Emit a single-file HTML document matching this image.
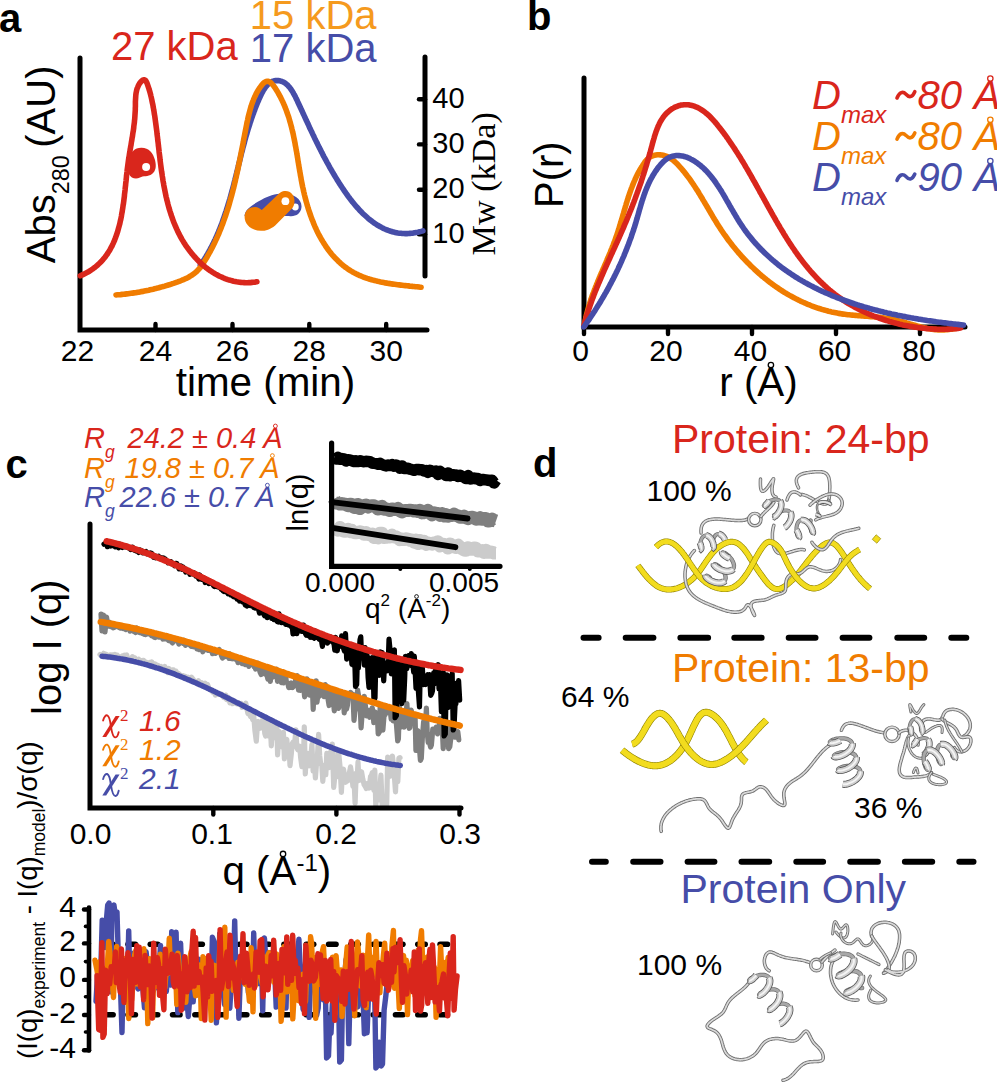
<!DOCTYPE html>
<html><head><meta charset="utf-8"><style>
html,body{margin:0;padding:0;background:#fff;}
svg{display:block;}
</style></head><body>
<svg width="997" height="1082" viewBox="0 0 997 1082">
<rect width="997" height="1082" fill="#fff"/>
<text x="-1" y="32" font-family="Liberation Sans, sans-serif" font-weight="bold" font-size="40">a</text>
<text x="111" y="59.5" font-family="Liberation Sans, sans-serif" font-size="40" fill="#d9261c">27 kDa</text>
<text x="249.8" y="29" font-family="Liberation Sans, sans-serif" font-size="40" fill="#f59a1e">15 kDa</text>
<text x="249.8" y="61.5" font-family="Liberation Sans, sans-serif" font-size="40" fill="#464da8">17 kDa</text>
<path d="M80,58 L80,330 L427,330" fill="none" stroke="#000" stroke-width="5" stroke-linecap="round"/>
<path d="M155.5,330 L155.5,324" fill="none" stroke="#000" stroke-width="4.4" stroke-linecap="round" stroke-linejoin="round" />
<path d="M232.5,330 L232.5,324" fill="none" stroke="#000" stroke-width="4.4" stroke-linecap="round" stroke-linejoin="round" />
<path d="M309.3,330 L309.3,324" fill="none" stroke="#000" stroke-width="4.4" stroke-linecap="round" stroke-linejoin="round" />
<path d="M386.2,330 L386.2,324" fill="none" stroke="#000" stroke-width="4.4" stroke-linecap="round" stroke-linejoin="round" />
<text x="77.5" y="360.5" font-family="Liberation Sans, sans-serif" font-size="30" text-anchor="middle">22</text>
<text x="155.5" y="360.5" font-family="Liberation Sans, sans-serif" font-size="30" text-anchor="middle">24</text>
<text x="232.5" y="360.5" font-family="Liberation Sans, sans-serif" font-size="30" text-anchor="middle">26</text>
<text x="309.3" y="360.5" font-family="Liberation Sans, sans-serif" font-size="30" text-anchor="middle">28</text>
<text x="386.2" y="360.5" font-family="Liberation Sans, sans-serif" font-size="30" text-anchor="middle">30</text>
<text x="265.5" y="395.5" font-family="Liberation Sans, sans-serif" font-size="40.4" text-anchor="middle">time (min)</text>
<text transform="translate(55,263.3) rotate(-90)" font-family="Liberation Sans, sans-serif" font-size="40">Abs<tspan font-size="23.4" dy="13.8">280</tspan><tspan dy="-13.8" dx="7.6">(AU)</tspan></text>
<path d="M425,57 L425,276" fill="none" stroke="#000" stroke-width="5" stroke-linecap="round" stroke-linejoin="round" />
<path d="M425,99.2 L419,99.2" fill="none" stroke="#000" stroke-width="4.4" stroke-linecap="round" stroke-linejoin="round" />
<text x="432.3" y="107.5" font-family="Liberation Sans, sans-serif" font-size="29">40</text>
<path d="M425,144.4 L419,144.4" fill="none" stroke="#000" stroke-width="4.4" stroke-linecap="round" stroke-linejoin="round" />
<text x="432.3" y="152.7" font-family="Liberation Sans, sans-serif" font-size="29">30</text>
<path d="M425,189.7 L419,189.7" fill="none" stroke="#000" stroke-width="4.4" stroke-linecap="round" stroke-linejoin="round" />
<text x="432.3" y="198.0" font-family="Liberation Sans, sans-serif" font-size="29">20</text>
<path d="M425,234.3 L419,234.3" fill="none" stroke="#000" stroke-width="4.4" stroke-linecap="round" stroke-linejoin="round" />
<text x="432.3" y="242.6" font-family="Liberation Sans, sans-serif" font-size="29">10</text>
<text transform="translate(494.5,255.5) rotate(-90)" font-family="Liberation Serif, serif" font-size="34.2">Mw (kDa)</text>
<path d="M200.3,265.1 201.2,263.9 202.0,262.6 202.9,261.4 203.7,260.2 204.5,259.0 205.3,257.7 206.1,256.4 206.8,255.2 207.6,253.9 208.3,252.6 209.1,251.3 209.8,250.0 210.5,248.7 211.2,247.4 211.9,246.0 212.6,244.7 213.3,243.3 213.9,242.0 214.6,240.6 215.2,239.3 215.8,237.9 216.5,236.5 217.1,235.1 217.7,233.7 218.3,232.3 218.9,230.9 219.4,229.5 220.0,228.1 220.6,226.7 221.1,225.3 221.7,223.8 222.2,222.4 222.7,221.0 223.2,219.5 223.7,218.1 224.2,216.6 224.7,215.2 225.2,213.7 225.7,212.3 226.2,210.8 226.6,209.4 227.1,207.9 227.6,206.5 228.0,205.0 228.5,203.5 228.9,202.1 229.3,200.6 229.8,199.1 230.2,197.7 230.6,196.2 231.0,194.7 231.4,193.3 231.8,191.8 232.2,190.3 232.6,188.9 233.0,187.4 233.4,185.9 233.8,184.5 234.1,183.0 234.5,181.6 234.9,180.1 235.2,178.7 235.6,177.2 236.0,175.8 236.3,174.3 236.7,172.9 237.0,171.4 237.4,170.0 237.7,168.6 238.1,167.1 238.4,165.7 238.8,164.3 239.2,162.8 239.5,161.4 239.9,160.0 240.2,158.6 240.6,157.1 240.9,155.7 241.3,154.3 241.6,152.8 242.0,151.4 242.4,150.0 242.7,148.6 243.1,147.1 243.5,145.7 243.9,144.3 244.3,142.8 244.6,141.4 245.0,140.0 245.4,138.5 245.8,137.1 246.2,135.7 246.7,134.2 247.1,132.8 247.5,131.3 247.9,129.9 248.4,128.4 248.8,127.0 249.3,125.5 249.8,124.1 250.2,122.6 250.7,121.2 251.2,119.7 251.7,118.2 252.2,116.8 252.7,115.3 253.3,113.8 253.8,112.3 254.4,110.8 254.9,109.3 255.5,107.8 256.1,106.3 256.7,104.8 257.3,103.3 257.9,101.8 258.6,100.3 259.2,98.8 259.9,97.3 260.6,95.8 261.3,94.3 262.0,92.9 262.8,91.5 263.5,90.1 264.4,88.8 265.2,87.6 266.1,86.5 267.0,85.4 267.9,84.4 268.9,83.5 270.0,82.7 271.0,82.1 272.1,81.5 273.3,81.1 274.5,80.8 275.7,80.6 277.0,80.6 278.2,80.6 279.5,80.8 280.7,81.1 282.0,81.5 283.2,82.0 284.4,82.7 285.5,83.4 286.6,84.3 287.6,85.2 288.6,86.3 289.6,87.4 290.5,88.6 291.4,89.9 292.3,91.3 293.1,92.6 293.9,94.1 294.7,95.5 295.5,97.1 296.2,98.6 297.0,100.1 297.7,101.7 298.4,103.2 299.1,104.7 299.8,106.2 300.5,107.8 301.2,109.2 301.9,110.7 302.6,112.2 303.2,113.7 303.9,115.1 304.6,116.6 305.2,118.0 305.9,119.4 306.5,120.8 307.2,122.2 307.8,123.6 308.5,125.0 309.1,126.4 309.7,127.8 310.4,129.1 311.0,130.5 311.7,131.8 312.3,133.2 312.9,134.5 313.6,135.8 314.2,137.2 314.8,138.5 315.5,139.8 316.1,141.1 316.7,142.4 317.4,143.7 318.0,145.0 318.7,146.3 319.3,147.6 320.0,148.9 320.6,150.2 321.3,151.5 321.9,152.7 322.6,154.0 323.2,155.3 323.9,156.6 324.6,157.8 325.3,159.1 326.0,160.4 326.6,161.7 327.3,162.9 328.1,164.2 328.8,165.5 329.5,166.8 330.2,168.1 330.9,169.3 331.7,170.6 332.4,171.9 333.2,173.2 333.9,174.5 334.7,175.8 335.5,177.1 336.3,178.4 337.1,179.7 337.9,181.0 338.7,182.3 339.5,183.6 340.4,184.9 341.2,186.2 342.1,187.5 343.0,188.8 343.8,190.1 344.7,191.4 345.6,192.7 346.5,194.0 347.5,195.3 348.4,196.6 349.3,197.8 350.3,199.1 351.2,200.3 352.2,201.6 353.2,202.8 354.2,204.0 355.2,205.2 356.2,206.4 357.2,207.5 358.3,208.7 359.3,209.8 360.4,211.0 361.5,212.1 362.5,213.2 363.6,214.2 364.8,215.3 365.9,216.3 367.0,217.3 368.1,218.3 369.3,219.3 370.5,220.2 371.7,221.1 372.8,222.0 374.0,222.8 375.3,223.7 376.5,224.5 377.7,225.3 379.0,226.0 380.3,226.7 381.5,227.4 382.8,228.1 384.1,228.7 385.5,229.3 386.8,229.8 388.1,230.4 389.5,230.8 390.9,231.3 392.3,231.7 393.7,232.1 395.1,232.4 396.5,232.7 397.9,233.0 399.4,233.2 400.9,233.3 402.3,233.5 403.8,233.5 405.3,233.6 406.9,233.6 408.4,233.5 410.0,233.4 411.5,233.3 413.1,233.1 414.7,232.8 416.3,232.5 417.9,232.2 419.6,231.8 421.2,231.4 422.9,230.9" fill="none" stroke="#464da8" stroke-width="5.6" stroke-linecap="round" stroke-linejoin="round" />
<path d="M116.0,295.0 117.5,294.8 119.0,294.7 120.5,294.6 122.1,294.4 123.6,294.3 125.1,294.1 126.6,293.9 128.1,293.7 129.6,293.5 131.0,293.3 132.5,293.1 134.0,292.9 135.5,292.7 137.0,292.4 138.5,292.2 139.9,291.9 141.4,291.6 142.9,291.4 144.3,291.1 145.8,290.8 147.3,290.5 148.7,290.2 150.2,289.8 151.7,289.5 153.1,289.2 154.6,288.8 156.0,288.4 157.5,288.1 158.9,287.7 160.4,287.3 161.8,286.9 163.3,286.5 164.7,286.1 166.2,285.6 167.6,285.2 169.1,284.8 170.5,284.3 172.0,283.8 173.4,283.4 174.9,282.9 176.3,282.4 177.8,281.9 179.2,281.3 180.6,280.8 182.0,280.2 183.5,279.6 184.8,279.0 186.2,278.4 187.6,277.7 188.9,277.0 190.2,276.2 191.5,275.4 192.7,274.6 193.9,273.7 195.1,272.8 196.2,271.9 197.3,270.8 198.3,269.8 199.3,268.6 200.3,267.5 201.2,266.3 202.1,265.0 203.0,263.7 203.8,262.4 204.6,261.1 205.4,259.8 206.2,258.5 207.0,257.2 207.7,255.8 208.5,254.5 209.2,253.2 210.0,251.8 210.7,250.5 211.4,249.2 212.1,247.8 212.8,246.5 213.5,245.1 214.1,243.8 214.8,242.4 215.4,241.1 216.0,239.7 216.7,238.4 217.3,237.0 217.9,235.6 218.5,234.3 219.1,232.9 219.6,231.5 220.2,230.1 220.8,228.7 221.3,227.4 221.8,226.0 222.4,224.6 222.9,223.2 223.4,221.8 223.9,220.4 224.4,219.0 224.9,217.6 225.4,216.2 225.9,214.8 226.3,213.4 226.8,212.0 227.2,210.6 227.7,209.2 228.1,207.8 228.6,206.3 229.0,204.9 229.4,203.5 229.8,202.1 230.2,200.6 230.6,199.2 231.0,197.8 231.4,196.3 231.8,194.9 232.2,193.4 232.6,192.0 232.9,190.6 233.3,189.1 233.7,187.7 234.0,186.2 234.4,184.7 234.7,183.3 235.1,181.8 235.4,180.4 235.7,178.9 236.1,177.4 236.4,176.0 236.7,174.5 237.0,173.0 237.4,171.5 237.7,170.1 238.0,168.6 238.3,167.1 238.6,165.6 238.9,164.1 239.2,162.6 239.5,161.1 239.8,159.6 240.1,158.1 240.4,156.6 240.7,155.1 241.0,153.6 241.3,152.1 241.6,150.6 241.9,149.1 242.2,147.6 242.5,146.1 242.8,144.6 243.1,143.1 243.4,141.5 243.6,140.0 243.9,138.5 244.2,137.0 244.5,135.4 244.8,133.9 245.1,132.4 245.4,130.8 245.7,129.3 246.0,127.7 246.3,126.2 246.6,124.7 246.9,123.1 247.2,121.6 247.6,120.1 247.9,118.5 248.2,117.0 248.6,115.5 249.0,114.0 249.4,112.5 249.8,111.0 250.2,109.5 250.6,108.0 251.1,106.5 251.5,105.1 252.0,103.6 252.5,102.2 253.1,100.8 253.6,99.4 254.2,98.0 254.8,96.6 255.5,95.3 256.1,93.9 256.8,92.6 257.5,91.3 258.3,90.1 259.1,88.8 259.9,87.6 260.8,86.4 261.7,85.2 262.6,84.2 263.5,83.2 264.4,82.4 265.4,81.8 266.4,81.4 267.3,81.2 268.3,81.3 269.2,81.7 270.2,82.2 271.1,83.0 272.0,83.9 272.9,85.0 273.8,86.1 274.7,87.4 275.6,88.7 276.4,90.0 277.2,91.3 278.0,92.6 278.7,94.0 279.5,95.3 280.2,96.6 280.9,98.0 281.6,99.4 282.2,100.7 282.9,102.1 283.5,103.5 284.1,104.8 284.7,106.2 285.2,107.6 285.8,109.0 286.3,110.4 286.8,111.8 287.3,113.2 287.8,114.6 288.3,116.0 288.8,117.4 289.2,118.9 289.6,120.3 290.0,121.7 290.4,123.1 290.8,124.6 291.2,126.0 291.6,127.5 291.9,128.9 292.3,130.4 292.6,131.8 293.0,133.3 293.3,134.7 293.6,136.2 293.9,137.7 294.2,139.1 294.5,140.6 294.8,142.1 295.1,143.6 295.3,145.1 295.6,146.5 295.9,148.0 296.1,149.5 296.4,151.0 296.7,152.5 296.9,154.0 297.2,155.5 297.4,157.0 297.7,158.5 297.9,160.0 298.1,161.5 298.4,163.0 298.6,164.5 298.9,166.0 299.1,167.5 299.4,169.0 299.6,170.5 299.9,172.0 300.2,173.5 300.4,175.0 300.7,176.5 301.0,178.0 301.2,179.5 301.5,181.1 301.8,182.6 302.1,184.1 302.4,185.6 302.7,187.1 303.1,188.6 303.4,190.1 303.7,191.6 304.1,193.1 304.4,194.6 304.8,196.1 305.2,197.7 305.6,199.2 306.0,200.7 306.4,202.2 306.8,203.6 307.2,205.1 307.7,206.6 308.1,208.1 308.6,209.6 309.1,211.1 309.6,212.5 310.1,214.0 310.6,215.5 311.1,216.9 311.6,218.4 312.2,219.8 312.8,221.2 313.3,222.7 313.9,224.1 314.5,225.5 315.1,226.9 315.8,228.3 316.4,229.7 317.0,231.0 317.7,232.4 318.4,233.8 319.1,235.1 319.8,236.4 320.5,237.7 321.3,239.1 322.0,240.3 322.8,241.6 323.6,242.9 324.4,244.1 325.2,245.4 326.0,246.6 326.8,247.8 327.7,249.0 328.6,250.2 329.5,251.4 330.4,252.5 331.3,253.7 332.2,254.8 333.2,255.9 334.2,257.0 335.1,258.0 336.2,259.1 337.2,260.1 338.2,261.1 339.3,262.1 340.3,263.1 341.4,264.0 342.5,265.0 343.7,265.9 344.8,266.8 346.0,267.6 347.2,268.5 348.4,269.3 349.6,270.1 350.8,270.9 352.1,271.6 353.3,272.4 354.6,273.1 356.0,273.8 357.3,274.4 358.6,275.0 360.0,275.7 361.4,276.2 362.8,276.8 364.2,277.3 365.7,277.9 367.1,278.4 368.6,278.8 370.0,279.3 371.5,279.7 373.0,280.1 374.5,280.5 376.1,280.9 377.6,281.3 379.1,281.6 380.7,282.0 382.2,282.3 383.7,282.6 385.3,282.9 386.8,283.1 388.4,283.4 390.0,283.6 391.5,283.9 393.1,284.1 394.6,284.3 396.2,284.5 397.7,284.7 399.2,284.9 400.8,285.1 402.3,285.3 403.8,285.5 405.3,285.6 406.8,285.8 408.3,285.9 409.8,286.1 411.2,286.2 412.7,286.4 414.1,286.5 415.5,286.7 417.0,286.8 418.3,286.9 419.7,287.1 421.1,287.2" fill="none" stroke="#f07c00" stroke-width="5.6" stroke-linecap="round" stroke-linejoin="round" />
<path d="M80.3,275.8 81.8,275.1 83.3,274.4 84.7,273.7 86.1,273.0 87.5,272.3 88.9,271.5 90.2,270.7 91.5,269.8 92.7,269.0 93.9,268.1 95.1,267.2 96.2,266.2 97.4,265.3 98.4,264.3 99.5,263.3 100.5,262.3 101.5,261.3 102.5,260.2 103.4,259.1 104.3,258.0 105.2,256.9 106.0,255.7 106.9,254.6 107.7,253.4 108.4,252.2 109.2,251.0 109.9,249.8 110.6,248.5 111.3,247.2 112.0,246.0 112.6,244.7 113.2,243.4 113.8,242.0 114.4,240.7 114.9,239.3 115.4,238.0 115.9,236.6 116.4,235.2 116.9,233.8 117.4,232.4 117.8,231.0 118.2,229.5 118.6,228.1 119.0,226.6 119.4,225.1 119.8,223.7 120.1,222.2 120.4,220.7 120.8,219.2 121.1,217.7 121.4,216.2 121.6,214.7 121.9,213.1 122.2,211.6 122.4,210.1 122.7,208.5 122.9,207.0 123.1,205.4 123.4,203.9 123.6,202.3 123.8,200.8 124.0,199.2 124.2,197.6 124.4,196.1 124.5,194.5 124.7,193.0 124.9,191.4 125.1,189.8 125.2,188.3 125.4,186.7 125.6,185.2 125.7,183.6 125.9,182.1 126.1,180.5 126.2,179.0 126.4,177.4 126.5,175.9 126.7,174.3 126.9,172.8 127.1,171.3 127.2,169.8 127.4,168.3 127.6,166.8 127.8,165.3 128.0,163.8 128.2,162.3 128.4,160.8 128.6,159.4 128.8,157.9 129.1,156.5 129.3,155.0 129.5,153.6 129.8,152.2 130.0,150.8 130.2,149.3 130.5,147.9 130.7,146.5 131.0,145.1 131.2,143.7 131.4,142.3 131.7,140.8 131.9,139.4 132.1,138.0 132.4,136.6 132.6,135.2 132.8,133.7 133.0,132.3 133.3,130.9 133.5,129.4 133.7,128.0 133.8,126.5 134.0,125.0 134.2,123.6 134.4,122.1 134.5,120.6 134.7,119.1 134.8,117.6 134.9,116.1 135.0,114.5 135.1,113.0 135.2,111.4 135.3,109.8 135.3,108.2 135.4,106.6 135.4,105.0 135.4,103.4 135.4,101.7 135.5,100.1 135.6,98.4 135.7,96.8 135.8,95.2 136.0,93.6 136.3,92.0 136.6,90.5 137.0,88.9 137.6,87.5 138.2,86.0 138.9,84.6 139.7,83.3 140.7,82.0 141.7,81.0 142.7,80.2 143.7,79.8 144.6,79.8 145.4,80.3 146.1,81.2 146.7,82.4 147.3,83.8 147.8,85.3 148.3,86.8 148.8,88.3 149.2,89.8 149.7,91.2 150.1,92.7 150.5,94.2 150.8,95.6 151.2,97.1 151.5,98.5 151.8,99.9 152.1,101.4 152.4,102.8 152.7,104.2 153.0,105.6 153.2,107.1 153.5,108.5 153.7,110.0 154.0,111.4 154.2,112.9 154.4,114.3 154.7,115.8 154.9,117.2 155.1,118.7 155.3,120.2 155.5,121.7 155.7,123.1 155.9,124.6 156.1,126.1 156.3,127.6 156.5,129.1 156.7,130.6 156.9,132.1 157.0,133.6 157.2,135.1 157.4,136.6 157.6,138.1 157.7,139.7 157.9,141.2 158.1,142.7 158.3,144.2 158.4,145.7 158.6,147.2 158.8,148.8 159.0,150.3 159.1,151.8 159.3,153.3 159.5,154.9 159.7,156.4 159.9,157.9 160.0,159.4 160.2,161.0 160.4,162.5 160.6,164.0 160.8,165.5 161.0,167.1 161.2,168.6 161.4,170.1 161.6,171.6 161.9,173.1 162.1,174.7 162.3,176.2 162.6,177.7 162.8,179.2 163.0,180.7 163.3,182.2 163.6,183.7 163.8,185.2 164.1,186.7 164.4,188.2 164.7,189.7 165.0,191.2 165.3,192.7 165.6,194.2 165.9,195.7 166.2,197.1 166.6,198.6 166.9,200.1 167.3,201.5 167.7,203.0 168.0,204.4 168.4,205.9 168.8,207.3 169.2,208.8 169.7,210.2 170.1,211.6 170.6,213.1 171.0,214.5 171.5,215.9 172.0,217.3 172.5,218.7 173.0,220.1 173.5,221.5 174.0,222.9 174.6,224.2 175.2,225.6 175.8,227.0 176.4,228.3 177.0,229.7 177.6,231.0 178.2,232.3 178.9,233.7 179.6,235.0 180.3,236.3 181.0,237.6 181.7,238.9 182.4,240.1 183.2,241.4 184.0,242.7 184.8,243.9 185.6,245.2 186.4,246.4 187.3,247.6 188.2,248.8 189.0,250.0 190.0,251.2 190.9,252.4 191.8,253.6 192.8,254.7 193.8,255.9 194.8,257.0 195.8,258.1 196.8,259.2 197.9,260.3 198.9,261.4 200.0,262.4 201.1,263.4 202.2,264.5 203.4,265.4 204.5,266.4 205.7,267.4 206.9,268.3 208.1,269.2 209.3,270.1 210.5,270.9 211.8,271.7 213.0,272.6 214.3,273.3 215.6,274.1 216.9,274.8 218.2,275.5 219.5,276.2 220.9,276.8 222.3,277.4 223.6,278.0 225.0,278.6 226.4,279.1 227.8,279.6 229.2,280.0 230.7,280.4 232.1,280.8 233.6,281.2 235.1,281.5 236.6,281.8 238.1,282.0 239.6,282.2 241.1,282.4 242.6,282.5 244.2,282.6 245.7,282.7 247.3,282.7 248.9,282.6 250.4,282.6 252.0,282.4 253.6,282.3 255.3,282.1 256.9,281.8" fill="none" stroke="#d9261c" stroke-width="5.6" stroke-linecap="round" stroke-linejoin="round" />
<path fill="#464da8" d="M244.5,216 C245,209 252,205 262,199.5 C268,196 277,193 284,193.5 C294,194 302,199 301.5,207 C301,214 295,217 289,216 L268,216 Z"/>
<circle cx="295.3" cy="207" r="3.4" fill="#fff"/>
<path fill="#f07c00" d="M244.6,216.3 C245,210 250,207 255,207 C258,207 260,208.5 261.8,210.1 L278.5,194.1 C281,191.5 283.5,191 285.6,191 C291,191 294.5,195.5 294.5,201 C294.5,205 293,207.5 291.5,209.1 L275.2,225.4 C270,229.5 266,230.8 260.9,230.8 C252,230.8 244.3,225 244.6,216.3 Z"/>
<circle cx="285.4" cy="201.2" r="3.9" fill="#fff"/>
<path fill="#d9261c" d="M129,160 C130,152 135,147.6 141.6,147.8 C149,148 153,153 155,160 C156.5,166 156,171 152,174 C148,177 143,175.5 140,177.5 C136,179.5 131,178.5 129,174 Z"/>
<circle cx="146.1" cy="167.1" r="4" fill="#fff"/>
<text x="527" y="30" font-family="Liberation Sans, sans-serif" font-weight="bold" font-size="40">b</text>
<path d="M584,78 L584,327 L965,327" fill="none" stroke="#000" stroke-width="5" stroke-linecap="round"/>
<path d="M584.0,327 L584.0,334" fill="none" stroke="#000" stroke-width="4.4" stroke-linecap="round" stroke-linejoin="round" />
<path d="M668.0,327 L668.0,334" fill="none" stroke="#000" stroke-width="4.4" stroke-linecap="round" stroke-linejoin="round" />
<path d="M752.0,327 L752.0,334" fill="none" stroke="#000" stroke-width="4.4" stroke-linecap="round" stroke-linejoin="round" />
<path d="M836.0,327 L836.0,334" fill="none" stroke="#000" stroke-width="4.4" stroke-linecap="round" stroke-linejoin="round" />
<path d="M920.0,327 L920.0,334" fill="none" stroke="#000" stroke-width="4.4" stroke-linecap="round" stroke-linejoin="round" />
<text x="580.5" y="361" font-family="Liberation Sans, sans-serif" font-size="30" text-anchor="middle">0</text>
<text x="666.0" y="361" font-family="Liberation Sans, sans-serif" font-size="30" text-anchor="middle">20</text>
<text x="750.5" y="361" font-family="Liberation Sans, sans-serif" font-size="30" text-anchor="middle">40</text>
<text x="834.6" y="361" font-family="Liberation Sans, sans-serif" font-size="30" text-anchor="middle">60</text>
<text x="919.0" y="361" font-family="Liberation Sans, sans-serif" font-size="30" text-anchor="middle">80</text>
<text x="758.5" y="395.8" font-family="Liberation Sans, sans-serif" font-size="40.4" text-anchor="middle">r (A)</text>
<text transform="translate(563,208) rotate(-90)" font-family="Liberation Sans, sans-serif" font-size="40">P(r)</text>
<path d="M584.3,326.2 584.6,324.6 584.8,323.1 585.1,321.6 585.4,320.1 585.7,318.5 586.0,317.0 586.4,315.5 586.7,314.1 587.1,312.6 587.5,311.1 587.9,309.6 588.3,308.2 588.7,306.7 589.1,305.3 589.6,303.8 590.0,302.4 590.5,301.0 591.0,299.5 591.4,298.1 591.9,296.7 592.4,295.3 592.9,293.9 593.5,292.5 594.0,291.1 594.5,289.7 595.1,288.3 595.6,286.9 596.2,285.5 596.7,284.1 597.3,282.8 597.8,281.4 598.4,280.0 599.0,278.6 599.6,277.2 600.1,275.9 600.7,274.5 601.3,273.1 601.9,271.8 602.5,270.4 603.1,269.0 603.7,267.7 604.3,266.3 604.9,264.9 605.5,263.5 606.1,262.2 606.7,260.8 607.2,259.4 607.8,258.0 608.4,256.7 609.0,255.3 609.6,253.9 610.2,252.5 610.7,251.1 611.3,249.7 611.9,248.3 612.4,246.9 613.0,245.5 613.5,244.1 614.0,242.7 614.6,241.3 615.1,239.9 615.6,238.5 616.1,237.0 616.6,235.6 617.1,234.2 617.6,232.7 618.1,231.3 618.5,229.8 619.0,228.4 619.4,226.9 619.9,225.4 620.3,224.0 620.8,222.5 621.2,221.0 621.7,219.5 622.1,218.1 622.5,216.6 622.9,215.1 623.4,213.6 623.8,212.2 624.2,210.7 624.7,209.2 625.1,207.7 625.5,206.3 626.0,204.8 626.4,203.3 626.9,201.9 627.3,200.4 627.8,199.0 628.3,197.5 628.7,196.1 629.2,194.6 629.7,193.2 630.2,191.8 630.7,190.3 631.2,188.9 631.8,187.5 632.3,186.1 632.9,184.7 633.4,183.3 634.0,181.9 634.6,180.6 635.2,179.2 635.8,177.8 636.4,176.5 637.1,175.2 637.8,173.8 638.4,172.5 639.2,171.2 639.9,169.9 640.6,168.7 641.4,167.4 642.2,166.2 643.0,164.9 643.8,163.7 644.6,162.5 645.5,161.3 646.4,160.2 647.4,159.2 648.5,158.3 649.5,157.4 650.7,156.7 651.9,156.1 653.2,155.6 654.6,155.2 655.9,155.0 657.4,154.8 658.8,154.8 660.3,154.9 661.7,155.0 663.2,155.3 664.6,155.7 666.1,156.2 667.5,156.7 668.8,157.4 670.1,158.2 671.4,159.0 672.7,159.9 673.9,160.9 675.0,161.9 676.2,163.0 677.3,164.1 678.4,165.2 679.4,166.4 680.5,167.6 681.5,168.7 682.5,169.9 683.5,171.1 684.5,172.3 685.4,173.5 686.4,174.8 687.3,176.0 688.3,177.2 689.2,178.4 690.1,179.7 690.9,180.9 691.8,182.2 692.7,183.4 693.5,184.7 694.4,186.0 695.2,187.2 696.0,188.5 696.8,189.8 697.7,191.0 698.5,192.3 699.2,193.6 700.0,194.9 700.8,196.2 701.6,197.5 702.4,198.8 703.1,200.1 703.9,201.4 704.7,202.7 705.4,204.0 706.2,205.2 706.9,206.5 707.7,207.8 708.5,209.1 709.2,210.4 710.0,211.7 710.7,213.0 711.5,214.3 712.3,215.6 713.0,216.9 713.8,218.2 714.6,219.5 715.4,220.7 716.2,222.0 716.9,223.3 717.7,224.6 718.5,225.8 719.4,227.1 720.2,228.4 721.0,229.6 721.8,230.9 722.7,232.1 723.5,233.4 724.4,234.6 725.3,235.8 726.2,237.0 727.0,238.3 727.9,239.5 728.8,240.7 729.8,241.9 730.7,243.1 731.6,244.3 732.5,245.5 733.5,246.7 734.4,247.8 735.4,249.0 736.4,250.2 737.3,251.3 738.3,252.5 739.3,253.6 740.3,254.7 741.3,255.9 742.3,257.0 743.3,258.1 744.4,259.2 745.4,260.3 746.5,261.4 747.5,262.5 748.6,263.6 749.6,264.6 750.7,265.7 751.8,266.8 752.9,267.8 754.0,268.8 755.1,269.9 756.2,270.9 757.3,271.9 758.4,272.9 759.5,273.9 760.7,274.9 761.8,275.9 763.0,276.8 764.1,277.8 765.3,278.7 766.5,279.7 767.7,280.6 768.8,281.5 770.0,282.4 771.2,283.3 772.4,284.2 773.6,285.1 774.9,286.0 776.1,286.8 777.3,287.7 778.6,288.5 779.8,289.4 781.0,290.2 782.3,291.0 783.6,291.8 784.8,292.6 786.1,293.3 787.4,294.1 788.7,294.9 790.0,295.6 791.3,296.3 792.6,297.0 793.9,297.7 795.2,298.4 796.5,299.1 797.9,299.8 799.2,300.4 800.5,301.1 801.9,301.7 803.2,302.3 804.6,302.9 806.0,303.5 807.3,304.1 808.7,304.7 810.1,305.2 811.5,305.8 812.9,306.3 814.3,306.8 815.7,307.3 817.1,307.8 818.5,308.3 819.9,308.7 821.3,309.2 822.8,309.6 824.2,310.0 825.6,310.4 827.1,310.8 828.5,311.2 830.0,311.5 831.4,311.9 832.9,312.2 834.4,312.5 835.8,312.8 837.3,313.1 838.8,313.4 840.3,313.6 841.8,313.9 843.3,314.1 844.8,314.3 846.3,314.5 847.8,314.7 849.3,314.8 850.8,315.0 852.3,315.1 853.9,315.3 855.4,315.4 856.9,315.5 858.4,315.7 860.0,315.8 861.5,315.9 863.0,316.0 864.6,316.1 866.1,316.2 867.6,316.3 869.1,316.5 870.7,316.6 872.2,316.7 873.7,316.8 875.2,317.0 876.8,317.1 878.3,317.3 879.8,317.4 881.3,317.6 882.8,317.8 884.3,318.0 885.8,318.2 887.3,318.4 888.8,318.7 890.3,318.9 891.7,319.2 893.2,319.5 894.7,319.8 896.1,320.1 897.6,320.5 899.0,320.9 900.5,321.2 901.9,321.6 903.4,322.0 904.8,322.4 906.2,322.8 907.7,323.3 909.1,323.7 910.5,324.1 911.9,324.5 913.4,324.9 914.8,325.3 916.2,325.7 917.7,326.1 919.1,326.5 920.5,326.9 922.0,327.3 923.4,327.6 924.9,327.9 926.3,328.3 927.8,328.6 929.2,328.8 930.7,329.1 932.2,329.3 933.6,329.5 935.1,329.6 936.6,329.8 938.1,329.9 939.6,330.0 941.2,330.0 942.7,330.0 944.2,329.9 945.8,329.8 947.3,329.7 948.9,329.5 950.5,329.3 952.1,329.1 953.7,328.7 955.3,328.4 957.0,328.0 958.6,327.5" fill="none" stroke="#f07c00" stroke-width="5.6" stroke-linecap="round" stroke-linejoin="round" />
<path d="M584.0,325.9 584.3,324.5 584.7,323.1 585.1,321.7 585.5,320.2 585.9,318.8 586.3,317.4 586.7,316.0 587.1,314.6 587.6,313.1 588.0,311.7 588.5,310.3 588.9,308.9 589.4,307.5 589.9,306.0 590.4,304.6 590.9,303.2 591.4,301.8 591.9,300.4 592.4,299.0 593.0,297.6 593.5,296.1 594.0,294.7 594.6,293.3 595.1,291.9 595.7,290.5 596.3,289.1 596.8,287.7 597.4,286.3 598.0,284.9 598.6,283.5 599.2,282.1 599.8,280.7 600.4,279.3 601.0,277.9 601.6,276.5 602.2,275.1 602.8,273.7 603.4,272.3 604.0,270.9 604.6,269.5 605.3,268.1 605.9,266.7 606.5,265.3 607.1,263.9 607.8,262.5 608.4,261.2 609.0,259.8 609.7,258.4 610.3,257.0 610.9,255.6 611.5,254.2 612.2,252.9 612.8,251.5 613.4,250.1 614.1,248.7 614.7,247.4 615.3,246.0 615.9,244.6 616.6,243.2 617.2,241.9 617.8,240.5 618.4,239.1 619.0,237.8 619.6,236.4 620.2,235.1 620.8,233.7 621.4,232.3 622.0,231.0 622.6,229.6 623.2,228.3 623.8,226.9 624.3,225.6 624.9,224.2 625.5,222.9 626.1,221.5 626.6,220.2 627.2,218.8 627.7,217.5 628.3,216.1 628.8,214.8 629.4,213.4 629.9,212.0 630.5,210.7 631.0,209.3 631.6,208.0 632.1,206.6 632.6,205.2 633.1,203.9 633.7,202.5 634.2,201.1 634.7,199.8 635.2,198.4 635.7,197.0 636.2,195.6 636.7,194.3 637.2,192.9 637.7,191.5 638.2,190.1 638.7,188.7 639.2,187.3 639.7,185.9 640.2,184.5 640.7,183.1 641.2,181.7 641.6,180.2 642.1,178.8 642.6,177.4 643.0,175.9 643.5,174.5 644.0,173.0 644.4,171.6 644.9,170.1 645.3,168.7 645.8,167.2 646.3,165.7 646.7,164.2 647.1,162.7 647.6,161.2 648.0,159.7 648.5,158.2 648.9,156.7 649.3,155.2 649.8,153.6 650.2,152.1 650.6,150.6 651.0,149.0 651.5,147.4 651.9,145.9 652.3,144.3 652.7,142.7 653.2,141.1 653.6,139.6 654.1,138.0 654.5,136.4 655.0,134.9 655.5,133.4 656.0,131.8 656.6,130.3 657.1,128.8 657.7,127.4 658.3,125.9 659.0,124.5 659.6,123.2 660.3,121.8 661.1,120.5 661.9,119.2 662.7,118.0 663.6,116.7 664.5,115.6 665.4,114.5 666.4,113.4 667.5,112.4 668.5,111.4 669.7,110.5 670.8,109.6 672.0,108.8 673.3,108.1 674.5,107.4 675.8,106.8 677.1,106.3 678.4,105.8 679.8,105.4 681.1,105.1 682.5,104.9 683.8,104.7 685.2,104.7 686.6,104.7 687.9,104.8 689.3,104.9 690.7,105.2 692.0,105.5 693.3,105.9 694.6,106.3 695.9,106.8 697.2,107.3 698.4,107.9 699.6,108.6 700.8,109.3 702.0,110.1 703.1,110.8 704.3,111.7 705.4,112.6 706.5,113.5 707.6,114.4 708.7,115.4 709.8,116.4 710.8,117.5 711.8,118.6 712.9,119.7 713.9,120.8 714.9,121.9 715.9,123.1 716.9,124.3 717.8,125.5 718.8,126.7 719.7,127.9 720.7,129.1 721.6,130.3 722.5,131.5 723.5,132.8 724.4,134.0 725.3,135.2 726.2,136.5 727.1,137.7 728.0,139.0 728.9,140.3 729.7,141.5 730.6,142.8 731.5,144.1 732.3,145.4 733.2,146.6 734.0,147.9 734.9,149.2 735.7,150.5 736.6,151.8 737.4,153.1 738.2,154.4 739.0,155.7 739.9,157.0 740.7,158.3 741.5,159.7 742.3,161.0 743.1,162.3 743.9,163.6 744.7,164.9 745.4,166.3 746.2,167.6 747.0,168.9 747.8,170.3 748.6,171.6 749.3,172.9 750.1,174.3 750.9,175.6 751.6,177.0 752.4,178.3 753.1,179.6 753.9,181.0 754.7,182.3 755.4,183.7 756.2,185.0 756.9,186.4 757.7,187.7 758.4,189.1 759.2,190.4 759.9,191.8 760.6,193.1 761.4,194.4 762.1,195.8 762.9,197.1 763.6,198.5 764.4,199.8 765.1,201.2 765.8,202.5 766.6,203.8 767.3,205.2 768.1,206.5 768.8,207.9 769.6,209.2 770.3,210.5 771.1,211.9 771.8,213.2 772.6,214.5 773.3,215.8 774.1,217.2 774.8,218.5 775.6,219.8 776.3,221.1 777.1,222.4 777.8,223.7 778.6,225.0 779.4,226.3 780.1,227.6 780.9,228.9 781.7,230.2 782.5,231.5 783.3,232.8 784.0,234.1 784.8,235.4 785.6,236.6 786.4,237.9 787.2,239.2 788.0,240.4 788.8,241.7 789.6,242.9 790.4,244.2 791.3,245.4 792.1,246.7 792.9,247.9 793.8,249.1 794.6,250.4 795.4,251.6 796.3,252.8 797.1,254.0 798.0,255.2 798.9,256.4 799.7,257.6 800.6,258.7 801.5,259.9 802.4,261.1 803.3,262.3 804.2,263.4 805.1,264.6 806.0,265.7 807.0,266.8 807.9,268.0 808.8,269.1 809.8,270.2 810.7,271.3 811.7,272.4 812.7,273.5 813.6,274.6 814.6,275.6 815.6,276.7 816.6,277.8 817.6,278.8 818.6,279.9 819.7,280.9 820.7,281.9 821.8,282.9 822.8,283.9 823.9,284.9 824.9,285.9 826.0,286.9 827.1,287.9 828.2,288.8 829.3,289.8 830.4,290.7 831.6,291.7 832.7,292.6 833.9,293.5 835.0,294.4 836.2,295.3 837.4,296.2 838.6,297.0 839.8,297.9 841.0,298.7 842.2,299.6 843.5,300.4 844.7,301.2 846.0,302.0 847.3,302.8 848.5,303.6 849.8,304.4 851.1,305.1 852.5,305.9 853.8,306.6 855.1,307.4 856.5,308.1 857.8,308.8 859.2,309.5 860.5,310.2 861.9,310.8 863.3,311.5 864.7,312.1 866.1,312.8 867.5,313.4 868.9,314.0 870.3,314.6 871.7,315.2 873.2,315.8 874.6,316.3 876.0,316.9 877.5,317.4 878.9,318.0 880.4,318.5 881.9,319.0 883.3,319.5 884.8,320.0 886.3,320.5 887.8,320.9 889.2,321.4 890.7,321.8 892.2,322.2 893.7,322.6 895.2,323.0 896.7,323.4 898.2,323.8 899.7,324.2 901.2,324.5 902.7,324.9 904.3,325.2 905.8,325.5 907.3,325.8 908.8,326.1 910.3,326.4 911.8,326.6 913.3,326.9 914.9,327.1 916.4,327.3 917.9,327.6 919.4,327.8 920.9,327.9 922.4,328.1 923.9,328.3 925.5,328.4 927.0,328.6 928.5,328.7 930.0,328.8 931.5,328.9 933.0,329.0 934.5,329.1 936.0,329.1 937.5,329.2 938.9,329.2 940.4,329.2 941.9,329.2 943.4,329.2 944.8,329.2 946.3,329.2 947.8,329.1 949.2,329.1 950.7,329.0 952.1,328.9 953.5,328.8 955.0,328.7 956.4,328.6 957.8,328.5 959.2,328.3 960.6,328.1" fill="none" stroke="#d9261c" stroke-width="5.6" stroke-linecap="round" stroke-linejoin="round" />
<path d="M583.8,326.9 584.7,325.7 585.6,324.5 586.5,323.2 587.3,322.0 588.2,320.7 589.1,319.5 589.9,318.2 590.7,317.0 591.6,315.7 592.4,314.5 593.2,313.2 594.1,311.9 594.9,310.7 595.7,309.4 596.5,308.1 597.3,306.8 598.1,305.5 598.9,304.3 599.7,303.0 600.5,301.7 601.2,300.4 602.0,299.1 602.8,297.8 603.5,296.5 604.3,295.2 605.0,293.9 605.8,292.6 606.5,291.3 607.3,290.0 608.0,288.6 608.7,287.3 609.4,286.0 610.1,284.7 610.8,283.4 611.5,282.0 612.2,280.7 612.9,279.4 613.6,278.0 614.3,276.7 614.9,275.3 615.6,274.0 616.3,272.6 616.9,271.3 617.6,269.9 618.2,268.6 618.8,267.2 619.5,265.9 620.1,264.5 620.7,263.1 621.3,261.8 621.9,260.4 622.5,259.0 623.1,257.6 623.7,256.3 624.3,254.9 624.8,253.5 625.4,252.1 626.0,250.7 626.5,249.3 627.1,247.9 627.6,246.5 628.2,245.1 628.7,243.7 629.2,242.3 629.7,240.9 630.2,239.5 630.8,238.1 631.3,236.7 631.7,235.2 632.2,233.8 632.7,232.4 633.2,231.0 633.7,229.5 634.1,228.1 634.6,226.7 635.0,225.2 635.5,223.8 635.9,222.4 636.3,220.9 636.7,219.5 637.2,218.0 637.6,216.6 638.0,215.1 638.4,213.7 638.8,212.2 639.2,210.8 639.6,209.3 640.1,207.9 640.5,206.4 640.9,205.0 641.3,203.5 641.8,202.0 642.2,200.6 642.7,199.2 643.2,197.7 643.7,196.3 644.1,194.8 644.7,193.4 645.2,191.9 645.7,190.5 646.3,189.1 646.9,187.7 647.5,186.2 648.1,184.8 648.7,183.4 649.4,182.0 650.1,180.6 650.8,179.2 651.6,177.8 652.3,176.5 653.1,175.1 654.0,173.7 654.8,172.4 655.7,171.0 656.7,169.7 657.6,168.3 658.6,167.0 659.7,165.7 660.7,164.5 661.8,163.3 662.9,162.2 664.0,161.1 665.2,160.1 666.4,159.2 667.6,158.4 668.8,157.7 670.0,157.1 671.3,156.6 672.6,156.2 673.8,155.9 675.1,155.7 676.4,155.5 677.7,155.5 679.1,155.6 680.4,155.7 681.7,155.9 683.0,156.1 684.3,156.5 685.6,156.9 687.0,157.3 688.3,157.9 689.6,158.4 690.8,159.1 692.1,159.8 693.4,160.5 694.6,161.2 695.8,162.1 697.1,162.9 698.2,163.8 699.4,164.7 700.6,165.6 701.7,166.6 702.8,167.5 703.9,168.5 704.9,169.6 706.0,170.6 707.0,171.7 708.0,172.8 709.0,173.9 709.9,175.1 710.9,176.2 711.8,177.4 712.8,178.6 713.7,179.8 714.6,181.0 715.5,182.2 716.3,183.5 717.2,184.8 718.0,186.0 718.9,187.3 719.7,188.6 720.5,189.9 721.4,191.2 722.2,192.6 723.0,193.9 723.8,195.3 724.6,196.6 725.4,198.0 726.1,199.3 726.9,200.7 727.7,202.0 728.5,203.4 729.3,204.8 730.0,206.1 730.8,207.5 731.6,208.9 732.4,210.2 733.2,211.6 734.0,213.0 734.8,214.3 735.6,215.7 736.4,217.0 737.2,218.4 738.0,219.7 738.8,221.0 739.6,222.3 740.5,223.6 741.3,224.9 742.2,226.2 743.1,227.5 743.9,228.7 744.8,230.0 745.7,231.2 746.6,232.4 747.5,233.7 748.5,234.9 749.4,236.1 750.4,237.2 751.3,238.4 752.3,239.6 753.2,240.7 754.2,241.9 755.2,243.0 756.2,244.1 757.2,245.2 758.2,246.3 759.3,247.4 760.3,248.5 761.3,249.6 762.4,250.6 763.5,251.7 764.5,252.7 765.6,253.8 766.7,254.8 767.8,255.8 768.9,256.8 770.0,257.8 771.1,258.8 772.2,259.7 773.3,260.7 774.5,261.7 775.6,262.6 776.8,263.5 777.9,264.5 779.1,265.4 780.3,266.3 781.4,267.2 782.6,268.1 783.8,268.9 785.0,269.8 786.2,270.7 787.4,271.5 788.7,272.4 789.9,273.2 791.1,274.0 792.4,274.9 793.6,275.7 794.8,276.5 796.1,277.3 797.4,278.0 798.6,278.8 799.9,279.6 801.2,280.3 802.5,281.1 803.8,281.8 805.1,282.6 806.4,283.3 807.7,284.0 809.0,284.7 810.3,285.4 811.6,286.1 813.0,286.8 814.3,287.5 815.6,288.1 817.0,288.8 818.3,289.5 819.7,290.1 821.0,290.7 822.4,291.4 823.8,292.0 825.1,292.6 826.5,293.2 827.9,293.8 829.3,294.4 830.7,295.0 832.0,295.6 833.4,296.2 834.8,296.7 836.2,297.3 837.6,297.8 839.1,298.4 840.5,298.9 841.9,299.5 843.3,300.0 844.7,300.5 846.2,301.0 847.6,301.5 849.0,302.0 850.4,302.5 851.9,303.0 853.3,303.5 854.8,304.0 856.2,304.4 857.7,304.9 859.1,305.3 860.6,305.8 862.0,306.2 863.5,306.7 864.9,307.1 866.4,307.5 867.9,307.9 869.3,308.3 870.8,308.8 872.3,309.2 873.7,309.6 875.2,309.9 876.7,310.3 878.2,310.7 879.6,311.1 881.1,311.4 882.6,311.8 884.1,312.2 885.6,312.5 887.1,312.9 888.5,313.2 890.0,313.5 891.5,313.9 893.0,314.2 894.5,314.5 896.0,314.8 897.5,315.2 899.0,315.5 900.4,315.8 901.9,316.1 903.4,316.4 904.9,316.6 906.4,316.9 907.9,317.2 909.4,317.5 910.9,317.8 912.4,318.0 913.8,318.3 915.3,318.5 916.8,318.8 918.3,319.1 919.8,319.3 921.3,319.5 922.8,319.8 924.2,320.0 925.7,320.2 927.2,320.5 928.7,320.7 930.2,320.9 931.6,321.1 933.1,321.3 934.6,321.5 936.1,321.8 937.5,322.0 939.0,322.2 940.5,322.3 941.9,322.5 943.4,322.7 944.9,322.9 946.3,323.1 947.8,323.3 949.2,323.5 950.7,323.6 952.1,323.8 953.6,324.0 955.0,324.1 956.5,324.3 957.9,324.4 959.4,324.6 960.8,324.8 962.2,324.9 963.6,325.1" fill="none" stroke="#464da8" stroke-width="5.6" stroke-linecap="round" stroke-linejoin="round" />
<text x="812" y="109.0" font-family="Liberation Sans, sans-serif" font-style="italic" font-size="40" fill="#d9261c">D<tspan font-size="24" dy="13.5">max</tspan></text>
<path d="M897,98.0 C899.5,91.7 903,91.2 906,94.2 C909,97.6 912,98.0 914.8,91.7" fill="none" stroke="#d9261c" stroke-width="3.6" stroke-linecap="round"/>
<text x="917.5" y="109.0" font-family="Liberation Sans, sans-serif" font-style="italic" font-size="40" fill="#d9261c">80 <tspan dx="2">A</tspan></text>
<text x="812" y="150.2" font-family="Liberation Sans, sans-serif" font-style="italic" font-size="40" fill="#f07c00">D<tspan font-size="24" dy="13.5">max</tspan></text>
<path d="M897,139.2 C899.5,132.9 903,132.4 906,135.4 C909,138.8 912,139.2 914.8,132.9" fill="none" stroke="#f07c00" stroke-width="3.6" stroke-linecap="round"/>
<text x="917.5" y="150.2" font-family="Liberation Sans, sans-serif" font-style="italic" font-size="40" fill="#f07c00">80 <tspan dx="2">A</tspan></text>
<text x="812" y="191.4" font-family="Liberation Sans, sans-serif" font-style="italic" font-size="40" fill="#464da8">D<tspan font-size="24" dy="13.5">max</tspan></text>
<path d="M897,180.4 C899.5,174.1 903,173.6 906,176.6 C909,180.0 912,180.4 914.8,174.1" fill="none" stroke="#464da8" stroke-width="3.6" stroke-linecap="round"/>
<text x="917.5" y="191.4" font-family="Liberation Sans, sans-serif" font-style="italic" font-size="40" fill="#464da8">90 <tspan dx="2">A</tspan></text>
<text x="5.5" y="477.5" font-family="Liberation Sans, sans-serif" font-weight="bold" font-size="40">c</text>
<text x="84" y="448.0" font-family="Liberation Sans, sans-serif" font-style="italic" font-size="29" fill="#d9261c">R<tspan font-size="17.5" dy="10">g</tspan><tspan x="127.5" dy="-10">24.2 ± 0.4 A</tspan></text>
<text x="84" y="477.6" font-family="Liberation Sans, sans-serif" font-style="italic" font-size="29" fill="#f07c00">R<tspan font-size="17.5" dy="10">g</tspan><tspan x="124.5" dy="-10">19.8 ± 0.7 A</tspan></text>
<text x="84" y="507.2" font-family="Liberation Sans, sans-serif" font-style="italic" font-size="29" fill="#464da8">R<tspan font-size="17.5" dy="10">g</tspan><tspan x="119.5" dy="-10">22.6 ± 0.7 A</tspan></text>
<path d="M100.0,654.5 100.8,655.3 101.8,655.9 102.9,655.3 103.7,653.3 104.6,655.9 106.0,654.2 106.8,654.7 107.8,655.6 109.1,655.8 110.3,654.9 111.1,654.8 112.0,655.2 113.1,654.8 114.1,656.3 115.2,654.4 116.6,655.9 117.4,655.3 118.7,656.9 119.9,657.3 121.1,657.2 122.2,656.1 123.3,658.4 124.5,655.1 125.7,655.5 126.7,655.0 127.9,659.1 128.8,658.3 130.0,659.0 131.4,659.3 132.4,656.7 133.8,658.5 134.8,657.9 135.7,661.3 136.6,659.9 137.6,661.2 138.6,659.2 139.8,661.5 141.0,660.5 142.3,660.6 143.6,660.3 144.8,662.2 145.6,661.8 146.4,662.4 147.3,662.8 148.6,662.9 149.5,662.4 150.3,663.7 151.8,661.9 152.6,663.8 153.6,664.2 154.9,663.8 155.8,664.5 157.2,665.2 158.5,665.7 159.7,667.4 161.0,666.4 162.4,668.1 163.7,668.6 164.9,666.5 165.6,669.5 166.9,669.2 167.9,672.7 168.9,668.5 169.9,670.5 171.2,671.5 172.3,669.9 173.5,669.9 174.8,672.1 176.1,671.3 177.4,674.4 178.8,673.7 179.7,674.8 181.0,675.4 182.3,677.3 183.4,675.8 184.2,678.1 185.6,676.6 186.9,678.0 187.9,677.3 189.1,678.5 190.4,680.5 191.5,677.3 192.9,678.9 194.0,680.6 194.9,681.2 196.2,682.5 197.3,683.6 198.4,680.7 199.6,682.6 200.5,684.0 201.8,682.8 202.9,683.7 204.1,684.6 205.2,683.2 206.6,687.4 207.5,684.6 208.4,686.8 209.4,689.5 210.6,689.7 212.0,691.2 212.9,692.2 214.3,691.9 215.4,695.1 216.7,693.4 217.7,694.4 218.7,693.7 219.7,694.1 220.7,693.8 222.1,694.6 223.5,697.3 224.8,697.9 225.7,695.1 226.6,699.6 228.0,697.1 228.8,698.5 229.9,702.8 231.2,701.9 232.5,703.6 233.5,702.6 234.9,702.1 235.8,703.3 236.7,703.9 237.6,703.7 238.6,703.0 239.4,704.2 240.2,704.5 241.2,703.6 242.1,707.3 243.4,705.7 244.5,706.3 245.8,703.2 247.0,709.0 247.9,713.6 249.1,713.2 250.5,716.6 251.7,715.1 252.7,719.7 253.8,716.8 254.9,730.3 256.3,741.2 257.4,725.6 258.3,721.5 259.2,722.8 260.0,728.3 261.1,725.4 262.4,720.6 263.4,718.4 264.8,733.4 265.6,736.1 267.0,721.6 267.8,721.9 269.0,736.2 270.1,720.6 271.3,745.8 272.3,727.8 273.7,724.2 274.9,730.6 275.6,738.1 276.8,724.0 277.6,754.9 278.8,731.2 280.1,746.1 281.2,737.0 282.5,747.2 283.4,732.3 284.4,758.8 285.6,740.7 286.8,739.6 287.9,752.1 289.2,750.7 290.0,765.7 291.3,753.9 292.2,743.7 293.1,742.1 294.5,744.8 295.9,729.9 296.8,747.6 297.9,750.0 298.9,750.1 299.8,746.2 300.6,757.5 301.9,766.6 303.3,766.4 304.3,726.8 305.3,773.9 306.2,757.7 307.2,755.4 308.1,753.5 309.1,765.9 310.5,760.6 311.9,744.4 313.1,771.1 314.4,762.1 315.4,778.0 316.4,764.9 317.4,757.2 318.6,734.3 319.7,755.7 320.7,764.0 321.8,764.8 322.8,781.4 323.7,769.1 324.6,767.0 325.8,774.8 326.8,753.4 327.9,762.2 329.3,767.5 330.4,752.3 331.3,752.0 332.3,744.1 333.7,787.4 334.9,775.7 335.7,761.0 337.1,776.6 338.0,752.0 338.9,754.7 340.1,767.4 341.4,792.3 342.3,773.6 343.5,769.2 344.7,776.1 345.6,782.3 346.6,777.2 347.8,780.8 349.2,773.8 350.5,766.9 351.9,775.6 352.9,786.2 353.9,776.9 355.1,803.5 356.2,773.2 357.1,781.4 358.0,761.9 359.0,780.5 360.2,771.4 361.6,771.9 362.7,778.6 364.1,784.7 365.5,786.9 366.3,788.5 367.7,783.3 369.1,788.1 370.5,776.7 371.3,775.7 372.3,772.6 373.0,779.3 373.9,790.4 374.8,770.1 375.8,806.0 376.9,786.2 378.2,800.0 379.5,792.9 380.9,775.2 382.2,806.0 383.6,806.0 384.5,806.0 385.3,806.0 386.7,806.0 387.7,757.0 389.1,767.2 390.2,776.1 391.1,775.7 392.4,756.0 393.4,764.4 394.2,773.9 395.5,791.9 396.5,765.8 397.8,781.6 398.9,758.1 400.0,757.6" fill="none" stroke="#cbcbcb" stroke-width="5.2" stroke-linecap="round" stroke-linejoin="round" />
<path d="M101.0,614.0 102.0,631.0 103.5,615.0 105.0,632.0 106.5,617.0 107.4,622.4 108.6,626.1 109.6,622.2 110.4,626.6 111.4,624.8 112.4,625.1 113.2,627.8 114.3,626.0 115.2,627.1 116.3,625.6 117.2,625.6 118.1,626.2 119.2,627.6 120.0,625.5 120.8,628.2 121.9,626.5 123.3,628.4 124.4,627.2 125.7,629.6 126.6,628.6 127.9,628.1 129.1,627.0 130.0,631.2 131.1,628.0 132.2,627.8 133.2,631.2 134.6,631.8 135.6,632.4 136.4,627.9 137.8,631.3 138.7,632.1 139.9,632.7 140.7,631.8 142.0,633.3 143.0,632.4 144.0,634.2 145.3,634.6 146.4,634.1 147.2,633.9 148.3,633.7 149.4,634.0 150.5,633.7 151.6,636.0 152.5,635.9 153.4,633.3 154.2,637.2 155.2,637.5 155.9,636.1 157.2,636.4 157.9,635.6 158.8,637.2 160.1,637.2 161.5,635.1 162.8,639.0 164.1,638.1 165.1,638.8 166.0,638.1 166.8,635.7 167.7,639.3 168.7,640.6 170.0,640.2 171.3,641.6 172.4,642.9 173.3,642.1 174.6,639.6 176.0,640.3 176.9,640.5 178.0,640.2 178.8,644.1 179.6,642.8 180.9,641.5 182.1,642.9 182.9,643.2 183.9,640.1 184.8,643.4 185.5,645.4 186.5,644.2 187.6,643.5 188.6,644.1 190.0,645.1 191.1,646.3 192.3,644.7 193.5,646.8 194.4,645.2 195.6,645.2 196.9,648.9 197.8,647.8 199.0,649.6 199.9,647.9 201.0,645.7 201.8,648.2 202.8,651.8 203.9,649.9 205.2,649.2 206.2,647.7 207.0,649.8 208.2,650.5 209.5,650.1 210.5,649.4 211.6,650.8 212.5,653.7 213.2,651.5 214.5,653.3 215.5,653.5 216.8,651.8 217.9,650.8 219.2,649.6 220.5,651.5 221.4,655.4 222.5,658.1 223.3,656.8 224.6,654.9 225.4,656.5 226.5,655.2 227.6,653.8 228.9,658.4 230.1,654.0 231.5,658.7 232.2,658.8 233.5,656.3 234.4,656.3 235.2,659.1 236.2,658.2 237.1,659.1 238.0,662.7 239.1,661.8 240.1,658.7 241.3,659.5 242.2,663.7 243.0,662.1 243.8,661.0 245.2,664.5 246.4,662.9 247.5,661.3 248.8,666.4 249.7,663.3 250.8,662.3 252.0,663.8 253.0,661.9 254.0,666.7 254.7,665.7 255.6,669.1 256.9,665.5 257.9,663.2 259.1,667.4 260.0,672.1 261.2,674.5 262.2,670.5 263.3,665.8 264.1,671.9 265.4,674.3 266.2,671.8 267.1,675.7 267.9,679.1 269.3,672.1 270.3,681.4 271.3,673.3 272.4,677.1 273.2,676.9 274.4,673.4 275.4,670.3 276.5,669.3 277.5,681.3 278.7,673.7 280.0,679.1 281.2,682.5 282.2,671.7 283.4,683.0 284.5,682.1 285.4,673.9 286.4,682.2 287.8,683.1 288.7,687.6 290.1,687.5 291.3,682.9 292.4,687.5 293.6,686.4 294.7,685.8 296.0,676.8 297.2,675.7 298.5,690.1 299.3,683.3 300.3,690.4 301.5,682.2 302.7,689.2 303.8,687.9 304.6,696.8 305.9,689.7 306.9,678.8 308.3,682.1 309.5,695.1 310.5,685.2 311.4,687.7 312.3,685.5 313.2,709.4 314.1,689.8 315.1,695.5 316.2,680.8 317.0,702.2 318.3,692.0 319.4,696.3 320.8,689.4 321.6,688.3 322.8,690.8 324.1,696.7 325.4,684.7 326.7,686.9 327.9,698.4 329.1,705.5 330.4,690.7 331.2,694.3 332.0,692.6 333.1,697.6 334.3,710.8 335.4,698.2 336.7,692.9 337.5,703.6 338.6,708.4 339.9,701.0 341.3,691.5 342.0,699.5 343.2,692.9 344.2,712.9 345.4,703.1 346.5,709.1 347.4,705.4 348.3,695.8 349.7,695.5 350.6,692.5 351.7,695.1 352.9,694.4 354.0,720.4 355.3,706.6 356.5,709.1 357.6,690.0 358.8,696.9 359.9,700.1 361.1,727.9 362.4,710.1 363.4,713.4 364.3,696.3 365.3,705.0 366.6,715.9 367.7,712.8 368.8,710.5 369.8,717.3 371.2,711.0 372.2,707.8 373.1,712.9 373.8,722.7 375.2,712.1 376.4,713.2 377.3,713.6 378.2,733.8 379.4,731.8 380.2,705.4 381.6,705.4 382.9,730.1 384.2,713.9 385.1,714.7 386.1,711.0 387.1,708.5 387.9,712.4 388.9,709.8 389.9,708.1 391.2,719.2 392.0,707.6 393.1,720.9 394.5,711.9 395.6,715.5 396.6,726.4 397.7,741.0 398.4,739.0 399.4,707.3 400.2,712.3 401.4,727.0 402.7,713.0 403.9,727.1 405.0,717.5 405.8,721.5 406.9,703.5 408.0,723.7 409.2,728.3 410.0,727.4 411.1,710.1 412.4,714.3 413.2,722.3 414.1,721.4 415.1,716.8 415.9,750.5 416.7,732.0 417.9,730.8 419.0,742.4 420.4,760.4 421.3,758.4 422.3,738.9 423.6,721.7 424.4,728.0 425.1,731.5 426.4,708.0 427.2,732.3 428.2,742.5 429.3,741.9 430.6,747.0 431.4,745.0 432.8,729.1 433.8,731.1 435.1,730.4 436.2,727.1 437.6,733.9 438.9,731.4 439.8,718.3 440.8,722.5 441.6,725.3 442.4,731.0 443.2,748.6 444.0,725.3 445.3,734.4 446.1,728.1 447.4,725.0 448.6,748.6 449.8,746.6 451.0,736.6 451.8,736.7 452.6,727.5 453.9,729.9 454.8,737.1 455.6,735.7 456.8,732.6 457.8,731.7 458.8,739.8" fill="none" stroke="#7f7f7f" stroke-width="5.2" stroke-linecap="round" stroke-linejoin="round" />
<path d="M104.0,544.2 105.2,543.6 106.3,543.1 107.4,546.7 108.1,546.1 108.9,544.3 110.1,544.8 110.8,546.0 111.9,545.0 112.9,545.4 113.8,545.6 114.9,546.7 115.7,547.0 116.7,546.4 117.9,544.9 118.8,547.8 120.0,544.2 120.8,546.7 121.6,547.1 122.3,547.5 123.2,546.3 124.4,547.0 125.2,546.9 125.9,546.3 127.1,546.3 128.1,547.7 129.3,548.0 130.1,548.7 130.8,549.6 131.5,549.4 132.5,547.1 133.6,548.9 134.3,550.2 135.1,550.4 136.0,550.8 136.8,551.2 137.9,551.4 138.8,552.4 139.9,549.9 141.0,551.2 141.8,551.0 142.9,552.9 144.1,552.5 145.3,552.3 146.1,551.5 147.0,553.9 148.0,553.2 149.2,553.8 150.4,552.9 151.5,553.2 152.6,554.9 153.6,557.2 154.6,555.9 155.8,557.7 156.6,556.4 157.8,556.8 158.6,556.2 159.4,558.1 160.2,557.4 160.9,559.0 162.1,557.8 162.9,558.3 163.8,558.2 164.6,559.5 165.4,559.2 166.1,560.5 167.2,561.1 168.1,562.8 168.9,561.8 170.1,561.5 170.8,561.6 171.5,563.7 172.7,563.5 173.6,563.3 174.6,565.7 175.7,563.3 176.8,563.6 178.0,566.5 179.1,568.8 180.1,567.3 181.1,566.0 182.1,569.3 183.0,566.9 183.9,569.7 184.8,568.7 185.7,572.0 186.5,570.3 187.5,571.6 188.7,570.6 189.9,574.3 190.8,572.8 191.8,573.1 193.0,574.0 193.9,572.8 195.0,573.9 195.8,576.0 196.9,575.2 197.8,576.1 198.8,579.0 199.7,575.0 200.9,577.0 201.7,579.4 202.9,579.5 204.1,578.1 205.2,582.5 206.0,580.2 206.9,580.0 208.0,581.3 208.8,583.5 209.7,582.1 210.6,582.6 211.7,583.2 212.8,584.3 213.6,585.7 214.5,586.5 215.3,585.2 216.4,586.3 217.3,586.8 218.3,587.1 219.5,587.2 220.5,587.7 221.2,589.2 222.2,588.3 222.9,590.6 223.9,591.4 224.7,590.2 225.9,591.8 227.1,590.9 228.1,593.8 228.9,592.4 230.0,593.6 230.9,595.0 231.7,594.9 232.9,596.1 233.9,596.8 234.8,597.1 235.5,597.0 236.3,595.8 237.1,599.2 237.9,598.2 238.6,597.9 239.5,601.1 240.6,600.0 241.5,600.9 242.3,601.8 243.2,600.3 244.3,601.2 245.2,605.0 246.2,603.2 247.1,606.0 247.9,603.7 248.9,602.6 249.8,605.4 250.7,605.6 251.4,604.1 252.2,605.3 253.1,606.5 253.9,607.6 255.1,608.0 255.8,604.4 256.5,607.1 257.4,606.4 258.5,609.3 259.5,613.2 260.2,612.7 260.9,609.0 261.7,611.4 262.3,612.8 263.4,613.4 264.5,615.7 265.4,612.2 266.5,611.9 267.3,617.7 268.0,615.4 268.8,615.1 269.8,614.0 270.9,613.2 271.7,618.4 272.9,612.5 274.0,619.6 275.0,617.1 276.0,618.4 277.1,621.4 278.2,622.0 279.0,613.9 280.0,618.4 280.7,618.9 281.5,622.7 282.6,620.5 283.6,620.2 284.8,621.1 285.5,624.3 286.4,624.3 287.1,620.6 288.1,619.8 288.9,625.2 289.7,624.8 290.5,625.8 291.4,627.0 292.3,627.1 293.0,634.0 293.7,626.8 294.9,625.6 295.9,626.7 296.8,633.6 297.9,628.3 298.9,628.4 299.6,630.8 300.7,628.7 301.9,631.4 302.6,631.2 303.5,625.1 304.6,629.7 305.5,633.8 306.3,635.2 307.4,633.0 308.6,635.8 309.4,631.7 310.4,637.3 311.3,635.9 312.0,637.2 313.1,635.2 314.2,638.2 315.0,630.9 316.0,633.0 317.0,637.4 318.2,637.8 319.2,639.2 320.0,639.6 321.2,639.1 322.4,646.4 323.5,637.2 324.5,636.8 325.7,637.6 326.8,638.9 327.5,643.1 328.5,639.1 329.4,641.3 330.3,636.7 331.0,640.8 332.2,640.5 333.0,642.3 334.0,643.6 334.8,650.2 335.5,637.3 336.4,644.5 337.3,650.8 338.4,640.0 339.6,646.5 340.5,644.2 341.7,635.8 342.8,643.5 343.6,648.4 344.4,651.0 345.5,633.5 346.7,659.2 347.8,654.9 348.7,647.4 349.8,653.9 350.8,648.0 351.9,664.3 352.9,656.1 353.6,665.2 354.4,647.1 355.5,686.5 356.7,684.5 357.6,650.9 358.4,668.1 359.4,648.8 360.0,639.7 360.8,636.8 361.5,655.3 362.6,652.0 363.4,647.8 364.3,665.1 365.1,647.6 366.3,654.6 367.2,655.7 368.1,677.5 369.0,687.5 370.2,663.0 371.0,659.7 372.0,657.6 373.2,670.9 373.9,700.0 375.0,698.0 376.0,654.8 377.2,665.8 378.2,655.1 379.2,675.5 380.1,651.8 380.9,658.1 382.1,652.6 382.9,662.7 383.7,680.8 384.6,663.0 385.4,664.1 386.3,665.6 387.3,670.8 388.3,659.9 389.0,639.1 390.1,650.2 391.3,673.8 392.1,668.7 392.8,668.2 393.6,671.0 394.4,649.8 395.1,717.6 396.4,715.6 397.5,663.4 398.3,670.3 399.3,677.0 400.1,659.1 401.0,680.6 401.8,703.6 402.7,670.6 403.7,700.4 404.7,678.3 405.4,656.3 406.1,658.0 406.8,668.7 407.7,664.4 408.7,655.6 409.6,664.2 410.4,665.2 411.3,653.6 412.5,662.2 413.7,672.2 414.3,656.2 415.2,672.4 416.0,688.4 416.7,666.5 417.7,680.4 418.4,691.9 419.5,707.0 420.3,668.8 421.3,666.0 422.2,665.3 423.4,684.6 424.4,682.4 425.6,684.5 426.8,677.7 427.8,674.6 428.7,680.9 429.5,674.6 430.7,695.4 431.7,693.4 432.5,690.7 433.7,672.9 434.8,683.6 435.9,666.4 437.1,669.2 438.2,664.7 439.0,688.9 440.2,675.4 441.4,711.6 442.2,676.0 443.3,672.2 444.1,736.0 445.3,734.0 446.4,676.3 447.2,674.9 448.0,707.7 449.1,681.6 450.1,684.9 451.1,686.1 452.2,673.6 453.2,730.0 454.0,728.0 455.1,704.5 455.9,704.0 456.8,683.1 457.6,694.7 458.6,680.7 459.7,700.2" fill="none" stroke="#000" stroke-width="5.2" stroke-linecap="round" stroke-linejoin="round" />
<path d="M102.1,656.2 103.7,656.4 105.2,656.5 106.7,656.7 108.2,656.9 109.7,657.1 111.2,657.3 112.7,657.5 114.2,657.7 115.7,657.9 117.2,658.2 118.7,658.4 120.2,658.7 121.6,658.9 123.1,659.2 124.6,659.5 126.1,659.8 127.5,660.1 129.0,660.4 130.5,660.7 131.9,661.0 133.4,661.4 134.9,661.7 136.3,662.1 137.8,662.4 139.2,662.8 140.7,663.2 142.1,663.6 143.6,663.9 145.0,664.3 146.4,664.7 147.9,665.2 149.3,665.6 150.7,666.0 152.2,666.4 153.6,666.9 155.0,667.3 156.4,667.8 157.9,668.2 159.3,668.7 160.7,669.2 162.1,669.7 163.5,670.1 164.9,670.6 166.4,671.1 167.8,671.6 169.2,672.1 170.6,672.7 172.0,673.2 173.4,673.7 174.8,674.2 176.2,674.8 177.6,675.3 179.0,675.9 180.4,676.4 181.8,677.0 183.1,677.5 184.5,678.1 185.9,678.7 187.3,679.3 188.7,679.8 190.1,680.4 191.4,681.0 192.8,681.6 194.2,682.2 195.6,682.8 197.0,683.4 198.3,684.0 199.7,684.7 201.1,685.3 202.5,685.9 203.8,686.5 205.2,687.1 206.6,687.8 207.9,688.4 209.3,689.1 210.7,689.7 212.0,690.3 213.4,691.0 214.7,691.6 216.1,692.3 217.5,693.0 218.8,693.6 220.2,694.3 221.6,694.9 222.9,695.6 224.3,696.3 225.6,696.9 227.0,697.6 228.3,698.3 229.7,699.0 231.0,699.6 232.4,700.3 233.8,701.0 235.1,701.7 236.5,702.4 237.8,703.0 239.2,703.7 240.5,704.4 241.9,705.1 243.2,705.8 244.6,706.5 245.9,707.2 247.3,707.9 248.6,708.5 250.0,709.2 251.3,709.9 252.7,710.6 254.0,711.3 255.4,712.0 256.7,712.7 258.1,713.4 259.4,714.1 260.8,714.8 262.1,715.4 263.5,716.1 264.8,716.8 266.2,717.5 267.5,718.2 268.9,718.9 270.3,719.6 271.6,720.2 273.0,720.9 274.3,721.6 275.7,722.3 277.0,723.0 278.4,723.6 279.7,724.3 281.1,725.0 282.5,725.7 283.8,726.3 285.2,727.0 286.5,727.7 287.9,728.3 289.3,729.0 290.6,729.6 292.0,730.3 293.3,730.9 294.7,731.6 296.1,732.2 297.4,732.9 298.8,733.5 300.2,734.2 301.5,734.8 302.9,735.4 304.3,736.1 305.7,736.7 307.0,737.3 308.4,737.9 309.8,738.5 311.2,739.1 312.5,739.7 313.9,740.3 315.3,740.9 316.7,741.5 318.1,742.1 319.5,742.7 320.8,743.3 322.2,743.9 323.6,744.4 325.0,745.0 326.4,745.6 327.8,746.1 329.2,746.7 330.6,747.2 332.0,747.7 333.4,748.3 334.8,748.8 336.2,749.3 337.6,749.9 339.0,750.4 340.4,750.9 341.9,751.4 343.3,751.9 344.7,752.4 346.1,752.8 347.5,753.3 349.0,753.8 350.4,754.2 351.8,754.7 353.2,755.1 354.7,755.6 356.1,756.0 357.5,756.5 359.0,756.9 360.4,757.3 361.9,757.7 363.3,758.1 364.8,758.5 366.2,758.9 367.7,759.3 369.1,759.6 370.6,760.0 372.0,760.3 373.5,760.7 375.0,761.0 376.4,761.4 377.9,761.7 379.4,762.0 380.8,762.3 382.3,762.6 383.8,762.9 385.3,763.2 386.8,763.4 388.3,763.7 389.8,763.9 391.2,764.2 392.7,764.4 394.2,764.6 395.8,764.9 397.3,765.1 398.8,765.3 400.3,765.4" fill="none" stroke="#464da8" stroke-width="5.5" stroke-linecap="round" stroke-linejoin="round" />
<path d="M100.8,621.9 102.3,622.1 103.8,622.4 105.3,622.7 106.8,622.9 108.3,623.2 109.8,623.5 111.3,623.7 112.7,624.0 114.2,624.3 115.7,624.6 117.2,624.9 118.7,625.2 120.2,625.5 121.6,625.8 123.1,626.1 124.6,626.4 126.1,626.7 127.6,627.0 129.0,627.3 130.5,627.6 132.0,627.9 133.5,628.3 134.9,628.6 136.4,628.9 137.9,629.2 139.4,629.6 140.8,629.9 142.3,630.3 143.8,630.6 145.2,630.9 146.7,631.3 148.2,631.6 149.6,632.0 151.1,632.3 152.6,632.7 154.0,633.1 155.5,633.4 157.0,633.8 158.4,634.2 159.9,634.5 161.3,634.9 162.8,635.3 164.3,635.7 165.7,636.0 167.2,636.4 168.6,636.8 170.1,637.2 171.6,637.6 173.0,638.0 174.5,638.4 175.9,638.8 177.4,639.2 178.8,639.6 180.3,640.0 181.7,640.4 183.2,640.8 184.6,641.2 186.1,641.6 187.5,642.0 189.0,642.4 190.4,642.8 191.9,643.3 193.3,643.7 194.8,644.1 196.2,644.5 197.7,644.9 199.1,645.4 200.6,645.8 202.0,646.2 203.4,646.7 204.9,647.1 206.3,647.5 207.8,648.0 209.2,648.4 210.7,648.8 212.1,649.3 213.5,649.7 215.0,650.2 216.4,650.6 217.9,651.1 219.3,651.5 220.7,652.0 222.2,652.4 223.6,652.9 225.1,653.3 226.5,653.8 227.9,654.2 229.4,654.7 230.8,655.2 232.2,655.6 233.7,656.1 235.1,656.5 236.5,657.0 238.0,657.5 239.4,657.9 240.8,658.4 242.3,658.9 243.7,659.3 245.2,659.8 246.6,660.3 248.0,660.7 249.4,661.2 250.9,661.7 252.3,662.2 253.7,662.6 255.2,663.1 256.6,663.6 258.0,664.1 259.5,664.5 260.9,665.0 262.3,665.5 263.8,666.0 265.2,666.5 266.6,666.9 268.1,667.4 269.5,667.9 270.9,668.4 272.3,668.9 273.8,669.3 275.2,669.8 276.6,670.3 278.1,670.8 279.5,671.3 280.9,671.8 282.3,672.2 283.8,672.7 285.2,673.2 286.6,673.7 288.1,674.2 289.5,674.7 290.9,675.2 292.4,675.6 293.8,676.1 295.2,676.6 296.6,677.1 298.1,677.6 299.5,678.1 300.9,678.6 302.4,679.0 303.8,679.5 305.2,680.0 306.6,680.5 308.1,681.0 309.5,681.5 310.9,681.9 312.4,682.4 313.8,682.9 315.2,683.4 316.6,683.9 318.1,684.4 319.5,684.8 320.9,685.3 322.4,685.8 323.8,686.3 325.2,686.8 326.6,687.2 328.1,687.7 329.5,688.2 330.9,688.7 332.4,689.2 333.8,689.6 335.2,690.1 336.7,690.6 338.1,691.1 339.5,691.5 341.0,692.0 342.4,692.5 343.8,692.9 345.3,693.4 346.7,693.9 348.1,694.4 349.6,694.8 351.0,695.3 352.4,695.8 353.9,696.2 355.3,696.7 356.7,697.1 358.2,697.6 359.6,698.1 361.0,698.5 362.5,699.0 363.9,699.4 365.3,699.9 366.8,700.3 368.2,700.8 369.6,701.3 371.1,701.7 372.5,702.2 374.0,702.6 375.4,703.0 376.8,703.5 378.3,703.9 379.7,704.4 381.2,704.8 382.6,705.3 384.0,705.7 385.5,706.1 386.9,706.6 388.4,707.0 389.8,707.4 391.3,707.8 392.7,708.3 394.1,708.7 395.6,709.1 397.0,709.5 398.5,710.0 399.9,710.4 401.4,710.8 402.8,711.2 404.3,711.6 405.7,712.0 407.2,712.4 408.6,712.8 410.1,713.3 411.5,713.7 413.0,714.1 414.4,714.5 415.9,714.8 417.3,715.2 418.8,715.6 420.2,716.0 421.7,716.4 423.1,716.8 424.6,717.2 426.1,717.6 427.5,717.9 429.0,718.3 430.4,718.7 431.9,719.1 433.3,719.4 434.8,719.8 436.3,720.1 437.7,720.5 439.2,720.9 440.7,721.2 442.1,721.6 443.6,721.9 445.1,722.3 446.5,722.6 448.0,723.0 449.5,723.3 450.9,723.6 452.4,724.0 453.9,724.3 455.3,724.6 456.8,725.0 458.3,725.3 459.8,725.6" fill="none" stroke="#f07c00" stroke-width="6.5" stroke-linecap="round" stroke-linejoin="round" />
<path d="M106.6,541.3 108.1,541.6 109.5,541.9 111.0,542.3 112.5,542.6 113.9,543.0 115.4,543.4 116.8,543.8 118.3,544.2 119.7,544.6 121.2,545.0 122.6,545.4 124.1,545.8 125.5,546.2 126.9,546.6 128.4,547.1 129.8,547.5 131.2,548.0 132.7,548.4 134.1,548.9 135.5,549.3 136.9,549.8 138.3,550.3 139.8,550.8 141.2,551.3 142.6,551.8 144.0,552.3 145.4,552.8 146.8,553.3 148.2,553.8 149.6,554.3 151.0,554.9 152.4,555.4 153.8,555.9 155.2,556.5 156.6,557.0 158.0,557.6 159.4,558.2 160.8,558.7 162.2,559.3 163.5,559.9 164.9,560.4 166.3,561.0 167.7,561.6 169.1,562.2 170.4,562.8 171.8,563.4 173.2,564.0 174.6,564.6 175.9,565.2 177.3,565.8 178.7,566.4 180.0,567.0 181.4,567.7 182.8,568.3 184.1,568.9 185.5,569.5 186.9,570.2 188.2,570.8 189.6,571.5 190.9,572.1 192.3,572.8 193.7,573.4 195.0,574.1 196.4,574.7 197.7,575.4 199.1,576.0 200.4,576.7 201.8,577.3 203.1,578.0 204.5,578.7 205.8,579.3 207.2,580.0 208.5,580.7 209.9,581.3 211.2,582.0 212.6,582.7 213.9,583.4 215.3,584.1 216.6,584.7 218.0,585.4 219.3,586.1 220.7,586.8 222.0,587.5 223.4,588.1 224.7,588.8 226.1,589.5 227.4,590.2 228.8,590.9 230.1,591.6 231.4,592.2 232.8,592.9 234.1,593.6 235.5,594.3 236.8,595.0 238.2,595.7 239.5,596.4 240.9,597.0 242.2,597.7 243.6,598.4 244.9,599.1 246.3,599.8 247.6,600.4 249.0,601.1 250.3,601.8 251.7,602.5 253.0,603.2 254.4,603.8 255.7,604.5 257.1,605.2 258.4,605.9 259.8,606.5 261.1,607.2 262.5,607.9 263.8,608.5 265.2,609.2 266.6,609.8 267.9,610.5 269.3,611.1 270.6,611.8 272.0,612.5 273.4,613.1 274.7,613.7 276.1,614.4 277.5,615.0 278.8,615.7 280.2,616.3 281.6,616.9 282.9,617.6 284.3,618.2 285.7,618.8 287.0,619.4 288.4,620.1 289.8,620.7 291.2,621.3 292.5,621.9 293.9,622.5 295.3,623.1 296.7,623.7 298.1,624.3 299.4,624.9 300.8,625.5 302.2,626.1 303.6,626.7 305.0,627.3 306.4,627.9 307.8,628.4 309.2,629.0 310.6,629.6 311.9,630.2 313.3,630.7 314.7,631.3 316.1,631.9 317.5,632.4 318.9,633.0 320.3,633.5 321.7,634.1 323.1,634.6 324.5,635.2 325.9,635.7 327.3,636.3 328.7,636.8 330.2,637.3 331.6,637.9 333.0,638.4 334.4,638.9 335.8,639.4 337.2,640.0 338.6,640.5 340.0,641.0 341.5,641.5 342.9,642.0 344.3,642.5 345.7,643.0 347.1,643.5 348.6,644.0 350.0,644.4 351.4,644.9 352.8,645.4 354.3,645.9 355.7,646.4 357.1,646.8 358.6,647.3 360.0,647.8 361.4,648.2 362.9,648.7 364.3,649.1 365.7,649.6 367.2,650.0 368.6,650.5 370.1,650.9 371.5,651.3 372.9,651.8 374.4,652.2 375.8,652.6 377.3,653.0 378.7,653.4 380.2,653.8 381.6,654.3 383.1,654.7 384.5,655.1 386.0,655.4 387.4,655.8 388.9,656.2 390.4,656.6 391.8,657.0 393.3,657.4 394.8,657.7 396.2,658.1 397.7,658.5 399.1,658.8 400.6,659.2 402.1,659.5 403.6,659.9 405.0,660.2 406.5,660.6 408.0,660.9 409.5,661.2 410.9,661.6 412.4,661.9 413.9,662.2 415.4,662.5 416.9,662.8 418.3,663.1 419.8,663.4 421.3,663.7 422.8,664.0 424.3,664.3 425.8,664.6 427.3,664.9 428.8,665.2 430.3,665.4 431.8,665.7 433.3,666.0 434.8,666.2 436.3,666.5 437.8,666.7 439.3,667.0 440.8,667.2 442.3,667.5 443.8,667.7 445.3,667.9 446.8,668.1 448.3,668.4 449.9,668.6 451.4,668.8 452.9,669.0 454.4,669.2 455.9,669.4 457.4,669.6 459.0,669.7 460.5,669.9" fill="none" stroke="#d9261c" stroke-width="6.5" stroke-linecap="round" stroke-linejoin="round" />
<path d="M90,524 L90,808 L461,808" fill="none" stroke="#000" stroke-width="5" stroke-linecap="round"/>
<path d="M213.3,808 L213.3,814.5" fill="none" stroke="#000" stroke-width="4.4" stroke-linecap="round" stroke-linejoin="round" />
<path d="M336.4,808 L336.4,814.5" fill="none" stroke="#000" stroke-width="4.4" stroke-linecap="round" stroke-linejoin="round" />
<path d="M459.5,808 L459.5,814.5" fill="none" stroke="#000" stroke-width="4.4" stroke-linecap="round" stroke-linejoin="round" />
<text x="90.5" y="844" font-family="Liberation Sans, sans-serif" font-size="30" text-anchor="middle">0.0</text>
<text x="212.0" y="844" font-family="Liberation Sans, sans-serif" font-size="30" text-anchor="middle">0.1</text>
<text x="336.0" y="844" font-family="Liberation Sans, sans-serif" font-size="30" text-anchor="middle">0.2</text>
<text x="460.0" y="844" font-family="Liberation Sans, sans-serif" font-size="30" text-anchor="middle">0.3</text>
<text x="222.5" y="884.6" font-family="Liberation Sans, sans-serif" font-size="40.3">q (A<tspan font-size="24" dy="-14">-1</tspan><tspan dy="14">)</tspan></text>
<text transform="translate(60.5,715) rotate(-90)" font-family="Liberation Sans, sans-serif" font-size="40">log I (q)</text>
<g transform="translate(103,730.6)" fill="#d9261c"><path d="M0.1,-10.1 C1,-14.1 3,-15.6 4.2,-15.2 C6.5,-14.4 7.2,-10.6 8,-3.8 C8.8,1.4 10,6.9 12.5,6.8 C14,6.7 15,4.4 15.7,1.5" fill="none" stroke="#d9261c" stroke-width="1.9" stroke-linecap="round"/><path d="M12.6,-14.6 L16.6,-14.6 L3.2,6.4 L-0.7,6.4 Z"/></g>
<text x="120" y="720.6" font-family="Liberation Serif, serif" font-size="17" fill="#d9261c">2</text>
<text x="139" y="730.6" font-family="Liberation Sans, sans-serif" font-style="italic" font-size="30" fill="#d9261c">1.6</text>
<g transform="translate(103,759.9)" fill="#f07c00"><path d="M0.1,-10.1 C1,-14.1 3,-15.6 4.2,-15.2 C6.5,-14.4 7.2,-10.6 8,-3.8 C8.8,1.4 10,6.9 12.5,6.8 C14,6.7 15,4.4 15.7,1.5" fill="none" stroke="#f07c00" stroke-width="1.9" stroke-linecap="round"/><path d="M12.6,-14.6 L16.6,-14.6 L3.2,6.4 L-0.7,6.4 Z"/></g>
<text x="120" y="749.9" font-family="Liberation Serif, serif" font-size="17" fill="#f07c00">2</text>
<text x="139" y="759.9" font-family="Liberation Sans, sans-serif" font-style="italic" font-size="30" fill="#f07c00">1.2</text>
<g transform="translate(103,789.2)" fill="#464da8"><path d="M0.1,-10.1 C1,-14.1 3,-15.6 4.2,-15.2 C6.5,-14.4 7.2,-10.6 8,-3.8 C8.8,1.4 10,6.9 12.5,6.8 C14,6.7 15,4.4 15.7,1.5" fill="none" stroke="#464da8" stroke-width="1.9" stroke-linecap="round"/><path d="M12.6,-14.6 L16.6,-14.6 L3.2,6.4 L-0.7,6.4 Z"/></g>
<text x="120" y="779.2" font-family="Liberation Serif, serif" font-size="17" fill="#464da8">2</text>
<text x="139" y="789.2" font-family="Liberation Sans, sans-serif" font-style="italic" font-size="30" fill="#464da8">2.1</text>
<path d="M334.0,457.7 336.0,458.9 338.0,457.4 340.0,459.3 342.0,458.6 344.0,458.9 346.0,460.9 348.0,459.8 350.0,459.9 352.0,460.8 354.0,461.5 356.0,460.8 358.0,461.6 360.0,460.7 362.0,461.4 364.0,461.7 366.0,461.3 368.0,461.4 370.0,461.6 372.0,463.0 374.0,463.4 376.0,463.6 378.0,464.2 380.0,463.3 382.0,464.6 384.0,465.2 386.0,465.9 388.0,464.9 390.0,465.6 392.0,464.6 394.0,466.1 396.0,465.0 398.0,465.9 400.0,468.2 402.0,465.9 404.0,468.6 406.0,468.5 408.0,468.3 410.0,469.2 412.0,469.6 414.0,470.3 416.0,469.5 418.0,469.5 420.0,469.8 422.0,469.8 424.0,470.9 426.0,470.6 428.0,472.4 430.0,470.3 432.0,471.2 434.0,471.6 436.0,471.0 438.0,474.5 440.0,471.3 442.0,473.3 444.0,473.4 446.0,475.5 448.0,472.9 450.0,475.6 452.0,474.5 454.0,475.2 456.0,475.1 458.0,476.4 460.0,475.3 462.0,476.5 464.0,477.1 466.0,478.6 468.0,475.5 470.0,478.9 472.0,478.8 474.0,477.9 476.0,478.8 478.0,478.5 480.0,480.5 482.0,479.6 484.0,479.6 486.0,479.9 488.0,480.2 490.0,480.5 492.0,480.3 494.0,482.9 496.0,480.0" fill="none" stroke="#000" stroke-width="11.5" stroke-linecap="butt" stroke-linejoin="round"/>
<path d="M334.0,498.7 336.0,503.1 338.0,503.3 340.0,504.1 342.0,503.6 344.0,503.9 346.0,504.7 348.0,505.7 350.0,504.2 352.0,504.5 354.0,507.5 356.0,506.0 358.0,504.4 360.0,508.6 362.0,506.9 364.0,505.5 366.0,505.0 368.0,507.0 370.0,505.9 372.0,505.8 374.0,505.7 376.0,506.9 378.0,509.1 380.0,507.4 382.0,506.4 384.0,509.2 386.0,508.7 388.0,509.8 390.0,510.5 392.0,509.0 394.0,509.3 396.0,509.6 398.0,508.5 400.0,510.9 402.0,511.9 404.0,510.7 406.0,510.4 408.0,510.6 410.0,510.2 412.0,510.4 414.0,511.1 416.0,510.8 418.0,511.5 420.0,510.3 422.0,512.9 424.0,512.7 426.0,511.5 428.0,510.3 430.0,513.3 432.0,514.8 434.0,512.9 436.0,513.4 438.0,513.5 440.0,515.2 442.0,513.5 444.0,516.0 446.0,514.7 448.0,516.3 450.0,515.5 452.0,515.4 454.0,514.1 456.0,515.3 458.0,516.0 460.0,517.3 462.0,517.0 464.0,516.1 466.0,517.7 468.0,518.6 470.0,517.4 472.0,517.3 474.0,517.6 476.0,519.2 478.0,519.1 480.0,517.6 482.0,519.3 484.0,518.5 486.0,518.4 488.0,521.0 490.0,520.7 492.0,519.1 494.0,520.3 496.0,521.0" fill="none" stroke="#7f7f7f" stroke-width="13" stroke-linecap="butt" stroke-linejoin="round"/>
<path d="M334.0,528.0 336.0,529.0 338.0,530.2 340.0,527.5 342.0,530.4 344.0,531.2 346.0,531.2 348.0,529.3 350.0,531.6 352.0,530.4 354.0,532.5 356.0,532.8 358.0,532.6 360.0,531.7 362.0,532.2 364.0,534.3 366.0,532.5 368.0,534.4 370.0,534.8 372.0,534.1 374.0,537.6 376.0,535.1 378.0,537.9 380.0,533.2 382.0,533.2 384.0,537.4 386.0,537.3 388.0,536.4 390.0,537.0 392.0,535.1 394.0,537.0 396.0,536.8 398.0,538.0 400.0,539.7 402.0,539.0 404.0,539.6 406.0,538.7 408.0,539.3 410.0,540.2 412.0,540.0 414.0,542.2 416.0,539.9 418.0,543.5 420.0,540.4 422.0,543.1 424.0,541.2 426.0,544.4 428.0,542.9 430.0,543.5 432.0,544.2 434.0,542.9 436.0,542.7 438.0,541.8 440.0,546.0 442.0,544.0 444.0,544.4 446.0,545.4 448.0,548.1 450.0,543.9 452.0,546.6 454.0,546.1 456.0,547.6 458.0,545.1 460.0,547.0 462.0,548.8 464.0,550.0 466.0,550.3 468.0,547.7 470.0,549.1 472.0,549.2 474.0,547.9 476.0,548.2 478.0,551.1 480.0,550.8 482.0,550.6 484.0,552.5 486.0,550.2 488.0,552.3 490.0,552.0 492.0,552.2 494.0,553.1 496.0,553.1" fill="none" stroke="#cbcbcb" stroke-width="13" stroke-linecap="butt" stroke-linejoin="round"/>
<path d="M334,502.3 L467.6,518.5" fill="none" stroke="#000" stroke-width="5.8" stroke-linecap="round" stroke-linejoin="round" />
<path d="M334,528.1 L455.4,547.2" fill="none" stroke="#000" stroke-width="5.8" stroke-linecap="round" stroke-linejoin="round" />
<path d="M331.6,443 L331.6,566.3 L500,566.3" fill="none" stroke="#000" stroke-width="5.2" stroke-linecap="round"/>
<path d="M400.3,566.3 L400.3,569" fill="none" stroke="#000" stroke-width="4" stroke-linecap="round" stroke-linejoin="round" />
<path d="M469.8,566.3 L469.8,569" fill="none" stroke="#000" stroke-width="4" stroke-linecap="round" stroke-linejoin="round" />
<text x="340" y="592" font-family="Liberation Sans, sans-serif" font-size="28" text-anchor="middle">0.000</text>
<text x="464" y="592" font-family="Liberation Sans, sans-serif" font-size="28" text-anchor="middle">0.005</text>
<text x="365" y="617.7" font-family="Liberation Sans, sans-serif" font-size="28">q<tspan font-size="17" dy="-12">2</tspan><tspan dy="12"> (A</tspan><tspan font-size="17" dy="-12">-2</tspan><tspan dy="12">)</tspan></text>
<text transform="translate(308.4,531.5) rotate(-90)" font-family="Liberation Sans, sans-serif" font-size="29">ln(q)</text>
<path d="M105.7,944.2 L113.1,944.2" stroke="#000" stroke-width="5.6" stroke-linecap="round"/>
<path d="M128.0,944.2 L135.4,944.2" stroke="#000" stroke-width="5.6" stroke-linecap="round"/>
<path d="M150.3,944.2 L157.7,944.2" stroke="#000" stroke-width="5.6" stroke-linecap="round"/>
<path d="M172.6,944.2 L180.0,944.2" stroke="#000" stroke-width="5.6" stroke-linecap="round"/>
<path d="M194.9,944.2 L202.3,944.2" stroke="#000" stroke-width="5.6" stroke-linecap="round"/>
<path d="M217.2,944.2 L224.6,944.2" stroke="#000" stroke-width="5.6" stroke-linecap="round"/>
<path d="M239.4,944.2 L246.8,944.2" stroke="#000" stroke-width="5.6" stroke-linecap="round"/>
<path d="M261.7,944.2 L269.1,944.2" stroke="#000" stroke-width="5.6" stroke-linecap="round"/>
<path d="M284.0,944.2 L291.4,944.2" stroke="#000" stroke-width="5.6" stroke-linecap="round"/>
<path d="M306.3,944.2 L313.7,944.2" stroke="#000" stroke-width="5.6" stroke-linecap="round"/>
<path d="M328.6,944.2 L336.0,944.2" stroke="#000" stroke-width="5.6" stroke-linecap="round"/>
<path d="M350.9,944.2 L358.3,944.2" stroke="#000" stroke-width="5.6" stroke-linecap="round"/>
<path d="M373.2,944.2 L380.6,944.2" stroke="#000" stroke-width="5.6" stroke-linecap="round"/>
<path d="M395.5,944.2 L402.9,944.2" stroke="#000" stroke-width="5.6" stroke-linecap="round"/>
<path d="M417.8,944.2 L425.2,944.2" stroke="#000" stroke-width="5.6" stroke-linecap="round"/>
<path d="M440.1,944.2 L447.5,944.2" stroke="#000" stroke-width="5.6" stroke-linecap="round"/>
<path d="M105.7,1014.7 L113.1,1014.7" stroke="#000" stroke-width="5.6" stroke-linecap="round"/>
<path d="M128.0,1014.7 L135.4,1014.7" stroke="#000" stroke-width="5.6" stroke-linecap="round"/>
<path d="M150.3,1014.7 L157.7,1014.7" stroke="#000" stroke-width="5.6" stroke-linecap="round"/>
<path d="M172.6,1014.7 L180.0,1014.7" stroke="#000" stroke-width="5.6" stroke-linecap="round"/>
<path d="M194.9,1014.7 L202.3,1014.7" stroke="#000" stroke-width="5.6" stroke-linecap="round"/>
<path d="M217.2,1014.7 L224.6,1014.7" stroke="#000" stroke-width="5.6" stroke-linecap="round"/>
<path d="M239.4,1014.7 L246.8,1014.7" stroke="#000" stroke-width="5.6" stroke-linecap="round"/>
<path d="M261.7,1014.7 L269.1,1014.7" stroke="#000" stroke-width="5.6" stroke-linecap="round"/>
<path d="M284.0,1014.7 L291.4,1014.7" stroke="#000" stroke-width="5.6" stroke-linecap="round"/>
<path d="M306.3,1014.7 L313.7,1014.7" stroke="#000" stroke-width="5.6" stroke-linecap="round"/>
<path d="M328.6,1014.7 L336.0,1014.7" stroke="#000" stroke-width="5.6" stroke-linecap="round"/>
<path d="M350.9,1014.7 L358.3,1014.7" stroke="#000" stroke-width="5.6" stroke-linecap="round"/>
<path d="M373.2,1014.7 L380.6,1014.7" stroke="#000" stroke-width="5.6" stroke-linecap="round"/>
<path d="M395.5,1014.7 L402.9,1014.7" stroke="#000" stroke-width="5.6" stroke-linecap="round"/>
<path d="M417.8,1014.7 L425.2,1014.7" stroke="#000" stroke-width="5.6" stroke-linecap="round"/>
<path d="M440.1,1014.7 L447.5,1014.7" stroke="#000" stroke-width="5.6" stroke-linecap="round"/>
<path d="M96.0,1001.4 97.9,968.8 99.4,1003.5 100.6,977.8 102.2,920.3 103.3,925.6 105.2,947.5 106.4,919.9 107.7,905.0 109.1,903.0 110.6,991.7 112.1,907.0 113.9,905.0 115.2,913.7 117.0,912.0 118.9,976.1 120.1,977.0 122.0,1032.5 123.4,965.8 124.5,1000.7 125.8,1002.1 126.9,1002.5 128.7,930.9 129.8,976.2 130.9,967.1 132.7,965.0 134.1,953.0 135.4,977.7 137.0,987.2 138.2,988.8 139.4,969.7 141.4,970.8 143.2,992.8 144.5,1007.9 146.1,951.8 147.2,962.4 148.5,977.4 150.2,984.6 151.4,961.5 152.6,992.2 154.6,988.1 156.1,967.8 158.0,986.1 159.3,964.1 160.5,945.4 162.3,993.4 163.4,989.4 164.7,980.9 166.3,991.5 167.5,977.9 169.0,984.0 170.6,985.0 171.7,931.8 173.2,964.7 174.7,971.8 176.1,932.2 177.8,1012.6 178.9,972.7 180.6,943.3 182.3,994.1 183.5,1008.3 185.1,986.0 186.5,993.8 188.3,1016.6 189.9,996.3 191.5,958.3 193.2,1001.8 195.0,955.1 196.1,995.2 197.6,990.3 198.9,959.3 200.1,975.2 201.5,962.4 203.0,987.9 204.8,996.6 206.3,958.6 208.0,960.9 209.3,981.5 210.9,994.2 212.4,937.2 214.0,941.2 215.2,980.8 216.4,1022.9 218.0,992.5 219.7,933.6 221.2,979.3 222.8,988.9 224.6,1004.8 226.5,954.1 227.9,1007.9 229.8,1008.2 231.2,984.5 232.9,987.7 234.7,920.9 236.1,983.3 237.4,957.4 238.9,1018.2 240.1,983.4 241.3,961.9 243.0,956.7 244.9,964.1 246.6,969.0 248.4,992.8 250.2,982.9 252.2,1002.7 253.7,933.0 255.1,981.1 256.6,979.2 258.5,983.5 260.0,961.3 261.4,960.9 262.7,1010.7 264.4,938.0 266.1,962.7 267.5,983.5 268.6,983.0 269.9,968.4 271.3,952.8 272.8,969.1 274.4,964.9 276.2,1007.1 278.0,1002.4 279.8,983.6 281.1,960.2 282.9,966.4 284.2,965.2 286.0,1008.1 287.4,959.5 288.5,967.1 290.4,947.1 291.9,975.2 293.1,1000.5 294.3,951.4 295.8,970.5 297.0,965.3 298.9,939.1 300.0,963.7 301.8,992.1 303.1,1009.3 304.6,980.3 306.1,953.8 308.0,982.7 309.2,1017.3 310.6,975.8 311.8,972.9 312.9,964.3 314.7,975.2 316.6,1015.4 318.2,1008.0 319.7,969.8 321.6,980.0 323.5,1000.1 325.2,978.8 326.6,1058.0 328.5,1056.0 329.9,1018.0 331.0,1033.4 332.4,1003.6 334.3,1007.1 335.6,999.5 337.0,1007.6 338.6,995.7 339.7,1062.0 341.4,1060.0 342.6,991.9 344.5,978.8 346.0,959.5 347.6,990.7 348.8,1043.6 350.6,973.0 352.1,965.9 353.2,965.3 354.8,992.5 356.1,1000.0 357.8,1006.9 358.9,985.1 360.6,979.3 362.5,985.4 364.4,1033.7 365.9,997.4 367.1,1032.7 368.6,992.3 370.4,993.3 371.9,991.4 373.0,995.6 374.6,987.2 375.9,1068.0 377.4,1066.0 379.3,1042.3 381.2,1066.0 382.5,1064.0 384.1,1010.3 385.8,996.1 387.5,979.6" fill="none" stroke="#464da8" stroke-width="5.4" stroke-linecap="round" stroke-linejoin="round" />
<path d="M95.0,960.2 96.7,968.6 97.8,975.3 99.0,993.0 100.1,961.4 101.1,981.5 102.5,991.1 104.1,968.5 105.6,977.6 106.9,973.6 108.7,941.4 110.4,956.4 112.1,980.5 113.5,997.5 114.6,969.6 115.6,981.0 116.7,946.5 118.0,952.5 119.8,954.3 121.4,977.0 123.2,958.2 124.4,983.1 125.9,959.3 127.6,981.7 128.8,1018.5 130.6,974.1 131.6,1000.4 133.2,980.6 134.7,954.8 135.9,950.2 137.5,984.1 138.9,962.6 140.5,957.2 142.2,980.8 143.9,948.8 145.6,978.3 146.7,974.9 147.8,1023.6 149.6,958.6 151.2,966.8 152.6,1017.7 153.7,969.5 154.9,960.0 156.0,971.3 157.4,986.6 159.2,983.6 160.3,954.3 162.0,987.5 163.8,958.4 164.8,988.0 166.3,969.3 167.5,974.0 169.3,938.2 170.5,971.9 172.1,972.9 173.7,956.3 175.2,961.0 176.8,1004.5 178.0,953.3 179.1,964.9 180.3,984.7 181.6,975.1 183.4,979.4 184.4,991.0 185.8,1002.4 187.3,973.6 188.7,976.6 189.9,957.5 191.1,951.7 192.8,979.4 193.9,983.6 195.6,995.8 196.7,967.3 198.5,964.8 200.0,968.7 201.3,1018.5 203.0,956.8 204.0,979.5 205.3,958.6 206.9,979.6 208.4,978.4 209.5,983.3 211.2,1020.2 212.7,969.8 214.2,965.4 215.5,980.5 217.3,970.0 218.7,975.4 220.2,935.3 221.4,962.1 222.5,979.6 223.6,951.0 224.8,927.2 226.1,1017.1 227.5,961.7 228.9,959.0 230.1,975.0 231.9,975.7 233.3,990.4 234.6,990.1 236.3,987.1 237.8,962.3 239.5,974.5 241.1,966.9 242.3,977.4 243.7,975.6 245.3,984.3 246.5,974.1 248.3,989.1 249.4,1001.2 251.2,947.8 253.0,1011.7 254.0,957.9 255.3,985.9 257.0,954.5 258.8,953.2 260.6,974.7 262.2,983.6 264.1,956.9 265.2,968.1 266.4,975.7 268.0,954.9 269.1,952.6 270.6,968.5 272.3,962.0 274.0,982.3 275.5,978.5 276.6,954.0 277.6,974.0 278.8,969.7 280.0,978.8 281.1,1021.4 282.7,1001.0 284.2,946.4 285.7,967.9 287.3,991.9 288.4,970.2 289.8,982.0 291.4,970.3 292.8,1018.8 294.5,987.3 295.5,990.0 297.2,971.6 298.6,1000.7 299.9,980.0 301.4,985.1 303.0,974.1 304.1,983.6 305.5,1001.6 307.3,953.2 308.4,966.9 309.4,970.0 310.6,936.8 311.6,943.5 312.8,972.7 314.2,957.5 315.7,1018.2 316.9,958.1 318.4,957.9 319.7,984.3 321.0,963.4 322.1,952.6 323.5,946.7 324.8,973.1 326.1,972.5 327.4,968.8 328.6,978.3 330.2,964.6 331.2,979.3 332.5,957.1 333.5,981.8 335.0,1014.0 336.1,955.7 337.7,976.8 339.2,980.2 341.0,969.9 342.0,1016.5 343.8,987.9 345.5,966.6 347.2,946.9 348.3,987.1 349.5,964.7 350.7,987.7 351.8,961.1 353.2,959.1 354.7,1015.8 356.1,961.9 357.5,941.9 358.8,955.1 359.9,985.7 361.7,986.4 363.2,955.3 364.6,977.2 366.3,1007.7 367.6,957.0 368.7,934.9 370.2,981.8 371.6,964.3 373.3,957.2 374.5,975.0 376.1,941.5 377.5,979.1 378.7,972.2 379.9,992.8 381.0,966.2 382.1,969.6 383.5,954.4 384.7,943.3 386.0,974.8 387.3,984.6 388.9,988.0 390.6,979.3 391.9,946.2 393.4,930.4 394.7,988.2 396.5,966.7 397.5,972.4 399.3,1008.6 400.7,982.2 401.9,961.7 403.5,955.5 405.2,974.0 406.3,960.3 407.5,1014.6 408.7,975.8 410.0,972.4 411.2,966.6 412.6,960.7 414.0,972.2 415.0,995.4 416.8,979.7 418.1,950.2 419.2,967.2 420.5,939.5 421.5,930.8 423.1,973.6 424.7,988.9 426.5,993.5 427.5,956.9 428.8,988.8 430.3,954.0 432.1,975.3 433.2,965.3 434.8,968.5 436.1,1017.3 437.5,972.3 439.3,984.2 440.6,946.6 441.9,974.9 443.7,982.2 445.0,962.5 446.5,972.7 448.2,957.4 449.3,990.6 450.7,980.9 452.2,987.2 453.2,984.8 454.9,985.2" fill="none" stroke="#f07c00" stroke-width="5.4" stroke-linecap="round" stroke-linejoin="round" />
<path d="M97.0,975.8 98.7,1029.5 100.4,1030.3 101.9,942.6 102.9,1037.4 104.2,1034.0 105.6,970.2 107.1,993.7 108.7,971.9 109.7,983.9 111.2,966.8 112.6,967.5 114.3,968.3 115.4,951.9 116.3,982.5 117.7,962.3 118.7,981.2 120.3,992.4 121.4,948.9 122.6,975.5 124.0,1002.4 125.3,960.5 126.7,972.6 127.9,952.7 129.1,959.5 130.4,981.4 131.5,1013.6 132.9,959.5 134.0,964.6 135.5,982.5 136.8,945.6 138.0,953.7 139.2,947.1 140.5,986.8 141.9,960.3 143.6,999.7 145.2,955.4 146.5,981.3 147.7,984.5 149.2,965.9 150.6,969.6 152.1,1018.0 153.7,943.1 155.0,982.7 156.3,976.4 157.4,957.6 158.5,964.1 159.5,995.2 160.5,968.3 162.2,991.7 163.9,1009.8 165.3,949.1 166.7,966.7 168.1,973.2 169.3,963.2 170.5,968.5 172.1,954.1 173.3,981.9 174.4,986.7 175.7,961.5 177.2,955.6 178.3,966.9 179.5,986.8 180.4,973.5 181.3,1010.3 182.5,998.4 183.9,982.5 184.8,956.6 185.9,969.7 187.1,991.7 188.7,967.3 190.3,987.8 191.8,952.2 193.2,931.2 194.1,986.0 195.5,937.4 196.8,978.5 198.0,982.5 199.0,971.4 200.4,982.6 202.1,977.1 203.2,992.6 204.8,1020.1 206.2,967.9 207.6,997.0 208.7,955.8 209.9,966.7 211.1,961.3 212.3,991.3 213.7,984.4 215.2,986.2 216.4,980.6 217.8,1017.4 219.1,991.4 220.1,929.6 221.4,989.0 222.9,979.5 224.5,972.5 225.5,963.7 227.1,951.9 228.5,986.5 230.0,935.3 231.1,978.1 232.2,962.3 233.6,967.7 234.9,981.8 236.3,994.9 237.2,1006.5 238.7,972.8 240.4,956.3 241.6,970.1 243.0,933.8 244.0,982.5 245.6,978.1 246.5,953.2 248.1,970.6 249.1,985.3 250.4,976.5 251.6,981.5 253.3,974.1 254.4,988.1 256.1,952.2 257.7,955.3 259.1,972.2 260.1,940.9 261.7,939.6 263.1,996.7 264.0,977.4 265.7,966.1 266.6,989.6 268.0,989.7 269.1,977.2 270.1,975.1 271.2,955.5 272.5,975.8 273.7,940.3 275.1,969.4 276.2,995.0 277.9,985.6 279.1,963.2 280.6,990.3 282.0,949.4 283.5,955.0 285.2,973.0 286.8,936.9 287.8,984.3 288.8,958.0 290.5,955.6 291.5,980.4 292.7,935.3 293.7,959.9 295.2,960.3 296.2,973.6 297.8,968.1 299.0,987.5 300.3,980.5 301.5,1003.5 303.1,979.1 304.5,1013.6 305.8,945.1 306.9,960.4 308.3,973.3 309.7,981.2 310.9,960.3 312.1,964.2 313.7,981.0 315.4,977.2 316.7,964.7 317.9,953.7 319.2,960.0 320.4,955.0 321.8,974.5 323.1,998.6 324.3,971.9 325.4,960.4 326.7,1001.1 328.4,993.9 329.7,973.5 330.7,959.4 332.2,1000.9 333.7,971.4 334.8,1020.3 336.4,975.8 338.0,978.5 339.7,979.5 340.7,984.4 341.7,1001.3 343.3,971.2 345.0,1004.0 346.2,976.9 347.3,971.8 348.7,989.3 350.1,976.1 351.3,941.5 352.7,991.1 353.9,1009.1 355.4,993.3 356.5,978.9 357.7,969.7 359.3,972.3 360.5,972.9 361.8,955.7 363.1,999.8 364.5,1005.5 365.5,974.1 366.7,980.4 367.8,972.1 369.1,998.8 370.7,970.3 372.2,978.4 373.4,999.6 374.8,987.0 376.3,1014.1 377.3,989.3 378.9,962.7 380.0,966.2 381.6,975.6 382.8,964.8 384.1,983.1 385.3,984.1 386.9,953.1 388.4,990.4 390.0,970.1 391.5,982.4 392.9,948.8 394.0,972.0 395.4,947.1 396.8,960.3 398.5,962.5 400.1,939.6 401.4,981.4 402.5,1002.4 403.9,965.6 405.4,975.4 406.7,994.0 408.3,978.2 409.9,982.9 411.2,970.2 412.8,991.7 414.3,952.0 415.5,1010.5 416.7,979.9 418.3,982.7 419.3,949.0 420.6,1011.0 421.7,1004.9 422.9,966.2 424.1,982.9 425.5,962.8 426.5,975.7 427.8,1003.3 428.8,961.5 429.9,949.4 431.0,997.6 432.5,944.9 433.4,962.3 435.1,1001.8 436.0,994.4 437.2,987.6 438.3,997.2 439.5,1011.0 440.6,985.8 441.9,982.0 443.5,974.1 444.8,998.2 446.1,994.9 447.7,1015.8 449.3,970.6 450.3,953.0 451.8,998.2 453.2,936.8 454.1,1010.1 455.5,989.1 457.1,976.0" fill="none" stroke="#d9261c" stroke-width="5.4" stroke-linecap="round" stroke-linejoin="round" />
<path d="M89,907.5 L89,1050.5" fill="none" stroke="#000" stroke-width="4.6" stroke-linecap="round" stroke-linejoin="round" />
<path d="M89,909.5 L84,909.5" fill="none" stroke="#000" stroke-width="4.4" stroke-linecap="round" stroke-linejoin="round" />
<path d="M89,943.4 L84,943.4" fill="none" stroke="#000" stroke-width="4.4" stroke-linecap="round" stroke-linejoin="round" />
<path d="M89,979.9 L84,979.9" fill="none" stroke="#000" stroke-width="4.4" stroke-linecap="round" stroke-linejoin="round" />
<path d="M89,1015.0 L84,1015.0" fill="none" stroke="#000" stroke-width="4.4" stroke-linecap="round" stroke-linejoin="round" />
<path d="M89,1050.3 L84,1050.3" fill="none" stroke="#000" stroke-width="4.4" stroke-linecap="round" stroke-linejoin="round" />
<path d="M89,926.4 L85.5,926.4" fill="none" stroke="#000" stroke-width="3.6" stroke-linecap="round" stroke-linejoin="round" />
<path d="M89,961.6 L85.5,961.6" fill="none" stroke="#000" stroke-width="3.6" stroke-linecap="round" stroke-linejoin="round" />
<path d="M89,996.8 L85.5,996.8" fill="none" stroke="#000" stroke-width="3.6" stroke-linecap="round" stroke-linejoin="round" />
<path d="M89,1032.0 L85.5,1032.0" fill="none" stroke="#000" stroke-width="3.6" stroke-linecap="round" stroke-linejoin="round" />
<text x="76" y="917.0" font-family="Liberation Sans, sans-serif" font-size="30" text-anchor="end">4</text>
<text x="76" y="950.9" font-family="Liberation Sans, sans-serif" font-size="30" text-anchor="end">2</text>
<text x="76" y="987.4" font-family="Liberation Sans, sans-serif" font-size="30" text-anchor="end">0</text>
<text x="76" y="1022.5" font-family="Liberation Sans, sans-serif" font-size="30" text-anchor="end">-2</text>
<text x="76" y="1057.8" font-family="Liberation Sans, sans-serif" font-size="30" text-anchor="end">-4</text>
<text transform="translate(36.5,1059) rotate(-90)" font-family="Liberation Sans, sans-serif" font-size="27.5">(I(q)<tspan font-size="17.5" dy="8">experiment</tspan><tspan dy="-8"> - I(q)</tspan><tspan font-size="17.5" dy="8">model</tspan><tspan dy="-8">)/σ(q)</tspan></text>
<text x="533" y="477" font-family="Liberation Sans, sans-serif" font-weight="bold" font-size="40">d</text>
<text x="672" y="453" font-family="Liberation Sans, sans-serif" font-size="41" fill="#d9261c">Protein: 24-bp</text>
<text x="672" y="682.2" font-family="Liberation Sans, sans-serif" font-size="41" fill="#f07c00">Protein: 13-bp</text>
<text x="680.5" y="902.6" font-family="Liberation Sans, sans-serif" font-size="41" fill="#464da8">Protein Only</text>
<text x="646.5" y="500.6" font-family="Liberation Sans, sans-serif" font-size="30">100 %</text>
<text x="561" y="706.5" font-family="Liberation Sans, sans-serif" font-size="30">64 %</text>
<text x="854" y="817.8" font-family="Liberation Sans, sans-serif" font-size="30">36 %</text>
<text x="637" y="975" font-family="Liberation Sans, sans-serif" font-size="30">100 %</text>
<path d="M583.5,637.7 L598.6,637.7" fill="none" stroke="#000" stroke-width="6" stroke-linecap="round" stroke-linejoin="round" />
<path d="M625.7,637.7 L653.4,637.7" fill="none" stroke="#000" stroke-width="6" stroke-linecap="round" stroke-linejoin="round" />
<path d="M680.4,637.7 L708.1,637.7" fill="none" stroke="#000" stroke-width="6" stroke-linecap="round" stroke-linejoin="round" />
<path d="M734.3,637.7 L761.6,637.7" fill="none" stroke="#000" stroke-width="6" stroke-linecap="round" stroke-linejoin="round" />
<path d="M788.7,637.7 L815.5,637.7" fill="none" stroke="#000" stroke-width="6" stroke-linecap="round" stroke-linejoin="round" />
<path d="M842.6,637.7 L869.4,637.7" fill="none" stroke="#000" stroke-width="6" stroke-linecap="round" stroke-linejoin="round" />
<path d="M897.3,637.7 L924.2,637.7" fill="none" stroke="#000" stroke-width="6" stroke-linecap="round" stroke-linejoin="round" />
<path d="M951.3,637.7 L966.3,637.7" fill="none" stroke="#000" stroke-width="6" stroke-linecap="round" stroke-linejoin="round" />
<path d="M592.0,861.8 L605.8,861.8" fill="none" stroke="#000" stroke-width="6" stroke-linecap="round" stroke-linejoin="round" />
<path d="M633.2,861.8 L660.5,861.8" fill="none" stroke="#000" stroke-width="6" stroke-linecap="round" stroke-linejoin="round" />
<path d="M687.6,861.8 L714.4,861.8" fill="none" stroke="#000" stroke-width="6" stroke-linecap="round" stroke-linejoin="round" />
<path d="M741.5,861.8 L769.2,861.8" fill="none" stroke="#000" stroke-width="6" stroke-linecap="round" stroke-linejoin="round" />
<path d="M796.3,861.8 L823.1,861.8" fill="none" stroke="#000" stroke-width="6" stroke-linecap="round" stroke-linejoin="round" />
<path d="M850.2,861.8 L877.9,861.8" fill="none" stroke="#000" stroke-width="6" stroke-linecap="round" stroke-linejoin="round" />
<path d="M904.9,861.8 L932.2,861.8" fill="none" stroke="#000" stroke-width="6" stroke-linecap="round" stroke-linejoin="round" />
<path d="M959.3,861.8 L973.5,861.8" fill="none" stroke="#000" stroke-width="6" stroke-linecap="round" stroke-linejoin="round" />
<path d="M637.9,565.4 638.3,566.0 638.8,566.7 639.3,567.3 639.9,568.0 640.4,568.8 641.0,569.5 641.6,570.3 642.2,571.1 642.8,571.9 643.5,572.7 644.1,573.6 644.8,574.4 645.5,575.2 646.2,576.1 646.9,576.9 647.7,577.8 648.4,578.6 649.2,579.4 650.0,580.2 650.8,581.0 651.6,581.7 652.4,582.5 653.2,583.2 654.1,583.9 654.9,584.5 655.8,585.2 656.6,585.8 657.5,586.3 658.4,586.8 659.3,587.3 660.2,587.7 661.1,588.1 662.0,588.4 662.9,588.7 663.8,588.9 664.7,589.1 665.7,589.3 666.6,589.4 667.5,589.5 668.4,589.5 669.4,589.5 670.3,589.5 671.2,589.4 672.2,589.3 673.1,589.2 674.0,589.0 674.9,588.8 675.9,588.6 676.8,588.4 677.7,588.1 678.6,587.7 679.5,587.4 680.4,587.0 681.3,586.6 682.2,586.2 683.1,585.7 683.9,585.3 684.8,584.8 685.7,584.2 686.5,583.7 687.4,583.1 688.2,582.5 689.0,581.9 689.8,581.3 690.6,580.6 691.4,580.0 692.2,579.3 692.9,578.6 693.7,577.9 694.4,577.1 695.1,576.4 695.8,575.7 696.5,574.9 697.1,574.1 697.8,573.3 698.4,572.5 699.1,571.7 699.7,570.9 700.3,570.1 700.9,569.2 701.5,568.4 702.0,567.6 702.6,566.7 703.2,565.9 703.8,565.0 704.3,564.2 704.9,563.3 705.5,562.5 706.0,561.7 706.6,560.8 707.2,560.0 707.8,559.1 708.4,558.3 709.0,557.5 709.6,556.7 710.2,555.9 710.8,555.1 711.4,554.3 712.1,553.5 712.8,552.7 713.5,552.0 714.2,551.2 714.9,550.5 715.6,549.8 716.4,549.1 717.1,548.4 717.9,547.8 718.8,547.1 719.6,546.5 720.5,545.9 721.4,545.3 722.3,544.8 723.2,544.2 724.2,543.8 725.1,543.3 726.0,542.9 727.0,542.6 727.9,542.3 728.9,542.1 729.8,541.9 730.7,541.8 731.6,541.8 732.5,541.8 733.4,541.9 734.3,542.0 735.1,542.3 735.9,542.6 736.7,542.9 737.5,543.3 738.3,543.8 739.0,544.3 739.8,544.9 740.5,545.5 741.2,546.2 741.9,546.8 742.6,547.6 743.3,548.3 744.0,549.1 744.6,549.9 745.3,550.8 745.9,551.6 746.5,552.5 747.2,553.4 747.8,554.3 748.4,555.3 749.0,556.2 749.5,557.1 750.1,558.1 750.7,559.0 751.3,559.9 751.8,560.8 752.4,561.7 752.9,562.6 753.5,563.5 754.0,564.4 754.6,565.2 755.1,566.1 755.7,566.9 756.2,567.7 756.8,568.5 757.3,569.3 757.9,570.1 758.4,570.9 759.0,571.7 759.5,572.5 760.1,573.3 760.7,574.1 761.3,574.9 761.9,575.7 762.5,576.6 763.1,577.4 763.7,578.2 764.4,579.1 765.0,580.0 765.7,580.8 766.4,581.7 767.1,582.5 767.8,583.4 768.5,584.2 769.3,584.9 770.0,585.6 770.8,586.3 771.5,586.9 772.3,587.5 773.1,588.0 773.9,588.4 774.8,588.7 775.6,588.9 776.5,589.1 777.3,589.1 778.2,589.0 779.1,588.9 780.0,588.7 780.8,588.4 781.7,588.0 782.6,587.6 783.5,587.1 784.4,586.5 785.3,585.9 786.2,585.3 787.0,584.7 787.9,584.0 788.7,583.3 789.5,582.6 790.3,581.8 791.1,581.1 791.9,580.4 792.6,579.6 793.4,578.9 794.1,578.1 794.8,577.4 795.5,576.6 796.2,575.9 796.8,575.1 797.5,574.3 798.2,573.6 798.8,572.8 799.4,572.0 800.1,571.2 800.7,570.5 801.3,569.7 801.9,568.9 802.5,568.1 803.1,567.3 803.7,566.5 804.3,565.8 804.9,565.0 805.5,564.2 806.1,563.4 806.7,562.6 807.3,561.8 807.9,561.0 808.6,560.2 809.2,559.4 809.8,558.7 810.5,557.9 811.1,557.1 811.8,556.3 812.4,555.5 813.1,554.7 813.8,553.9 814.5,553.2 815.2,552.4 816.0,551.6 816.7,550.9 817.5,550.1 818.2,549.3 819.0,548.6 819.8,547.8 820.7,547.1 821.5,546.4 822.4,545.7 823.2,545.1 824.1,544.5 824.9,544.0 825.8,543.5 826.6,543.1 827.5,542.8 828.3,542.6 829.2,542.4 830.0,542.4 830.8,542.4 831.6,542.6 832.4,542.9 833.2,543.2 833.9,543.7 834.7,544.2 835.4,544.8 836.1,545.4 836.9,546.1 837.6,546.9 838.2,547.7 838.9,548.5 839.6,549.4 840.2,550.2 840.8,551.1 841.5,552.0 842.1,552.9 842.7,553.8 843.3,554.7 843.9,555.6 844.4,556.5 845.0,557.4 845.6,558.3 846.1,559.1 846.7,560.0 847.2,560.9 847.8,561.8 848.3,562.7 848.9,563.5 849.4,564.4 850.0,565.2 850.5,566.1 851.1,566.9 851.6,567.8 852.2,568.6 852.7,569.4 853.3,570.2 853.9,571.0 854.5,571.8 855.0,572.6 855.6,573.4 856.2,574.2 856.8,575.0 857.4,575.8 858.0,576.6 858.6,577.3 859.3,578.1 859.9,578.8 860.5,579.6 861.2,580.3 861.9,581.0 862.5,581.8 863.2,582.5 863.9,583.2 864.6,583.9 865.4,584.6 866.1,585.3 866.9,586.0 867.6,586.7 868.4,587.4 869.2,588.0 870.0,588.7" fill="none" stroke="#8f8200" stroke-width="6.0" stroke-linecap="butt" stroke-linejoin="round"/>
<path d="M637.9,565.4 638.3,566.0 638.8,566.7 639.3,567.3 639.9,568.0 640.4,568.8 641.0,569.5 641.6,570.3 642.2,571.1 642.8,571.9 643.5,572.7 644.1,573.6 644.8,574.4 645.5,575.2 646.2,576.1 646.9,576.9 647.7,577.8 648.4,578.6 649.2,579.4 650.0,580.2 650.8,581.0 651.6,581.7 652.4,582.5 653.2,583.2 654.1,583.9 654.9,584.5 655.8,585.2 656.6,585.8 657.5,586.3 658.4,586.8 659.3,587.3 660.2,587.7 661.1,588.1 662.0,588.4 662.9,588.7 663.8,588.9 664.7,589.1 665.7,589.3 666.6,589.4 667.5,589.5 668.4,589.5 669.4,589.5 670.3,589.5 671.2,589.4 672.2,589.3 673.1,589.2 674.0,589.0 674.9,588.8 675.9,588.6 676.8,588.4 677.7,588.1 678.6,587.7 679.5,587.4 680.4,587.0 681.3,586.6 682.2,586.2 683.1,585.7 683.9,585.3 684.8,584.8 685.7,584.2 686.5,583.7 687.4,583.1 688.2,582.5 689.0,581.9 689.8,581.3 690.6,580.6 691.4,580.0 692.2,579.3 692.9,578.6 693.7,577.9 694.4,577.1 695.1,576.4 695.8,575.7 696.5,574.9 697.1,574.1 697.8,573.3 698.4,572.5 699.1,571.7 699.7,570.9 700.3,570.1 700.9,569.2 701.5,568.4 702.0,567.6 702.6,566.7 703.2,565.9 703.8,565.0 704.3,564.2 704.9,563.3 705.5,562.5 706.0,561.7 706.6,560.8 707.2,560.0 707.8,559.1 708.4,558.3 709.0,557.5 709.6,556.7 710.2,555.9 710.8,555.1 711.4,554.3 712.1,553.5 712.8,552.7 713.5,552.0 714.2,551.2 714.9,550.5 715.6,549.8 716.4,549.1 717.1,548.4 717.9,547.8 718.8,547.1 719.6,546.5 720.5,545.9 721.4,545.3 722.3,544.8 723.2,544.2 724.2,543.8 725.1,543.3 726.0,542.9 727.0,542.6 727.9,542.3 728.9,542.1 729.8,541.9 730.7,541.8 731.6,541.8 732.5,541.8 733.4,541.9 734.3,542.0 735.1,542.3 735.9,542.6 736.7,542.9 737.5,543.3 738.3,543.8 739.0,544.3 739.8,544.9 740.5,545.5 741.2,546.2 741.9,546.8 742.6,547.6 743.3,548.3 744.0,549.1 744.6,549.9 745.3,550.8 745.9,551.6 746.5,552.5 747.2,553.4 747.8,554.3 748.4,555.3 749.0,556.2 749.5,557.1 750.1,558.1 750.7,559.0 751.3,559.9 751.8,560.8 752.4,561.7 752.9,562.6 753.5,563.5 754.0,564.4 754.6,565.2 755.1,566.1 755.7,566.9 756.2,567.7 756.8,568.5 757.3,569.3 757.9,570.1 758.4,570.9 759.0,571.7 759.5,572.5 760.1,573.3 760.7,574.1 761.3,574.9 761.9,575.7 762.5,576.6 763.1,577.4 763.7,578.2 764.4,579.1 765.0,580.0 765.7,580.8 766.4,581.7 767.1,582.5 767.8,583.4 768.5,584.2 769.3,584.9 770.0,585.6 770.8,586.3 771.5,586.9 772.3,587.5 773.1,588.0 773.9,588.4 774.8,588.7 775.6,588.9 776.5,589.1 777.3,589.1 778.2,589.0 779.1,588.9 780.0,588.7 780.8,588.4 781.7,588.0 782.6,587.6 783.5,587.1 784.4,586.5 785.3,585.9 786.2,585.3 787.0,584.7 787.9,584.0 788.7,583.3 789.5,582.6 790.3,581.8 791.1,581.1 791.9,580.4 792.6,579.6 793.4,578.9 794.1,578.1 794.8,577.4 795.5,576.6 796.2,575.9 796.8,575.1 797.5,574.3 798.2,573.6 798.8,572.8 799.4,572.0 800.1,571.2 800.7,570.5 801.3,569.7 801.9,568.9 802.5,568.1 803.1,567.3 803.7,566.5 804.3,565.8 804.9,565.0 805.5,564.2 806.1,563.4 806.7,562.6 807.3,561.8 807.9,561.0 808.6,560.2 809.2,559.4 809.8,558.7 810.5,557.9 811.1,557.1 811.8,556.3 812.4,555.5 813.1,554.7 813.8,553.9 814.5,553.2 815.2,552.4 816.0,551.6 816.7,550.9 817.5,550.1 818.2,549.3 819.0,548.6 819.8,547.8 820.7,547.1 821.5,546.4 822.4,545.7 823.2,545.1 824.1,544.5 824.9,544.0 825.8,543.5 826.6,543.1 827.5,542.8 828.3,542.6 829.2,542.4 830.0,542.4 830.8,542.4 831.6,542.6 832.4,542.9 833.2,543.2 833.9,543.7 834.7,544.2 835.4,544.8 836.1,545.4 836.9,546.1 837.6,546.9 838.2,547.7 838.9,548.5 839.6,549.4 840.2,550.2 840.8,551.1 841.5,552.0 842.1,552.9 842.7,553.8 843.3,554.7 843.9,555.6 844.4,556.5 845.0,557.4 845.6,558.3 846.1,559.1 846.7,560.0 847.2,560.9 847.8,561.8 848.3,562.7 848.9,563.5 849.4,564.4 850.0,565.2 850.5,566.1 851.1,566.9 851.6,567.8 852.2,568.6 852.7,569.4 853.3,570.2 853.9,571.0 854.5,571.8 855.0,572.6 855.6,573.4 856.2,574.2 856.8,575.0 857.4,575.8 858.0,576.6 858.6,577.3 859.3,578.1 859.9,578.8 860.5,579.6 861.2,580.3 861.9,581.0 862.5,581.8 863.2,582.5 863.9,583.2 864.6,583.9 865.4,584.6 866.1,585.3 866.9,586.0 867.6,586.7 868.4,587.4 869.2,588.0 870.0,588.7" fill="none" stroke="#f2dc1e" stroke-width="4.8" stroke-linecap="butt" stroke-linejoin="round"/>
<path d="M701.1,533.0 701.0,531.7 701.0,530.4 701.1,529.3 701.2,528.2 701.4,527.2 701.7,526.2 702.0,525.4 702.4,524.6 702.9,523.8 703.4,523.2 703.9,522.6 704.6,522.0 705.2,521.5 705.9,521.1 706.7,520.7 707.5,520.3 708.4,520.0 709.2,519.8 710.2,519.6 711.1,519.4 712.1,519.3 713.1,519.2 714.2,519.1 715.2,519.0 716.3,519.0 717.4,519.0 718.5,519.1 719.7,519.1 720.8,519.2 722.0,519.3 723.2,519.4 724.4,519.5 725.5,519.6 726.7,519.7 727.9,519.8 729.1,519.9 730.3,520.0 731.4,520.2 732.6,520.3 733.7,520.3 734.9,520.4 736.0,520.5 737.1,520.5 738.2,520.6 739.2,520.6 740.2,520.5 741.2,520.5 742.2,520.4 743.1,520.3 744.0,520.2 744.9,520.0 745.7,519.8 746.4,519.5 747.2,519.2" fill="none" stroke="#707070" stroke-width="3.5" stroke-linecap="round" stroke-linejoin="round"/>
<path d="M701.1,533.0 701.0,531.7 701.0,530.4 701.1,529.3 701.2,528.2 701.4,527.2 701.7,526.2 702.0,525.4 702.4,524.6 702.9,523.8 703.4,523.2 703.9,522.6 704.6,522.0 705.2,521.5 705.9,521.1 706.7,520.7 707.5,520.3 708.4,520.0 709.2,519.8 710.2,519.6 711.1,519.4 712.1,519.3 713.1,519.2 714.2,519.1 715.2,519.0 716.3,519.0 717.4,519.0 718.5,519.1 719.7,519.1 720.8,519.2 722.0,519.3 723.2,519.4 724.4,519.5 725.5,519.6 726.7,519.7 727.9,519.8 729.1,519.9 730.3,520.0 731.4,520.2 732.6,520.3 733.7,520.3 734.9,520.4 736.0,520.5 737.1,520.5 738.2,520.6 739.2,520.6 740.2,520.5 741.2,520.5 742.2,520.4 743.1,520.3 744.0,520.2 744.9,520.0 745.7,519.8 746.4,519.5 747.2,519.2" fill="none" stroke="#dadada" stroke-width="1.7" stroke-linecap="round" stroke-linejoin="round"/>
<circle cx="754.8" cy="519.6" r="6.2" fill="none" stroke="#707070" stroke-width="3.4"/>
<circle cx="754.8" cy="519.6" r="6.2" fill="none" stroke="#dadada" stroke-width="1.6"/>
<path d="M761.0,516.5 761.6,515.6 762.3,514.8 763.0,514.0 763.7,513.2 764.5,512.5 765.2,511.7 766.0,511.0 766.8,510.3 767.6,509.5 768.3,508.8 769.1,508.1 769.9,507.3 770.6,506.6 771.3,505.8 772.0,505.0 772.7,504.2 773.3,503.3 773.9,502.4" fill="none" stroke="#707070" stroke-width="3.5" stroke-linecap="round" stroke-linejoin="round"/>
<path d="M761.0,516.5 761.6,515.6 762.3,514.8 763.0,514.0 763.7,513.2 764.5,512.5 765.2,511.7 766.0,511.0 766.8,510.3 767.6,509.5 768.3,508.8 769.1,508.1 769.9,507.3 770.6,506.6 771.3,505.8 772.0,505.0 772.7,504.2 773.3,503.3 773.9,502.4" fill="none" stroke="#dadada" stroke-width="1.7" stroke-linecap="round" stroke-linejoin="round"/>
<path d="M694.4,550.5 693.8,551.2 693.1,551.9 692.5,552.6 691.9,553.4 691.3,554.2 690.7,555.0 690.2,555.9 689.7,556.7 689.2,557.6 688.7,558.5 688.3,559.5 687.9,560.4 687.5,561.4 687.2,562.3 686.8,563.3 686.5,564.3 686.2,565.4 686.0,566.4 685.8,567.4 685.6,568.5 685.4,569.5 685.3,570.6 685.1,571.6 685.1,572.7 685.0,573.7 685.0,574.8 685.0,575.8 685.0,576.9 685.1,577.9 685.2,578.9 685.3,580.0 685.5,581.0 685.6,582.0 685.9,583.0 686.1,583.9 686.4,584.9 686.7,585.9 687.1,586.8 687.4,587.7 687.9,588.6 688.3,589.4 688.8,590.3 689.3,591.1 689.9,591.9 690.5,592.7 691.1,593.4 691.7,594.1 692.4,594.8 693.1,595.5 693.9,596.1 694.6,596.7 695.4,597.3 696.2,597.9 697.0,598.5 697.9,599.0 698.8,599.5 699.6,600.0 700.5,600.5 701.5,601.0 702.4,601.5 703.3,601.9 704.3,602.4 705.2,602.8 706.2,603.2 707.1,603.6 708.1,604.0 709.1,604.4 710.0,604.8 711.0,605.2 712.0,605.6 712.9,606.0 713.9,606.3 714.8,606.7 715.8,607.1 716.7,607.4 717.6,607.8 718.5,608.1 719.5,608.5 720.4,608.8 721.3,609.2 722.2,609.5 723.1,609.8 724.0,610.1 724.9,610.4 725.9,610.7 726.8,611.0 727.8,611.2 728.8,611.4 729.8,611.6 730.8,611.8 731.9,612.0 732.9,612.1 734.0,612.2 735.1,612.2 736.2,612.2 737.3,612.1 738.4,612.0 739.4,611.8 740.4,611.5 741.4,611.2 742.3,610.7 743.1,610.1 743.9,609.5 744.7,608.7 745.3,607.8 745.9,606.8 746.4,605.9 747.0,605.2 747.5,604.8 748.2,604.8 748.9,605.2 749.7,605.9 750.4,606.8 751.2,607.9 751.9,609.2 752.5,610.4 753.2,611.7 753.7,612.8 754.1,613.9 754.4,614.7 754.6,615.3 754.6,615.5 754.4,615.3 754.1,614.9 753.7,614.2 753.2,613.3 752.7,612.2 752.2,611.0 751.8,609.7 751.4,608.4 751.1,607.1 751.0,605.9 751.0,604.8 751.2,603.8 751.7,603.1 752.2,602.4 753.0,601.9 753.9,601.5 754.8,601.2 755.9,601.0 757.0,600.8 758.2,600.7 759.4,600.5 760.7,600.4 761.9,600.3 763.1,600.2 764.2,600.0 765.3,599.7 766.3,599.4 767.3,599.1 768.2,598.7 769.1,598.3 770.0,597.9 770.9,597.5 771.7,597.0 772.6,596.6 773.5,596.2 774.4,595.8 775.3,595.4 776.3,595.0 777.4,594.7 778.4,594.4 779.5,594.1 780.5,593.8 781.5,593.5 782.5,593.1 783.3,592.6 784.1,592.1 784.7,591.5 785.1,590.8 785.4,590.0 785.6,589.1 785.7,588.1 785.8,587.1 785.8,586.0 785.8,584.9 785.8,583.8 785.9,582.7 786.1,581.5 786.3,580.4 786.6,579.4 787.1,578.4 787.6,577.5 788.2,576.6 788.9,575.9 789.6,575.2 790.4,574.7 791.3,574.4 792.3,574.2 793.2,574.1 794.3,574.0 795.3,574.0 796.3,574.0 797.4,573.9 798.4,573.8 799.4,573.6 800.3,573.2 801.2,572.8 802.1,572.2 802.9,571.5 803.7,570.8 804.4,570.1 805.2,569.4 806.0,568.7 806.7,568.1 807.5,567.6 808.3,567.2 809.1,566.9 810.0,566.8 810.9,566.8 811.8,566.9 812.7,567.1 813.7,567.4 814.7,567.7 815.7,568.1 816.7,568.5 817.7,569.0 818.7,569.4 819.8,569.8 820.8,570.2 821.9,570.6 822.9,570.9 824.0,571.1 825.1,571.3 826.1,571.4 827.2,571.4 828.2,571.3 829.2,571.2 830.2,571.0 831.2,570.8 832.2,570.4 833.1,570.0 834.0,569.6 834.9,569.1 835.7,568.5 836.4,567.8 837.1,567.2 837.8,566.4 838.4,565.6 839.0,564.7 839.4,563.8 839.8,562.8 840.2,561.8 840.4,560.7 840.6,559.6" fill="none" stroke="#707070" stroke-width="3.5" stroke-linecap="round" stroke-linejoin="round"/>
<path d="M694.4,550.5 693.8,551.2 693.1,551.9 692.5,552.6 691.9,553.4 691.3,554.2 690.7,555.0 690.2,555.9 689.7,556.7 689.2,557.6 688.7,558.5 688.3,559.5 687.9,560.4 687.5,561.4 687.2,562.3 686.8,563.3 686.5,564.3 686.2,565.4 686.0,566.4 685.8,567.4 685.6,568.5 685.4,569.5 685.3,570.6 685.1,571.6 685.1,572.7 685.0,573.7 685.0,574.8 685.0,575.8 685.0,576.9 685.1,577.9 685.2,578.9 685.3,580.0 685.5,581.0 685.6,582.0 685.9,583.0 686.1,583.9 686.4,584.9 686.7,585.9 687.1,586.8 687.4,587.7 687.9,588.6 688.3,589.4 688.8,590.3 689.3,591.1 689.9,591.9 690.5,592.7 691.1,593.4 691.7,594.1 692.4,594.8 693.1,595.5 693.9,596.1 694.6,596.7 695.4,597.3 696.2,597.9 697.0,598.5 697.9,599.0 698.8,599.5 699.6,600.0 700.5,600.5 701.5,601.0 702.4,601.5 703.3,601.9 704.3,602.4 705.2,602.8 706.2,603.2 707.1,603.6 708.1,604.0 709.1,604.4 710.0,604.8 711.0,605.2 712.0,605.6 712.9,606.0 713.9,606.3 714.8,606.7 715.8,607.1 716.7,607.4 717.6,607.8 718.5,608.1 719.5,608.5 720.4,608.8 721.3,609.2 722.2,609.5 723.1,609.8 724.0,610.1 724.9,610.4 725.9,610.7 726.8,611.0 727.8,611.2 728.8,611.4 729.8,611.6 730.8,611.8 731.9,612.0 732.9,612.1 734.0,612.2 735.1,612.2 736.2,612.2 737.3,612.1 738.4,612.0 739.4,611.8 740.4,611.5 741.4,611.2 742.3,610.7 743.1,610.1 743.9,609.5 744.7,608.7 745.3,607.8 745.9,606.8 746.4,605.9 747.0,605.2 747.5,604.8 748.2,604.8 748.9,605.2 749.7,605.9 750.4,606.8 751.2,607.9 751.9,609.2 752.5,610.4 753.2,611.7 753.7,612.8 754.1,613.9 754.4,614.7 754.6,615.3 754.6,615.5 754.4,615.3 754.1,614.9 753.7,614.2 753.2,613.3 752.7,612.2 752.2,611.0 751.8,609.7 751.4,608.4 751.1,607.1 751.0,605.9 751.0,604.8 751.2,603.8 751.7,603.1 752.2,602.4 753.0,601.9 753.9,601.5 754.8,601.2 755.9,601.0 757.0,600.8 758.2,600.7 759.4,600.5 760.7,600.4 761.9,600.3 763.1,600.2 764.2,600.0 765.3,599.7 766.3,599.4 767.3,599.1 768.2,598.7 769.1,598.3 770.0,597.9 770.9,597.5 771.7,597.0 772.6,596.6 773.5,596.2 774.4,595.8 775.3,595.4 776.3,595.0 777.4,594.7 778.4,594.4 779.5,594.1 780.5,593.8 781.5,593.5 782.5,593.1 783.3,592.6 784.1,592.1 784.7,591.5 785.1,590.8 785.4,590.0 785.6,589.1 785.7,588.1 785.8,587.1 785.8,586.0 785.8,584.9 785.8,583.8 785.9,582.7 786.1,581.5 786.3,580.4 786.6,579.4 787.1,578.4 787.6,577.5 788.2,576.6 788.9,575.9 789.6,575.2 790.4,574.7 791.3,574.4 792.3,574.2 793.2,574.1 794.3,574.0 795.3,574.0 796.3,574.0 797.4,573.9 798.4,573.8 799.4,573.6 800.3,573.2 801.2,572.8 802.1,572.2 802.9,571.5 803.7,570.8 804.4,570.1 805.2,569.4 806.0,568.7 806.7,568.1 807.5,567.6 808.3,567.2 809.1,566.9 810.0,566.8 810.9,566.8 811.8,566.9 812.7,567.1 813.7,567.4 814.7,567.7 815.7,568.1 816.7,568.5 817.7,569.0 818.7,569.4 819.8,569.8 820.8,570.2 821.9,570.6 822.9,570.9 824.0,571.1 825.1,571.3 826.1,571.4 827.2,571.4 828.2,571.3 829.2,571.2 830.2,571.0 831.2,570.8 832.2,570.4 833.1,570.0 834.0,569.6 834.9,569.1 835.7,568.5 836.4,567.8 837.1,567.2 837.8,566.4 838.4,565.6 839.0,564.7 839.4,563.8 839.8,562.8 840.2,561.8 840.4,560.7 840.6,559.6" fill="none" stroke="#dadada" stroke-width="1.7" stroke-linecap="round" stroke-linejoin="round"/>
<path d="M773.9,525.3 773.7,525.9 773.5,526.6 773.3,527.4 773.1,528.3 772.9,529.3 772.8,530.3 772.6,531.3 772.5,532.4 772.4,533.5 772.4,534.7 772.4,535.9 772.4,537.1 772.4,538.3 772.5,539.5 772.5,540.7 772.7,541.9 772.8,543.0 773.1,544.2 773.3,545.3 773.6,546.4 773.9,547.4 774.3,548.4 774.7,549.3 775.2,550.1 775.7,550.9 776.2,551.6 776.9,552.2 777.5,552.7 778.3,553.1 779.0,553.4 779.9,553.6 780.7,553.8 781.7,553.8 782.6,553.8 783.6,553.7 784.6,553.5 785.7,553.3 786.8,553.1 787.8,552.8 788.9,552.5 790.1,552.1 791.2,551.8 792.3,551.5 793.4,551.1 794.5,550.8 795.6,550.5 796.7,550.2 797.8,550.0 798.8,549.8 799.9,549.6 800.9,549.5 801.8,549.5 802.7,549.6 803.6,549.7 804.4,549.9" fill="none" stroke="#707070" stroke-width="3.5" stroke-linecap="round" stroke-linejoin="round"/>
<path d="M773.9,525.3 773.7,525.9 773.5,526.6 773.3,527.4 773.1,528.3 772.9,529.3 772.8,530.3 772.6,531.3 772.5,532.4 772.4,533.5 772.4,534.7 772.4,535.9 772.4,537.1 772.4,538.3 772.5,539.5 772.5,540.7 772.7,541.9 772.8,543.0 773.1,544.2 773.3,545.3 773.6,546.4 773.9,547.4 774.3,548.4 774.7,549.3 775.2,550.1 775.7,550.9 776.2,551.6 776.9,552.2 777.5,552.7 778.3,553.1 779.0,553.4 779.9,553.6 780.7,553.8 781.7,553.8 782.6,553.8 783.6,553.7 784.6,553.5 785.7,553.3 786.8,553.1 787.8,552.8 788.9,552.5 790.1,552.1 791.2,551.8 792.3,551.5 793.4,551.1 794.5,550.8 795.6,550.5 796.7,550.2 797.8,550.0 798.8,549.8 799.9,549.6 800.9,549.5 801.8,549.5 802.7,549.6 803.6,549.7 804.4,549.9" fill="none" stroke="#dadada" stroke-width="1.7" stroke-linecap="round" stroke-linejoin="round"/>
<path d="M811.9,542.3 812.5,543.2 813.2,544.1 814.0,545.0 814.7,545.8 815.6,546.6 816.4,547.3 817.3,548.0 818.3,548.5 819.2,549.0 820.1,549.3 821.0,549.6 821.9,549.7 822.7,549.7 823.5,549.5 824.3,549.1 825.0,548.6 825.7,548.0 826.4,547.3 827.1,546.5 827.7,545.7 828.3,544.8 828.9,543.8 829.6,542.8 830.2,541.9 830.8,540.9 831.5,540.0 832.2,539.2 832.9,538.4 833.6,537.6 834.3,536.9 835.1,536.3 835.9,535.7 836.7,535.1 837.5,534.6 838.4,534.1 839.2,533.7 840.1,533.3 841.0,532.9 841.9,532.5 842.8,532.2 843.8,531.9 844.7,531.6 845.7,531.4 846.6,531.1 847.6,530.9 848.6,530.7 849.6,530.4 850.6,530.2 851.6,530.0 852.6,529.8 853.7,529.6 854.7,529.3 855.7,529.1 856.7,528.8 857.8,528.6 858.8,528.3" fill="none" stroke="#707070" stroke-width="3.5" stroke-linecap="round" stroke-linejoin="round"/>
<path d="M811.9,542.3 812.5,543.2 813.2,544.1 814.0,545.0 814.7,545.8 815.6,546.6 816.4,547.3 817.3,548.0 818.3,548.5 819.2,549.0 820.1,549.3 821.0,549.6 821.9,549.7 822.7,549.7 823.5,549.5 824.3,549.1 825.0,548.6 825.7,548.0 826.4,547.3 827.1,546.5 827.7,545.7 828.3,544.8 828.9,543.8 829.6,542.8 830.2,541.9 830.8,540.9 831.5,540.0 832.2,539.2 832.9,538.4 833.6,537.6 834.3,536.9 835.1,536.3 835.9,535.7 836.7,535.1 837.5,534.6 838.4,534.1 839.2,533.7 840.1,533.3 841.0,532.9 841.9,532.5 842.8,532.2 843.8,531.9 844.7,531.6 845.7,531.4 846.6,531.1 847.6,530.9 848.6,530.7 849.6,530.4 850.6,530.2 851.6,530.0 852.6,529.8 853.7,529.6 854.7,529.3 855.7,529.1 856.7,528.8 857.8,528.6 858.8,528.3" fill="none" stroke="#dadada" stroke-width="1.7" stroke-linecap="round" stroke-linejoin="round"/>
<path d="M798.6,487.9 797.9,486.5 797.3,485.1 796.8,483.9 796.5,482.7 796.4,481.6 796.3,480.6 796.4,479.7 796.6,478.8 796.9,478.0 797.3,477.3 797.9,476.6 798.5,476.0 799.1,475.5 799.9,475.0 800.7,474.6 801.6,474.2 802.6,473.8 803.6,473.5 804.6,473.2 805.7,473.0 806.8,472.8 807.9,472.6 809.1,472.4 810.2,472.3 811.4,472.2 812.6,472.0 813.7,471.9 814.9,471.8 816.0,471.7 817.1,471.7 818.2,471.7 819.3,471.7 820.3,471.7 821.3,471.8 822.3,472.0 823.2,472.2 824.0,472.4 824.8,472.8 825.5,473.2 826.2,473.6 826.8,474.2 827.3,474.8 827.8,475.5 828.2,476.3 828.6,477.1 828.9,478.0 829.1,479.0 829.3,480.0 829.5,481.0 829.6,482.1 829.7,483.3 829.7,484.4 829.8,485.6 829.8,486.8 829.8,488.0 829.7,489.3 829.7,490.5 829.7,491.7 829.6,493.0 829.6,494.2 829.5,495.4 829.4,496.5 829.2,497.6 829.1,498.7 828.9,499.6 828.6,500.5 828.3,501.4 828.0,502.1 827.6,502.7 827.1,503.2 826.6,503.6 826.0,503.9 825.3,504.1 824.6,504.1 823.8,504.0 823.0,503.9 822.1,503.6 821.2,503.3 820.3,502.9 819.3,502.5 818.3,502.0 817.2,501.5 816.2,500.9 815.1,500.3 814.0,499.7 812.9,499.1 811.9,498.5 810.8,497.9 809.7,497.3 808.6,496.8 807.6,496.3 806.6,495.8 805.6,495.4 804.6,495.1 803.7,494.8 802.8,494.6 802.0,494.6 801.2,494.6 800.4,494.7" fill="none" stroke="#707070" stroke-width="3.5" stroke-linecap="round" stroke-linejoin="round"/>
<path d="M798.6,487.9 797.9,486.5 797.3,485.1 796.8,483.9 796.5,482.7 796.4,481.6 796.3,480.6 796.4,479.7 796.6,478.8 796.9,478.0 797.3,477.3 797.9,476.6 798.5,476.0 799.1,475.5 799.9,475.0 800.7,474.6 801.6,474.2 802.6,473.8 803.6,473.5 804.6,473.2 805.7,473.0 806.8,472.8 807.9,472.6 809.1,472.4 810.2,472.3 811.4,472.2 812.6,472.0 813.7,471.9 814.9,471.8 816.0,471.7 817.1,471.7 818.2,471.7 819.3,471.7 820.3,471.7 821.3,471.8 822.3,472.0 823.2,472.2 824.0,472.4 824.8,472.8 825.5,473.2 826.2,473.6 826.8,474.2 827.3,474.8 827.8,475.5 828.2,476.3 828.6,477.1 828.9,478.0 829.1,479.0 829.3,480.0 829.5,481.0 829.6,482.1 829.7,483.3 829.7,484.4 829.8,485.6 829.8,486.8 829.8,488.0 829.7,489.3 829.7,490.5 829.7,491.7 829.6,493.0 829.6,494.2 829.5,495.4 829.4,496.5 829.2,497.6 829.1,498.7 828.9,499.6 828.6,500.5 828.3,501.4 828.0,502.1 827.6,502.7 827.1,503.2 826.6,503.6 826.0,503.9 825.3,504.1 824.6,504.1 823.8,504.0 823.0,503.9 822.1,503.6 821.2,503.3 820.3,502.9 819.3,502.5 818.3,502.0 817.2,501.5 816.2,500.9 815.1,500.3 814.0,499.7 812.9,499.1 811.9,498.5 810.8,497.9 809.7,497.3 808.6,496.8 807.6,496.3 806.6,495.8 805.6,495.4 804.6,495.1 803.7,494.8 802.8,494.6 802.0,494.6 801.2,494.6 800.4,494.7" fill="none" stroke="#dadada" stroke-width="1.7" stroke-linecap="round" stroke-linejoin="round"/>
<path d="M810.1,505.1 810.6,504.5 811.2,504.0 811.9,503.4 812.6,502.8 813.4,502.2 814.2,501.5 815.0,500.9 815.9,500.2 816.8,499.6 817.8,499.0 818.8,498.4 819.8,497.8 820.8,497.2 821.8,496.7 822.9,496.2 823.9,495.7 825.0,495.3 826.0,494.9 827.1,494.6 828.2,494.3 829.3,494.1 830.3,494.0 831.4,493.9 832.4,494.0 833.4,494.1 834.4,494.3 835.4,494.5 836.3,494.9 837.2,495.3 838.0,495.8 838.8,496.4 839.5,497.0 840.2,497.7 840.7,498.4 841.2,499.2 841.6,500.1 841.9,500.9 842.1,501.8 842.2,502.8 842.2,503.7 842.1,504.6 841.9,505.6 841.6,506.5 841.2,507.4 840.8,508.3 840.3,509.2 839.7,510.0 839.0,510.8 838.3,511.5 837.5,512.1 836.6,512.7 835.7,513.2 834.8,513.7 833.8,514.2 832.8,514.5 831.7,514.9 830.6,515.2 829.5,515.6 828.4,515.8 827.3,516.1 826.2,516.4 825.1,516.6 824.0,516.9 822.9,517.1 821.9,517.4 820.9,517.7 819.9,518.0 819.0,518.3 818.1,518.6 817.3,519.0 816.5,519.4 815.8,519.9" fill="none" stroke="#707070" stroke-width="3.5" stroke-linecap="round" stroke-linejoin="round"/>
<path d="M810.1,505.1 810.6,504.5 811.2,504.0 811.9,503.4 812.6,502.8 813.4,502.2 814.2,501.5 815.0,500.9 815.9,500.2 816.8,499.6 817.8,499.0 818.8,498.4 819.8,497.8 820.8,497.2 821.8,496.7 822.9,496.2 823.9,495.7 825.0,495.3 826.0,494.9 827.1,494.6 828.2,494.3 829.3,494.1 830.3,494.0 831.4,493.9 832.4,494.0 833.4,494.1 834.4,494.3 835.4,494.5 836.3,494.9 837.2,495.3 838.0,495.8 838.8,496.4 839.5,497.0 840.2,497.7 840.7,498.4 841.2,499.2 841.6,500.1 841.9,500.9 842.1,501.8 842.2,502.8 842.2,503.7 842.1,504.6 841.9,505.6 841.6,506.5 841.2,507.4 840.8,508.3 840.3,509.2 839.7,510.0 839.0,510.8 838.3,511.5 837.5,512.1 836.6,512.7 835.7,513.2 834.8,513.7 833.8,514.2 832.8,514.5 831.7,514.9 830.6,515.2 829.5,515.6 828.4,515.8 827.3,516.1 826.2,516.4 825.1,516.6 824.0,516.9 822.9,517.1 821.9,517.4 820.9,517.7 819.9,518.0 819.0,518.3 818.1,518.6 817.3,519.0 816.5,519.4 815.8,519.9" fill="none" stroke="#dadada" stroke-width="1.7" stroke-linecap="round" stroke-linejoin="round"/>
<path d="M760.5,479.0 760.4,481.9 760.4,484.4 760.5,486.5 760.7,488.2 761.0,489.4 761.4,490.4 761.9,491.0 762.4,491.3 763.0,491.3 763.7,491.1 764.4,490.7 765.1,490.1 765.9,489.4 766.7,488.5 767.4,487.5 768.2,486.5 769.0,485.4 769.7,484.3 770.4,483.3 771.0,482.2 771.6,481.3 772.2,480.4 772.7,479.7 773.0,479.2 773.3,478.8 773.5,478.7 773.6,478.7 773.6,479.1 773.6,479.6 773.4,480.3 773.2,481.1 773.0,482.1 772.8,483.2 772.6,484.4 772.3,485.6 772.2,486.9 772.0,488.2 772.0,489.5 772.0,490.8 772.2,492.0 772.4,493.2 772.8,494.3 773.3,495.2 774.0,496.0 774.9,496.6 776.0,497.1" fill="none" stroke="#707070" stroke-width="3.5" stroke-linecap="round" stroke-linejoin="round"/>
<path d="M760.5,479.0 760.4,481.9 760.4,484.4 760.5,486.5 760.7,488.2 761.0,489.4 761.4,490.4 761.9,491.0 762.4,491.3 763.0,491.3 763.7,491.1 764.4,490.7 765.1,490.1 765.9,489.4 766.7,488.5 767.4,487.5 768.2,486.5 769.0,485.4 769.7,484.3 770.4,483.3 771.0,482.2 771.6,481.3 772.2,480.4 772.7,479.7 773.0,479.2 773.3,478.8 773.5,478.7 773.6,478.7 773.6,479.1 773.6,479.6 773.4,480.3 773.2,481.1 773.0,482.1 772.8,483.2 772.6,484.4 772.3,485.6 772.2,486.9 772.0,488.2 772.0,489.5 772.0,490.8 772.2,492.0 772.4,493.2 772.8,494.3 773.3,495.2 774.0,496.0 774.9,496.6 776.0,497.1" fill="none" stroke="#dadada" stroke-width="1.7" stroke-linecap="round" stroke-linejoin="round"/>
<path d="M787.0,500.0 787.5,498.5 788.0,497.2 788.5,496.1 789.1,495.1 789.7,494.2 790.4,493.4 791.1,492.8 791.8,492.4 792.6,492.1 793.5,491.9 794.4,491.9 795.3,492.0 796.2,492.3 797.2,492.7 798.3,493.3 799.4,494.0 800.5,494.8" fill="none" stroke="#707070" stroke-width="3.5" stroke-linecap="round" stroke-linejoin="round"/>
<path d="M787.0,500.0 787.5,498.5 788.0,497.2 788.5,496.1 789.1,495.1 789.7,494.2 790.4,493.4 791.1,492.8 791.8,492.4 792.6,492.1 793.5,491.9 794.4,491.9 795.3,492.0 796.2,492.3 797.2,492.7 798.3,493.3 799.4,494.0 800.5,494.8" fill="none" stroke="#dadada" stroke-width="1.7" stroke-linecap="round" stroke-linejoin="round"/>
<path d="M655.9,547.2 656.9,546.2 657.8,545.3 658.7,544.5 659.6,543.8 660.6,543.2 661.5,542.7 662.4,542.3 663.3,542.0 664.2,541.7 665.0,541.6 665.9,541.5 666.8,541.5 667.7,541.6 668.5,541.7 669.4,541.9 670.2,542.2 671.0,542.5 671.9,542.9 672.7,543.4 673.5,543.8 674.3,544.4 675.1,545.0 675.8,545.6 676.6,546.2 677.3,546.9 678.1,547.6 678.8,548.4 679.5,549.1 680.2,549.9 680.9,550.7 681.6,551.5 682.3,552.3 682.9,553.2 683.6,554.0 684.2,554.9 684.8,555.7 685.4,556.6 686.0,557.4 686.6,558.3 687.2,559.1 687.8,560.0 688.4,560.9 689.0,561.7 689.5,562.6 690.1,563.5 690.7,564.3 691.2,565.2 691.8,566.0 692.4,566.9 692.9,567.7 693.5,568.6 694.1,569.4 694.7,570.2 695.3,571.0 695.9,571.9 696.5,572.7 697.1,573.5 697.7,574.2 698.3,575.0 698.9,575.8 699.6,576.5 700.2,577.3 700.9,578.0 701.6,578.7 702.3,579.4 703.0,580.0 703.8,580.7 704.5,581.3 705.3,582.0 706.1,582.6 706.9,583.1 707.7,583.7 708.6,584.2 709.4,584.7 710.3,585.2 711.2,585.7 712.2,586.2 713.1,586.6 714.0,587.0 715.0,587.3 716.0,587.6 717.0,587.9 718.0,588.2 719.0,588.4 720.0,588.6 721.0,588.8 722.0,588.9 723.0,589.0 724.0,589.0 725.0,589.0 725.9,589.0 726.9,588.9 727.9,588.8 728.9,588.6 729.8,588.4 730.8,588.1 731.7,587.8 732.6,587.5 733.5,587.0 734.4,586.6 735.2,586.1 736.1,585.5 736.9,584.9 737.7,584.3 738.5,583.6 739.3,582.9 740.0,582.2 740.8,581.5 741.5,580.7 742.2,579.9 742.9,579.1 743.5,578.3 744.2,577.4 744.8,576.6 745.4,575.7 746.0,574.9 746.6,574.0 747.2,573.2 747.7,572.3 748.3,571.5 748.8,570.6 749.3,569.7 749.9,568.9 750.4,568.0 750.8,567.1 751.3,566.3 751.8,565.4 752.3,564.5 752.8,563.7 753.2,562.8 753.7,561.9 754.2,561.0 754.7,560.1 755.1,559.3 755.6,558.4 756.1,557.5 756.6,556.6 757.1,555.8 757.6,554.9 758.1,554.0 758.6,553.1 759.1,552.3 759.7,551.4 760.2,550.5 760.8,549.6 761.4,548.8 762.0,547.9 762.6,547.0 763.2,546.2 763.9,545.3 764.6,544.6 765.3,543.9 766.0,543.2 766.7,542.7 767.5,542.3 768.3,542.0 769.2,541.8 770.0,541.9 770.9,542.0 771.8,542.3 772.7,542.7 773.6,543.2 774.5,543.7 775.4,544.4 776.2,545.0 777.0,545.7 777.8,546.4 778.5,547.2 779.1,547.9 779.7,548.7 780.3,549.4 780.8,550.2 781.3,551.0 781.8,551.8 782.3,552.6 782.7,553.4 783.1,554.3 783.5,555.1 783.9,556.0 784.3,556.9 784.7,557.7 785.1,558.6 785.6,559.5 786.0,560.5 786.4,561.4 786.9,562.3 787.4,563.3 787.9,564.2 788.4,565.2 788.9,566.2 789.4,567.2 790.0,568.1 790.6,569.1 791.2,570.1 791.8,571.0 792.4,572.0 793.1,572.9 793.7,573.9 794.4,574.8 795.0,575.7 795.7,576.6 796.4,577.5 797.2,578.3 797.9,579.2 798.6,580.0 799.4,580.8 800.1,581.5 800.9,582.2 801.7,582.9 802.4,583.6 803.2,584.2 804.0,584.8 804.8,585.4 805.6,585.9 806.4,586.4 807.3,586.8 808.1,587.2 808.9,587.5 809.8,587.8 810.6,588.0 811.4,588.2 812.3,588.3 813.1,588.4 814.0,588.4 814.8,588.4 815.7,588.3 816.6,588.1 817.4,587.9 818.3,587.7 819.1,587.4 820.0,587.0 820.8,586.6 821.7,586.2 822.5,585.8 823.3,585.3 824.2,584.7 825.0,584.2 825.8,583.6 826.6,582.9 827.5,582.3 828.3,581.6 829.1,580.9 829.9,580.2 830.6,579.5 831.4,578.7 832.2,577.9 832.9,577.2 833.7,576.4 834.4,575.6 835.1,574.7 835.8,573.9 836.5,573.1 837.2,572.3 837.9,571.4 838.6,570.6 839.2,569.8 839.8,569.0 840.4,568.2 841.0,567.4 841.6,566.6 842.2,565.8 842.8,565.0 843.4,564.2 844.0,563.5 844.6,562.7 845.2,561.9 845.8,561.2 846.4,560.5 847.0,559.7 847.6,559.0 848.3,558.3 848.9,557.6 849.6,556.9 850.3,556.2 851.0,555.6 851.7,554.9 852.4,554.3 853.2,553.7 854.0,553.0 854.9,552.4 855.7,551.8 856.6,551.3 857.6,550.7 858.5,550.2 859.6,549.6" fill="none" stroke="#8f8200" stroke-width="6.0" stroke-linecap="butt" stroke-linejoin="round"/>
<path d="M655.9,547.2 656.9,546.2 657.8,545.3 658.7,544.5 659.6,543.8 660.6,543.2 661.5,542.7 662.4,542.3 663.3,542.0 664.2,541.7 665.0,541.6 665.9,541.5 666.8,541.5 667.7,541.6 668.5,541.7 669.4,541.9 670.2,542.2 671.0,542.5 671.9,542.9 672.7,543.4 673.5,543.8 674.3,544.4 675.1,545.0 675.8,545.6 676.6,546.2 677.3,546.9 678.1,547.6 678.8,548.4 679.5,549.1 680.2,549.9 680.9,550.7 681.6,551.5 682.3,552.3 682.9,553.2 683.6,554.0 684.2,554.9 684.8,555.7 685.4,556.6 686.0,557.4 686.6,558.3 687.2,559.1 687.8,560.0 688.4,560.9 689.0,561.7 689.5,562.6 690.1,563.5 690.7,564.3 691.2,565.2 691.8,566.0 692.4,566.9 692.9,567.7 693.5,568.6 694.1,569.4 694.7,570.2 695.3,571.0 695.9,571.9 696.5,572.7 697.1,573.5 697.7,574.2 698.3,575.0 698.9,575.8 699.6,576.5 700.2,577.3 700.9,578.0 701.6,578.7 702.3,579.4 703.0,580.0 703.8,580.7 704.5,581.3 705.3,582.0 706.1,582.6 706.9,583.1 707.7,583.7 708.6,584.2 709.4,584.7 710.3,585.2 711.2,585.7 712.2,586.2 713.1,586.6 714.0,587.0 715.0,587.3 716.0,587.6 717.0,587.9 718.0,588.2 719.0,588.4 720.0,588.6 721.0,588.8 722.0,588.9 723.0,589.0 724.0,589.0 725.0,589.0 725.9,589.0 726.9,588.9 727.9,588.8 728.9,588.6 729.8,588.4 730.8,588.1 731.7,587.8 732.6,587.5 733.5,587.0 734.4,586.6 735.2,586.1 736.1,585.5 736.9,584.9 737.7,584.3 738.5,583.6 739.3,582.9 740.0,582.2 740.8,581.5 741.5,580.7 742.2,579.9 742.9,579.1 743.5,578.3 744.2,577.4 744.8,576.6 745.4,575.7 746.0,574.9 746.6,574.0 747.2,573.2 747.7,572.3 748.3,571.5 748.8,570.6 749.3,569.7 749.9,568.9 750.4,568.0 750.8,567.1 751.3,566.3 751.8,565.4 752.3,564.5 752.8,563.7 753.2,562.8 753.7,561.9 754.2,561.0 754.7,560.1 755.1,559.3 755.6,558.4 756.1,557.5 756.6,556.6 757.1,555.8 757.6,554.9 758.1,554.0 758.6,553.1 759.1,552.3 759.7,551.4 760.2,550.5 760.8,549.6 761.4,548.8 762.0,547.9 762.6,547.0 763.2,546.2 763.9,545.3 764.6,544.6 765.3,543.9 766.0,543.2 766.7,542.7 767.5,542.3 768.3,542.0 769.2,541.8 770.0,541.9 770.9,542.0 771.8,542.3 772.7,542.7 773.6,543.2 774.5,543.7 775.4,544.4 776.2,545.0 777.0,545.7 777.8,546.4 778.5,547.2 779.1,547.9 779.7,548.7 780.3,549.4 780.8,550.2 781.3,551.0 781.8,551.8 782.3,552.6 782.7,553.4 783.1,554.3 783.5,555.1 783.9,556.0 784.3,556.9 784.7,557.7 785.1,558.6 785.6,559.5 786.0,560.5 786.4,561.4 786.9,562.3 787.4,563.3 787.9,564.2 788.4,565.2 788.9,566.2 789.4,567.2 790.0,568.1 790.6,569.1 791.2,570.1 791.8,571.0 792.4,572.0 793.1,572.9 793.7,573.9 794.4,574.8 795.0,575.7 795.7,576.6 796.4,577.5 797.2,578.3 797.9,579.2 798.6,580.0 799.4,580.8 800.1,581.5 800.9,582.2 801.7,582.9 802.4,583.6 803.2,584.2 804.0,584.8 804.8,585.4 805.6,585.9 806.4,586.4 807.3,586.8 808.1,587.2 808.9,587.5 809.8,587.8 810.6,588.0 811.4,588.2 812.3,588.3 813.1,588.4 814.0,588.4 814.8,588.4 815.7,588.3 816.6,588.1 817.4,587.9 818.3,587.7 819.1,587.4 820.0,587.0 820.8,586.6 821.7,586.2 822.5,585.8 823.3,585.3 824.2,584.7 825.0,584.2 825.8,583.6 826.6,582.9 827.5,582.3 828.3,581.6 829.1,580.9 829.9,580.2 830.6,579.5 831.4,578.7 832.2,577.9 832.9,577.2 833.7,576.4 834.4,575.6 835.1,574.7 835.8,573.9 836.5,573.1 837.2,572.3 837.9,571.4 838.6,570.6 839.2,569.8 839.8,569.0 840.4,568.2 841.0,567.4 841.6,566.6 842.2,565.8 842.8,565.0 843.4,564.2 844.0,563.5 844.6,562.7 845.2,561.9 845.8,561.2 846.4,560.5 847.0,559.7 847.6,559.0 848.3,558.3 848.9,557.6 849.6,556.9 850.3,556.2 851.0,555.6 851.7,554.9 852.4,554.3 853.2,553.7 854.0,553.0 854.9,552.4 855.7,551.8 856.6,551.3 857.6,550.7 858.5,550.2 859.6,549.6" fill="none" stroke="#f2dc1e" stroke-width="4.8" stroke-linecap="butt" stroke-linejoin="round"/>
<path d="M764.0,505.8 763.9,505.6 764.0,505.4 764.2,505.1 764.4,504.7 764.8,504.3 765.3,503.9 765.8,503.4 766.5,502.9 767.2,502.4 768.1,501.8 768.9,501.4 769.8,500.9 770.8,500.5 771.8,500.1 772.8,499.9 773.8,499.6 774.8,499.5 775.7,499.5 776.6,499.5 777.5,499.7 778.3,499.9 779.0,500.3 779.6,500.7 780.1,501.2" fill="none" stroke="#6a6a6a" stroke-width="4.0" stroke-linecap="round"/>
<path d="M764.0,505.8 763.9,505.6 764.0,505.4 764.2,505.1 764.4,504.7 764.8,504.3 765.3,503.9 765.8,503.4 766.5,502.9 767.2,502.4 768.1,501.8 768.9,501.4 769.8,500.9 770.8,500.5 771.8,500.1 772.8,499.9 773.8,499.6 774.8,499.5 775.7,499.5 776.6,499.5 777.5,499.7 778.3,499.9 779.0,500.3 779.6,500.7 780.1,501.2" fill="none" stroke="#a8a8a8" stroke-width="2.6" stroke-linecap="round"/>
<path d="M773.9,516.7 773.9,516.5 774.0,516.2 774.2,515.9 774.5,515.5 774.9,515.1 775.4,514.6 776.0,514.1 776.7,513.6 777.5,513.1 778.3,512.6 779.2,512.1 780.1,511.7 781.1,511.3 782.1,511.0 783.1,510.7 784.0,510.5 785.0,510.4 786.0,510.4 786.9,510.5 787.7,510.6 788.5,510.9 789.1,511.3 789.7,511.7 790.3,512.3" fill="none" stroke="#6a6a6a" stroke-width="4.0" stroke-linecap="round"/>
<path d="M773.9,516.7 773.9,516.5 774.0,516.2 774.2,515.9 774.5,515.5 774.9,515.1 775.4,514.6 776.0,514.1 776.7,513.6 777.5,513.1 778.3,512.6 779.2,512.1 780.1,511.7 781.1,511.3 782.1,511.0 783.1,510.7 784.0,510.5 785.0,510.4 786.0,510.4 786.9,510.5 787.7,510.6 788.5,510.9 789.1,511.3 789.7,511.7 790.3,512.3" fill="none" stroke="#a8a8a8" stroke-width="2.6" stroke-linecap="round"/>
<path d="M769.3,500.5 768.7,501.4 768.2,502.2 767.6,502.9 767.0,503.6 766.5,504.2 765.9,504.7 765.4,505.1 765.0,505.5 764.6,505.7 764.3,505.8 764.1,505.8 764.0,505.8" fill="none" stroke="#555" stroke-width="6.5" stroke-linecap="butt"/>
<path d="M769.3,500.5 768.7,501.4 768.2,502.2 767.6,502.9 767.0,503.6 766.5,504.2 765.9,504.7 765.4,505.1 765.0,505.5 764.6,505.7 764.3,505.8 764.1,505.8 764.0,505.8" fill="none" stroke="#cfcfcf" stroke-width="4.9" stroke-linecap="butt"/>
<path d="M769.3,500.5 768.7,501.4 768.2,502.2 767.6,502.9 767.0,503.6 766.5,504.2 765.9,504.7 765.4,505.1 765.0,505.5 764.6,505.7 764.3,505.8 764.1,505.8 764.0,505.8" fill="none" stroke="#f4f4f4" stroke-width="1.7" stroke-linecap="butt"/>
<path d="M780.1,501.2 780.6,501.8 780.9,502.5 781.1,503.3 781.3,504.1 781.3,505.0 781.2,505.9 781.1,506.9 780.8,507.9 780.5,508.8 780.1,509.8 779.6,510.7 779.1,511.6 778.6,512.5 778.0,513.3 777.4,514.0 776.9,514.7 776.3,515.3 775.8,515.8 775.3,516.1 774.9,516.4 774.5,516.6 774.2,516.7 774.1,516.8 773.9,516.7" fill="none" stroke="#555" stroke-width="6.5" stroke-linecap="butt"/>
<path d="M780.1,501.2 780.6,501.8 780.9,502.5 781.1,503.3 781.3,504.1 781.3,505.0 781.2,505.9 781.1,506.9 780.8,507.9 780.5,508.8 780.1,509.8 779.6,510.7 779.1,511.6 778.6,512.5 778.0,513.3 777.4,514.0 776.9,514.7 776.3,515.3 775.8,515.8 775.3,516.1 774.9,516.4 774.5,516.6 774.2,516.7 774.1,516.8 773.9,516.7" fill="none" stroke="#cfcfcf" stroke-width="4.9" stroke-linecap="butt"/>
<path d="M780.1,501.2 780.6,501.8 780.9,502.5 781.1,503.3 781.3,504.1 781.3,505.0 781.2,505.9 781.1,506.9 780.8,507.9 780.5,508.8 780.1,509.8 779.6,510.7 779.1,511.6 778.6,512.5 778.0,513.3 777.4,514.0 776.9,514.7 776.3,515.3 775.8,515.8 775.3,516.1 774.9,516.4 774.5,516.6 774.2,516.7 774.1,516.8 773.9,516.7" fill="none" stroke="#f4f4f4" stroke-width="1.7" stroke-linecap="butt"/>
<path d="M790.3,512.3 790.7,512.9 791.0,513.7 791.2,514.4 791.3,515.3 791.3,516.2 791.2,517.1 791.0,518.1 790.8,519.0 790.4,520.0 790.0,521.0 789.5,521.9 789.0,522.8 788.4,523.6 787.9,524.4 787.3,525.1 786.7,525.8 786.2,526.3 785.7,526.8 785.2,527.1 784.8,527.4 784.4,527.6" fill="none" stroke="#555" stroke-width="6.5" stroke-linecap="butt"/>
<path d="M790.3,512.3 790.7,512.9 791.0,513.7 791.2,514.4 791.3,515.3 791.3,516.2 791.2,517.1 791.0,518.1 790.8,519.0 790.4,520.0 790.0,521.0 789.5,521.9 789.0,522.8 788.4,523.6 787.9,524.4 787.3,525.1 786.7,525.8 786.2,526.3 785.7,526.8 785.2,527.1 784.8,527.4 784.4,527.6" fill="none" stroke="#cfcfcf" stroke-width="4.9" stroke-linecap="butt"/>
<path d="M790.3,512.3 790.7,512.9 791.0,513.7 791.2,514.4 791.3,515.3 791.3,516.2 791.2,517.1 791.0,518.1 790.8,519.0 790.4,520.0 790.0,521.0 789.5,521.9 789.0,522.8 788.4,523.6 787.9,524.4 787.3,525.1 786.7,525.8 786.2,526.3 785.7,526.8 785.2,527.1 784.8,527.4 784.4,527.6" fill="none" stroke="#f4f4f4" stroke-width="1.7" stroke-linecap="butt"/>
<path d="M798.8,537.5 798.7,537.5 798.4,537.3 798.2,537.0 797.9,536.6 797.7,536.1 797.4,535.4 797.2,534.6 796.9,533.7 796.7,532.8 796.6,531.8 796.5,530.7 796.4,529.6 796.5,528.5 796.5,527.4 796.7,526.3 796.9,525.3 797.2,524.3 797.6,523.4 798.0,522.5 798.5,521.8 799.1,521.2 799.7,520.7 800.4,520.3 801.2,520.0" fill="none" stroke="#6a6a6a" stroke-width="4.0" stroke-linecap="round"/>
<path d="M798.8,537.5 798.7,537.5 798.4,537.3 798.2,537.0 797.9,536.6 797.7,536.1 797.4,535.4 797.2,534.6 796.9,533.7 796.7,532.8 796.6,531.8 796.5,530.7 796.4,529.6 796.5,528.5 796.5,527.4 796.7,526.3 796.9,525.3 797.2,524.3 797.6,523.4 798.0,522.5 798.5,521.8 799.1,521.2 799.7,520.7 800.4,520.3 801.2,520.0" fill="none" stroke="#a8a8a8" stroke-width="2.6" stroke-linecap="round"/>
<path d="M812.5,533.2 812.3,533.1 812.1,532.8 811.8,532.5 811.5,532.0 811.3,531.4 811.0,530.6 810.8,529.8 810.6,528.9 810.4,527.9 810.3,526.9 810.2,525.8 810.2,524.7 810.2,523.6 810.4,522.5 810.5,521.4 810.8,520.4" fill="none" stroke="#6a6a6a" stroke-width="4.0" stroke-linecap="round"/>
<path d="M812.5,533.2 812.3,533.1 812.1,532.8 811.8,532.5 811.5,532.0 811.3,531.4 811.0,530.6 810.8,529.8 810.6,528.9 810.4,527.9 810.3,526.9 810.2,525.8 810.2,524.7 810.2,523.6 810.4,522.5 810.5,521.4 810.8,520.4" fill="none" stroke="#a8a8a8" stroke-width="2.6" stroke-linecap="round"/>
<path d="M796.4,529.9 797.0,530.8 797.5,531.8 798.0,532.7 798.3,533.5 798.6,534.4 798.9,535.1 799.0,535.8 799.1,536.4 799.1,536.8 799.1,537.2 799.0,537.4 798.8,537.5" fill="none" stroke="#555" stroke-width="6.5" stroke-linecap="butt"/>
<path d="M796.4,529.9 797.0,530.8 797.5,531.8 798.0,532.7 798.3,533.5 798.6,534.4 798.9,535.1 799.0,535.8 799.1,536.4 799.1,536.8 799.1,537.2 799.0,537.4 798.8,537.5" fill="none" stroke="#cfcfcf" stroke-width="4.9" stroke-linecap="butt"/>
<path d="M796.4,529.9 797.0,530.8 797.5,531.8 798.0,532.7 798.3,533.5 798.6,534.4 798.9,535.1 799.0,535.8 799.1,536.4 799.1,536.8 799.1,537.2 799.0,537.4 798.8,537.5" fill="none" stroke="#f4f4f4" stroke-width="1.7" stroke-linecap="butt"/>
<path d="M801.2,520.0 801.9,519.9 802.8,519.9 803.6,520.1 804.4,520.3 805.3,520.7 806.1,521.2 806.9,521.9 807.7,522.6 808.5,523.3 809.2,524.2 809.9,525.1 810.5,526.0 811.0,526.9 811.5,527.8 811.9,528.7 812.3,529.6 812.5,530.4 812.7,531.1 812.8,531.7 812.9,532.2 812.9,532.7 812.8,533.0 812.7,533.1 812.5,533.2" fill="none" stroke="#555" stroke-width="6.5" stroke-linecap="butt"/>
<path d="M801.2,520.0 801.9,519.9 802.8,519.9 803.6,520.1 804.4,520.3 805.3,520.7 806.1,521.2 806.9,521.9 807.7,522.6 808.5,523.3 809.2,524.2 809.9,525.1 810.5,526.0 811.0,526.9 811.5,527.8 811.9,528.7 812.3,529.6 812.5,530.4 812.7,531.1 812.8,531.7 812.9,532.2 812.9,532.7 812.8,533.0 812.7,533.1 812.5,533.2" fill="none" stroke="#cfcfcf" stroke-width="4.9" stroke-linecap="butt"/>
<path d="M801.2,520.0 801.9,519.9 802.8,519.9 803.6,520.1 804.4,520.3 805.3,520.7 806.1,521.2 806.9,521.9 807.7,522.6 808.5,523.3 809.2,524.2 809.9,525.1 810.5,526.0 811.0,526.9 811.5,527.8 811.9,528.7 812.3,529.6 812.5,530.4 812.7,531.1 812.8,531.7 812.9,532.2 812.9,532.7 812.8,533.0 812.7,533.1 812.5,533.2" fill="none" stroke="#f4f4f4" stroke-width="1.7" stroke-linecap="butt"/>
<path d="M820.4,516.3 820.3,516.1 820.2,516.0 820.0,515.7 819.8,515.4 819.6,515.0 819.3,514.6 819.0,514.1 818.7,513.6 818.4,513.0 818.1,512.4 817.8,511.7 817.6,511.0 817.4,510.3 817.2,509.5 817.1,508.8 817.0,508.1 817.0,507.3 817.0,506.6 817.1,506.0 817.3,505.3 817.6,504.7 817.9,504.2 818.3,503.7 818.7,503.2" fill="none" stroke="#6a6a6a" stroke-width="2.5" stroke-linecap="round"/>
<path d="M820.4,516.3 820.3,516.1 820.2,516.0 820.0,515.7 819.8,515.4 819.6,515.0 819.3,514.6 819.0,514.1 818.7,513.6 818.4,513.0 818.1,512.4 817.8,511.7 817.6,511.0 817.4,510.3 817.2,509.5 817.1,508.8 817.0,508.1 817.0,507.3 817.0,506.6 817.1,506.0 817.3,505.3 817.6,504.7 817.9,504.2 818.3,503.7 818.7,503.2" fill="none" stroke="#a8a8a8" stroke-width="1.1" stroke-linecap="round"/>
<path d="M831.1,504.3 831.0,504.1 830.9,504.0 830.7,503.7 830.5,503.4 830.3,503.0 830.0,502.6 829.7,502.1 829.4,501.6 829.1,501.0 828.8,500.4 828.5,499.7" fill="none" stroke="#6a6a6a" stroke-width="2.5" stroke-linecap="round"/>
<path d="M831.1,504.3 831.0,504.1 830.9,504.0 830.7,503.7 830.5,503.4 830.3,503.0 830.0,502.6 829.7,502.1 829.4,501.6 829.1,501.0 828.8,500.4 828.5,499.7" fill="none" stroke="#a8a8a8" stroke-width="1.1" stroke-linecap="round"/>
<path d="M815.5,514.3 816.2,514.5 816.9,514.7 817.5,515.0 818.1,515.2 818.6,515.4 819.0,515.7 819.4,515.9 819.8,516.0 820.0,516.2 820.2,516.3 820.3,516.3 820.4,516.3 820.4,516.3" fill="none" stroke="#555" stroke-width="4.0" stroke-linecap="butt"/>
<path d="M815.5,514.3 816.2,514.5 816.9,514.7 817.5,515.0 818.1,515.2 818.6,515.4 819.0,515.7 819.4,515.9 819.8,516.0 820.0,516.2 820.2,516.3 820.3,516.3 820.4,516.3 820.4,516.3" fill="none" stroke="#cfcfcf" stroke-width="2.4" stroke-linecap="butt"/>
<path d="M815.5,514.3 816.2,514.5 816.9,514.7 817.5,515.0 818.1,515.2 818.6,515.4 819.0,515.7 819.4,515.9 819.8,516.0 820.0,516.2 820.2,516.3 820.3,516.3 820.4,516.3 820.4,516.3" fill="none" stroke="#f4f4f4" stroke-width="1.0" stroke-linecap="butt"/>
<path d="M818.7,503.2 819.2,502.9 819.8,502.5 820.4,502.3 821.1,502.1 821.7,502.0 822.5,501.9 823.2,501.9 824.0,501.9 824.7,502.0 825.4,502.1 826.2,502.3 826.9,502.5 827.5,502.7 828.1,503.0 828.7,503.2 829.2,503.4 829.7,503.7 830.1,503.9 830.4,504.0 830.7,504.2 830.9,504.3 831.0,504.3 831.1,504.3 831.1,504.3" fill="none" stroke="#555" stroke-width="4.0" stroke-linecap="butt"/>
<path d="M818.7,503.2 819.2,502.9 819.8,502.5 820.4,502.3 821.1,502.1 821.7,502.0 822.5,501.9 823.2,501.9 824.0,501.9 824.7,502.0 825.4,502.1 826.2,502.3 826.9,502.5 827.5,502.7 828.1,503.0 828.7,503.2 829.2,503.4 829.7,503.7 830.1,503.9 830.4,504.0 830.7,504.2 830.9,504.3 831.0,504.3 831.1,504.3 831.1,504.3" fill="none" stroke="#cfcfcf" stroke-width="2.4" stroke-linecap="butt"/>
<path d="M818.7,503.2 819.2,502.9 819.8,502.5 820.4,502.3 821.1,502.1 821.7,502.0 822.5,501.9 823.2,501.9 824.0,501.9 824.7,502.0 825.4,502.1 826.2,502.3 826.9,502.5 827.5,502.7 828.1,503.0 828.7,503.2 829.2,503.4 829.7,503.7 830.1,503.9 830.4,504.0 830.7,504.2 830.9,504.3 831.0,504.3 831.1,504.3 831.1,504.3" fill="none" stroke="#f4f4f4" stroke-width="1.0" stroke-linecap="butt"/>
<path d="M700.8,549.0 700.6,548.9 700.5,548.6 700.4,548.3 700.3,547.8 700.2,547.2 700.1,546.6 700.1,545.9 700.1,545.1 700.1,544.3 700.2,543.5 700.3,542.6 700.5,541.7 700.8,540.9 701.1,540.0 701.4,539.2 701.8,538.4 702.2,537.7 702.7,537.1 703.2,536.6 703.8,536.1 704.4,535.8 705.0,535.6 705.6,535.4 706.2,535.4" fill="none" stroke="#6a6a6a" stroke-width="4.0" stroke-linecap="round"/>
<path d="M700.8,549.0 700.6,548.9 700.5,548.6 700.4,548.3 700.3,547.8 700.2,547.2 700.1,546.6 700.1,545.9 700.1,545.1 700.1,544.3 700.2,543.5 700.3,542.6 700.5,541.7 700.8,540.9 701.1,540.0 701.4,539.2 701.8,538.4 702.2,537.7 702.7,537.1 703.2,536.6 703.8,536.1 704.4,535.8 705.0,535.6 705.6,535.4 706.2,535.4" fill="none" stroke="#a8a8a8" stroke-width="2.6" stroke-linecap="round"/>
<path d="M713.3,547.5 713.1,547.4 713.0,547.1 712.9,546.8 712.8,546.3 712.7,545.7 712.6,545.1 712.6,544.4 712.6,543.6 712.6,542.8 712.7,542.0 712.8,541.1 713.0,540.2 713.3,539.4 713.6,538.5 713.9,537.7 714.3,536.9 714.7,536.2 715.2,535.6 715.7,535.1 716.3,534.6 716.9,534.3 717.5,534.1 718.1,533.9 718.7,533.9" fill="none" stroke="#6a6a6a" stroke-width="4.0" stroke-linecap="round"/>
<path d="M713.3,547.5 713.1,547.4 713.0,547.1 712.9,546.8 712.8,546.3 712.7,545.7 712.6,545.1 712.6,544.4 712.6,543.6 712.6,542.8 712.7,542.0 712.8,541.1 713.0,540.2 713.3,539.4 713.6,538.5 713.9,537.7 714.3,536.9 714.7,536.2 715.2,535.6 715.7,535.1 716.3,534.6 716.9,534.3 717.5,534.1 718.1,533.9 718.7,533.9" fill="none" stroke="#a8a8a8" stroke-width="2.6" stroke-linecap="round"/>
<path d="M699.9,542.7 700.2,543.5 700.5,544.3 700.8,545.1 700.9,545.8 701.1,546.5 701.2,547.1 701.2,547.7 701.2,548.2 701.2,548.5 701.1,548.8 701.0,549.0 700.9,549.1 700.8,549.0" fill="none" stroke="#555" stroke-width="6.5" stroke-linecap="butt"/>
<path d="M699.9,542.7 700.2,543.5 700.5,544.3 700.8,545.1 700.9,545.8 701.1,546.5 701.2,547.1 701.2,547.7 701.2,548.2 701.2,548.5 701.1,548.8 701.0,549.0 700.9,549.1 700.8,549.0" fill="none" stroke="#cfcfcf" stroke-width="4.9" stroke-linecap="butt"/>
<path d="M699.9,542.7 700.2,543.5 700.5,544.3 700.8,545.1 700.9,545.8 701.1,546.5 701.2,547.1 701.2,547.7 701.2,548.2 701.2,548.5 701.1,548.8 701.0,549.0 700.9,549.1 700.8,549.0" fill="none" stroke="#f4f4f4" stroke-width="1.7" stroke-linecap="butt"/>
<path d="M706.2,535.4 706.9,535.5 707.6,535.7 708.2,536.0 708.8,536.4 709.4,536.9 710.0,537.5 710.6,538.1 711.1,538.8 711.6,539.6 712.0,540.3 712.4,541.2 712.7,542.0 713.0,542.8 713.3,543.6 713.4,544.3 713.6,545.0 713.7,545.6 713.7,546.2 713.7,546.7 713.7,547.0 713.6,547.3 713.5,547.5 713.4,547.6 713.3,547.5" fill="none" stroke="#555" stroke-width="6.5" stroke-linecap="butt"/>
<path d="M706.2,535.4 706.9,535.5 707.6,535.7 708.2,536.0 708.8,536.4 709.4,536.9 710.0,537.5 710.6,538.1 711.1,538.8 711.6,539.6 712.0,540.3 712.4,541.2 712.7,542.0 713.0,542.8 713.3,543.6 713.4,544.3 713.6,545.0 713.7,545.6 713.7,546.2 713.7,546.7 713.7,547.0 713.6,547.3 713.5,547.5 713.4,547.6 713.3,547.5" fill="none" stroke="#cfcfcf" stroke-width="4.9" stroke-linecap="butt"/>
<path d="M706.2,535.4 706.9,535.5 707.6,535.7 708.2,536.0 708.8,536.4 709.4,536.9 710.0,537.5 710.6,538.1 711.1,538.8 711.6,539.6 712.0,540.3 712.4,541.2 712.7,542.0 713.0,542.8 713.3,543.6 713.4,544.3 713.6,545.0 713.7,545.6 713.7,546.2 713.7,546.7 713.7,547.0 713.6,547.3 713.5,547.5 713.4,547.6 713.3,547.5" fill="none" stroke="#f4f4f4" stroke-width="1.7" stroke-linecap="butt"/>
<path d="M718.7,533.9 719.4,534.0 720.1,534.2 720.7,534.5 721.3,534.9 721.9,535.4 722.5,536.0 723.1,536.6 723.6,537.3 724.1,538.1 724.5,538.8 724.9,539.7" fill="none" stroke="#555" stroke-width="6.5" stroke-linecap="butt"/>
<path d="M718.7,533.9 719.4,534.0 720.1,534.2 720.7,534.5 721.3,534.9 721.9,535.4 722.5,536.0 723.1,536.6 723.6,537.3 724.1,538.1 724.5,538.8 724.9,539.7" fill="none" stroke="#cfcfcf" stroke-width="4.9" stroke-linecap="butt"/>
<path d="M718.7,533.9 719.4,534.0 720.1,534.2 720.7,534.5 721.3,534.9 721.9,535.4 722.5,536.0 723.1,536.6 723.6,537.3 724.1,538.1 724.5,538.8 724.9,539.7" fill="none" stroke="#f4f4f4" stroke-width="1.7" stroke-linecap="butt"/>
<path d="M722.6,552.7 722.8,552.5 723.1,552.5 723.5,552.6 724.1,552.7 724.7,553.0 725.4,553.4 726.1,553.8 726.9,554.4 727.8,555.1 728.6,555.8 729.4,556.7 730.2,557.6 731.0,558.5 731.7,559.5 732.3,560.6 732.9,561.6 733.3,562.7 733.6,563.7 733.9,564.7 734.0,565.7 733.9,566.6 733.8,567.5 733.5,568.3 733.0,569.0" fill="none" stroke="#6a6a6a" stroke-width="4.3" stroke-linecap="round"/>
<path d="M722.6,552.7 722.8,552.5 723.1,552.5 723.5,552.6 724.1,552.7 724.7,553.0 725.4,553.4 726.1,553.8 726.9,554.4 727.8,555.1 728.6,555.8 729.4,556.7 730.2,557.6 731.0,558.5 731.7,559.5 732.3,560.6 732.9,561.6 733.3,562.7 733.6,563.7 733.9,564.7 734.0,565.7 733.9,566.6 733.8,567.5 733.5,568.3 733.0,569.0" fill="none" stroke="#a8a8a8" stroke-width="2.9" stroke-linecap="round"/>
<path d="M714.3,564.3 714.5,564.2 714.8,564.2 715.3,564.2 715.8,564.4 716.4,564.7 717.1,565.1 717.9,565.5 718.7,566.1 719.5,566.8 720.3,567.6 721.2,568.4 722.0,569.3 722.7,570.3 723.4,571.3 724.0,572.3 724.6,573.4 725.0,574.4 725.3,575.5 725.5,576.5 725.6,577.5 725.6,578.4 725.4,579.2 725.1,580.0 724.7,580.7" fill="none" stroke="#6a6a6a" stroke-width="4.3" stroke-linecap="round"/>
<path d="M714.3,564.3 714.5,564.2 714.8,564.2 715.3,564.2 715.8,564.4 716.4,564.7 717.1,565.1 717.9,565.5 718.7,566.1 719.5,566.8 720.3,567.6 721.2,568.4 722.0,569.3 722.7,570.3 723.4,571.3 724.0,572.3 724.6,573.4 725.0,574.4 725.3,575.5 725.5,576.5 725.6,577.5 725.6,578.4 725.4,579.2 725.1,580.0 724.7,580.7" fill="none" stroke="#a8a8a8" stroke-width="2.9" stroke-linecap="round"/>
<path d="M706.0,576.0 706.2,575.9 706.5,575.8 707.0,575.9 707.5,576.1 708.1,576.4 708.8,576.8 709.6,577.3" fill="none" stroke="#6a6a6a" stroke-width="4.3" stroke-linecap="round"/>
<path d="M706.0,576.0 706.2,575.9 706.5,575.8 707.0,575.9 707.5,576.1 708.1,576.4 708.8,576.8 709.6,577.3" fill="none" stroke="#a8a8a8" stroke-width="2.9" stroke-linecap="round"/>
<path d="M729.6,558.3 728.5,557.8 727.5,557.3 726.5,556.8 725.6,556.2 724.8,555.6 724.1,555.1 723.5,554.6 723.1,554.1 722.8,553.6 722.6,553.2 722.5,552.9 722.6,552.7" fill="none" stroke="#555" stroke-width="7.0" stroke-linecap="butt"/>
<path d="M729.6,558.3 728.5,557.8 727.5,557.3 726.5,556.8 725.6,556.2 724.8,555.6 724.1,555.1 723.5,554.6 723.1,554.1 722.8,553.6 722.6,553.2 722.5,552.9 722.6,552.7" fill="none" stroke="#cfcfcf" stroke-width="5.4" stroke-linecap="butt"/>
<path d="M729.6,558.3 728.5,557.8 727.5,557.3 726.5,556.8 725.6,556.2 724.8,555.6 724.1,555.1 723.5,554.6 723.1,554.1 722.8,553.6 722.6,553.2 722.5,552.9 722.6,552.7" fill="none" stroke="#f4f4f4" stroke-width="1.9" stroke-linecap="butt"/>
<path d="M733.0,569.0 732.5,569.6 731.8,570.2 731.0,570.6 730.2,570.9 729.2,571.1 728.1,571.2 727.0,571.2 725.9,571.2 724.7,571.0 723.5,570.7 722.4,570.3 721.2,569.9 720.1,569.5 719.1,568.9 718.1,568.4 717.2,567.8 716.4,567.3 715.7,566.7 715.2,566.2 714.7,565.7 714.4,565.2 714.2,564.9 714.2,564.6 714.3,564.3" fill="none" stroke="#555" stroke-width="7.0" stroke-linecap="butt"/>
<path d="M733.0,569.0 732.5,569.6 731.8,570.2 731.0,570.6 730.2,570.9 729.2,571.1 728.1,571.2 727.0,571.2 725.9,571.2 724.7,571.0 723.5,570.7 722.4,570.3 721.2,569.9 720.1,569.5 719.1,568.9 718.1,568.4 717.2,567.8 716.4,567.3 715.7,566.7 715.2,566.2 714.7,565.7 714.4,565.2 714.2,564.9 714.2,564.6 714.3,564.3" fill="none" stroke="#cfcfcf" stroke-width="5.4" stroke-linecap="butt"/>
<path d="M733.0,569.0 732.5,569.6 731.8,570.2 731.0,570.6 730.2,570.9 729.2,571.1 728.1,571.2 727.0,571.2 725.9,571.2 724.7,571.0 723.5,570.7 722.4,570.3 721.2,569.9 720.1,569.5 719.1,568.9 718.1,568.4 717.2,567.8 716.4,567.3 715.7,566.7 715.2,566.2 714.7,565.7 714.4,565.2 714.2,564.9 714.2,564.6 714.3,564.3" fill="none" stroke="#f4f4f4" stroke-width="1.9" stroke-linecap="butt"/>
<path d="M724.7,580.7 724.1,581.4 723.4,581.9 722.6,582.3 721.7,582.6 720.8,582.8 719.7,582.9 718.6,582.9 717.5,582.8 716.3,582.6 715.1,582.3 713.9,582.0 712.8,581.6 711.7,581.1 710.6,580.6 709.7,580.0 708.8,579.4 708.0,578.9 707.3,578.3 706.8,577.8 706.4,577.3 706.1,576.9 705.9,576.5 705.9,576.2 706.0,576.0" fill="none" stroke="#555" stroke-width="7.0" stroke-linecap="butt"/>
<path d="M724.7,580.7 724.1,581.4 723.4,581.9 722.6,582.3 721.7,582.6 720.8,582.8 719.7,582.9 718.6,582.9 717.5,582.8 716.3,582.6 715.1,582.3 713.9,582.0 712.8,581.6 711.7,581.1 710.6,580.6 709.7,580.0 708.8,579.4 708.0,578.9 707.3,578.3 706.8,577.8 706.4,577.3 706.1,576.9 705.9,576.5 705.9,576.2 706.0,576.0" fill="none" stroke="#cfcfcf" stroke-width="5.4" stroke-linecap="butt"/>
<path d="M724.7,580.7 724.1,581.4 723.4,581.9 722.6,582.3 721.7,582.6 720.8,582.8 719.7,582.9 718.6,582.9 717.5,582.8 716.3,582.6 715.1,582.3 713.9,582.0 712.8,581.6 711.7,581.1 710.6,580.6 709.7,580.0 708.8,579.4 708.0,578.9 707.3,578.3 706.8,577.8 706.4,577.3 706.1,576.9 705.9,576.5 705.9,576.2 706.0,576.0" fill="none" stroke="#f4f4f4" stroke-width="1.9" stroke-linecap="butt"/>
<rect x="873.5" y="536" width="6" height="6" fill="#f2dc1e" stroke="#8f8200" stroke-width="0.6" transform="rotate(40 876.5 539)"/>
<path d="M622.1,750.2 622.8,750.8 623.5,751.4 624.2,751.9 625.0,752.5 625.7,753.1 626.5,753.7 627.3,754.3 628.1,754.9 629.0,755.5 629.8,756.1 630.7,756.7 631.6,757.3 632.5,757.8 633.4,758.4 634.3,758.9 635.2,759.5 636.2,760.0 637.1,760.5 638.1,761.0 639.1,761.5 640.0,761.9 641.0,762.4 642.0,762.8 643.0,763.2 644.0,763.6 645.0,763.9 646.0,764.3 647.0,764.5 648.0,764.8 649.0,765.1 650.0,765.3 650.9,765.4 651.9,765.6 652.9,765.7 653.9,765.8 654.9,765.8 655.9,765.8 656.8,765.7 657.8,765.7 658.7,765.5 659.7,765.4 660.6,765.2 661.5,764.9 662.4,764.6 663.4,764.3 664.3,764.0 665.1,763.6 666.0,763.2 666.9,762.8 667.7,762.3 668.6,761.8 669.4,761.3 670.3,760.7 671.1,760.2 671.9,759.5 672.7,758.9 673.4,758.3 674.2,757.6 675.0,756.9 675.7,756.2 676.4,755.5 677.2,754.7 677.9,754.0 678.5,753.2 679.2,752.4 679.9,751.6 680.5,750.7 681.2,749.9 681.8,749.1 682.4,748.2 683.0,747.3 683.5,746.5 684.1,745.6 684.6,744.7 685.2,743.8 685.7,742.9 686.2,742.0 686.7,741.1 687.1,740.2 687.6,739.3 688.1,738.4 688.5,737.4 688.9,736.5 689.4,735.6 689.8,734.6 690.2,733.7 690.7,732.8 691.1,731.8 691.5,730.9 692.0,729.9 692.4,728.9 692.8,728.0 693.3,727.0 693.7,726.0 694.2,725.1 694.7,724.1 695.2,723.1 695.7,722.1 696.2,721.2 696.7,720.2 697.3,719.3 697.8,718.4 698.4,717.5 699.0,716.7 699.6,715.9 700.2,715.2 700.9,714.6 701.5,714.0 702.2,713.5 702.9,713.0 703.6,712.7 704.4,712.5 705.1,712.3 705.9,712.3 706.7,712.3 707.5,712.4 708.4,712.6 709.2,712.9 710.0,713.3 710.9,713.7 711.7,714.2 712.5,714.7 713.4,715.3 714.2,715.9 715.0,716.6 715.8,717.3 716.5,718.0 717.3,718.7 718.0,719.4 718.7,720.2 719.4,721.0 720.0,721.7 720.7,722.6 721.3,723.4 721.9,724.2 722.5,725.1 723.1,725.9 723.7,726.8 724.2,727.7 724.8,728.6 725.3,729.5 725.9,730.4 726.4,731.3 726.9,732.3 727.4,733.2 727.9,734.1 728.4,735.1 728.9,736.0 729.4,737.0 729.9,737.9 730.4,738.9 730.9,739.8 731.4,740.8 731.8,741.7 732.3,742.7 732.8,743.6 733.3,744.5 733.8,745.5 734.3,746.4 734.8,747.3 735.3,748.2 735.8,749.1 736.4,750.0 736.9,750.9 737.4,751.7 738.0,752.6 738.5,753.4 739.1,754.3 739.7,755.1 740.3,755.9 740.9,756.7 741.5,757.4 742.2,758.2 742.8,758.9 743.5,759.6 744.2,760.3 744.9,760.9 745.6,761.6 746.4,762.2" fill="none" stroke="#8f8200" stroke-width="7.0" stroke-linecap="butt" stroke-linejoin="round"/>
<path d="M622.1,750.2 622.8,750.8 623.5,751.4 624.2,751.9 625.0,752.5 625.7,753.1 626.5,753.7 627.3,754.3 628.1,754.9 629.0,755.5 629.8,756.1 630.7,756.7 631.6,757.3 632.5,757.8 633.4,758.4 634.3,758.9 635.2,759.5 636.2,760.0 637.1,760.5 638.1,761.0 639.1,761.5 640.0,761.9 641.0,762.4 642.0,762.8 643.0,763.2 644.0,763.6 645.0,763.9 646.0,764.3 647.0,764.5 648.0,764.8 649.0,765.1 650.0,765.3 650.9,765.4 651.9,765.6 652.9,765.7 653.9,765.8 654.9,765.8 655.9,765.8 656.8,765.7 657.8,765.7 658.7,765.5 659.7,765.4 660.6,765.2 661.5,764.9 662.4,764.6 663.4,764.3 664.3,764.0 665.1,763.6 666.0,763.2 666.9,762.8 667.7,762.3 668.6,761.8 669.4,761.3 670.3,760.7 671.1,760.2 671.9,759.5 672.7,758.9 673.4,758.3 674.2,757.6 675.0,756.9 675.7,756.2 676.4,755.5 677.2,754.7 677.9,754.0 678.5,753.2 679.2,752.4 679.9,751.6 680.5,750.7 681.2,749.9 681.8,749.1 682.4,748.2 683.0,747.3 683.5,746.5 684.1,745.6 684.6,744.7 685.2,743.8 685.7,742.9 686.2,742.0 686.7,741.1 687.1,740.2 687.6,739.3 688.1,738.4 688.5,737.4 688.9,736.5 689.4,735.6 689.8,734.6 690.2,733.7 690.7,732.8 691.1,731.8 691.5,730.9 692.0,729.9 692.4,728.9 692.8,728.0 693.3,727.0 693.7,726.0 694.2,725.1 694.7,724.1 695.2,723.1 695.7,722.1 696.2,721.2 696.7,720.2 697.3,719.3 697.8,718.4 698.4,717.5 699.0,716.7 699.6,715.9 700.2,715.2 700.9,714.6 701.5,714.0 702.2,713.5 702.9,713.0 703.6,712.7 704.4,712.5 705.1,712.3 705.9,712.3 706.7,712.3 707.5,712.4 708.4,712.6 709.2,712.9 710.0,713.3 710.9,713.7 711.7,714.2 712.5,714.7 713.4,715.3 714.2,715.9 715.0,716.6 715.8,717.3 716.5,718.0 717.3,718.7 718.0,719.4 718.7,720.2 719.4,721.0 720.0,721.7 720.7,722.6 721.3,723.4 721.9,724.2 722.5,725.1 723.1,725.9 723.7,726.8 724.2,727.7 724.8,728.6 725.3,729.5 725.9,730.4 726.4,731.3 726.9,732.3 727.4,733.2 727.9,734.1 728.4,735.1 728.9,736.0 729.4,737.0 729.9,737.9 730.4,738.9 730.9,739.8 731.4,740.8 731.8,741.7 732.3,742.7 732.8,743.6 733.3,744.5 733.8,745.5 734.3,746.4 734.8,747.3 735.3,748.2 735.8,749.1 736.4,750.0 736.9,750.9 737.4,751.7 738.0,752.6 738.5,753.4 739.1,754.3 739.7,755.1 740.3,755.9 740.9,756.7 741.5,757.4 742.2,758.2 742.8,758.9 743.5,759.6 744.2,760.3 744.9,760.9 745.6,761.6 746.4,762.2" fill="none" stroke="#f2dc1e" stroke-width="5.8" stroke-linecap="butt" stroke-linejoin="round"/>
<path d="M632.1,744.2 632.8,744.0 633.5,743.7 634.2,743.4 634.9,742.9 635.6,742.4 636.2,741.9 636.9,741.2 637.5,740.6 638.2,739.8 638.8,739.0 639.4,738.2 640.0,737.3 640.6,736.4 641.2,735.5 641.8,734.5 642.4,733.5 643.0,732.5 643.6,731.5 644.2,730.4 644.7,729.4 645.3,728.4 645.9,727.3 646.5,726.3 647.1,725.2 647.8,724.2 648.4,723.2 649.0,722.2 649.6,721.3 650.3,720.4 650.9,719.5 651.6,718.6 652.3,717.8 653.0,717.1 653.7,716.4 654.4,715.7 655.1,715.1 655.9,714.6 656.6,714.2 657.4,713.8 658.1,713.5 658.9,713.4 659.7,713.3 660.4,713.3 661.2,713.5 662.0,713.7 662.7,714.0 663.5,714.4 664.3,714.9 665.0,715.5 665.8,716.1 666.5,716.8 667.2,717.5 667.9,718.3 668.6,719.1 669.3,719.9 670.0,720.8 670.7,721.7 671.3,722.5 671.9,723.4 672.5,724.3 673.1,725.2 673.7,726.1 674.2,727.0 674.8,727.9 675.3,728.7 675.8,729.6 676.3,730.5 676.8,731.3 677.3,732.2 677.8,733.1 678.3,733.9 678.7,734.8 679.2,735.6 679.7,736.5 680.2,737.3 680.7,738.2 681.2,739.0 681.7,739.9 682.2,740.8 682.7,741.6 683.2,742.5 683.8,743.3 684.4,744.2 684.9,745.1 685.5,745.9 686.1,746.8 686.8,747.6 687.4,748.5 688.1,749.4 688.7,750.2 689.4,751.0 690.1,751.9 690.8,752.7 691.6,753.5 692.3,754.3 693.1,755.0 693.8,755.8 694.6,756.5 695.4,757.2 696.2,757.9 697.0,758.5 697.8,759.2 698.6,759.8 699.5,760.4 700.3,760.9 701.2,761.4 702.0,761.9 702.9,762.3 703.8,762.7 704.7,763.1 705.6,763.4 706.5,763.7 707.4,764.0 708.3,764.2 709.2,764.3 710.1,764.4 711.1,764.5 712.0,764.5 712.9,764.4 713.9,764.3 714.8,764.2 715.8,764.0 716.7,763.8 717.7,763.5 718.6,763.2 719.6,762.8 720.5,762.5 721.5,762.0 722.4,761.6 723.3,761.1 724.2,760.6 725.1,760.1 726.0,759.6 726.9,759.0 727.8,758.5 728.7,757.9 729.5,757.3 730.4,756.7 731.2,756.1 732.0,755.5 732.8,754.8 733.6,754.2 734.4,753.5 735.2,752.9 736.0,752.2 736.7,751.5 737.5,750.9 738.2,750.2 739.0,749.5 739.7,748.8 740.4,748.1 741.1,747.3 741.8,746.6 742.5,745.9 743.2,745.2 743.9,744.4 744.6,743.7 745.3,743.0 746.0,742.2 746.7,741.5 747.3,740.7 748.0,740.0 748.7,739.2 749.3,738.4 750.0,737.7 750.7,736.9 751.3,736.2 752.0,735.4 752.6,734.7 753.3,733.9 754.0,733.1 754.6,732.4 755.3,731.6 756.0,730.9 756.6,730.1 757.3,729.4 758.0,728.6 758.7,727.9 759.4,727.2 760.0,726.4 760.7,725.7 761.4,725.0 762.1,724.3 762.8,723.6 763.6,722.9 764.3,722.2 765.0,721.5 765.8,720.8 766.5,720.1" fill="none" stroke="#8f8200" stroke-width="7.0" stroke-linecap="butt" stroke-linejoin="round"/>
<path d="M632.1,744.2 632.8,744.0 633.5,743.7 634.2,743.4 634.9,742.9 635.6,742.4 636.2,741.9 636.9,741.2 637.5,740.6 638.2,739.8 638.8,739.0 639.4,738.2 640.0,737.3 640.6,736.4 641.2,735.5 641.8,734.5 642.4,733.5 643.0,732.5 643.6,731.5 644.2,730.4 644.7,729.4 645.3,728.4 645.9,727.3 646.5,726.3 647.1,725.2 647.8,724.2 648.4,723.2 649.0,722.2 649.6,721.3 650.3,720.4 650.9,719.5 651.6,718.6 652.3,717.8 653.0,717.1 653.7,716.4 654.4,715.7 655.1,715.1 655.9,714.6 656.6,714.2 657.4,713.8 658.1,713.5 658.9,713.4 659.7,713.3 660.4,713.3 661.2,713.5 662.0,713.7 662.7,714.0 663.5,714.4 664.3,714.9 665.0,715.5 665.8,716.1 666.5,716.8 667.2,717.5 667.9,718.3 668.6,719.1 669.3,719.9 670.0,720.8 670.7,721.7 671.3,722.5 671.9,723.4 672.5,724.3 673.1,725.2 673.7,726.1 674.2,727.0 674.8,727.9 675.3,728.7 675.8,729.6 676.3,730.5 676.8,731.3 677.3,732.2 677.8,733.1 678.3,733.9 678.7,734.8 679.2,735.6 679.7,736.5 680.2,737.3 680.7,738.2 681.2,739.0 681.7,739.9 682.2,740.8 682.7,741.6 683.2,742.5 683.8,743.3 684.4,744.2 684.9,745.1 685.5,745.9 686.1,746.8 686.8,747.6 687.4,748.5 688.1,749.4 688.7,750.2 689.4,751.0 690.1,751.9 690.8,752.7 691.6,753.5 692.3,754.3 693.1,755.0 693.8,755.8 694.6,756.5 695.4,757.2 696.2,757.9 697.0,758.5 697.8,759.2 698.6,759.8 699.5,760.4 700.3,760.9 701.2,761.4 702.0,761.9 702.9,762.3 703.8,762.7 704.7,763.1 705.6,763.4 706.5,763.7 707.4,764.0 708.3,764.2 709.2,764.3 710.1,764.4 711.1,764.5 712.0,764.5 712.9,764.4 713.9,764.3 714.8,764.2 715.8,764.0 716.7,763.8 717.7,763.5 718.6,763.2 719.6,762.8 720.5,762.5 721.5,762.0 722.4,761.6 723.3,761.1 724.2,760.6 725.1,760.1 726.0,759.6 726.9,759.0 727.8,758.5 728.7,757.9 729.5,757.3 730.4,756.7 731.2,756.1 732.0,755.5 732.8,754.8 733.6,754.2 734.4,753.5 735.2,752.9 736.0,752.2 736.7,751.5 737.5,750.9 738.2,750.2 739.0,749.5 739.7,748.8 740.4,748.1 741.1,747.3 741.8,746.6 742.5,745.9 743.2,745.2 743.9,744.4 744.6,743.7 745.3,743.0 746.0,742.2 746.7,741.5 747.3,740.7 748.0,740.0 748.7,739.2 749.3,738.4 750.0,737.7 750.7,736.9 751.3,736.2 752.0,735.4 752.6,734.7 753.3,733.9 754.0,733.1 754.6,732.4 755.3,731.6 756.0,730.9 756.6,730.1 757.3,729.4 758.0,728.6 758.7,727.9 759.4,727.2 760.0,726.4 760.7,725.7 761.4,725.0 762.1,724.3 762.8,723.6 763.6,722.9 764.3,722.2 765.0,721.5 765.8,720.8 766.5,720.1" fill="none" stroke="#f2dc1e" stroke-width="5.8" stroke-linecap="butt" stroke-linejoin="round"/>
<path d="M661.2,831.4 661.0,830.3 660.9,829.3 660.9,828.2 660.9,827.2 660.9,826.2 661.1,825.2 661.2,824.2 661.4,823.2 661.7,822.3 662.0,821.4 662.4,820.4 662.8,819.5 663.2,818.7 663.7,817.8 664.2,816.9 664.7,816.1 665.3,815.3 665.9,814.5 666.6,813.7 667.2,813.0 667.9,812.2 668.7,811.5 669.4,810.8 670.2,810.1 671.0,809.4 671.8,808.8 672.6,808.1 673.4,807.5 674.3,806.9 675.1,806.4 676.0,805.8 676.9,805.3 677.8,804.8 678.7,804.3 679.6,803.8 680.5,803.4 681.4,802.9 682.3,802.5 683.2,802.2 684.1,801.8 685.0,801.5 685.9,801.1 686.8,800.8 687.8,800.6 688.7,800.3 689.7,800.0 690.7,799.8 691.7,799.6 692.8,799.4 693.8,799.2 694.9,799.1 696.0,798.9 697.1,798.8 698.2,798.8 699.2,798.8 700.3,798.8 701.3,799.0 702.2,799.2 703.1,799.6 703.9,800.0 704.6,800.6 705.2,801.3 705.7,802.0 706.2,802.9 706.7,803.8 707.1,804.7 707.6,805.6 708.0,806.5 708.5,807.4 709.1,808.2 709.6,808.9 710.3,809.6 710.9,810.2 711.6,810.9 712.4,811.5 713.1,812.1 713.9,812.7 714.7,813.3 715.5,813.9 716.3,814.6 717.1,815.2 717.9,816.0 718.7,816.8 719.5,817.6 720.3,818.5 721.1,819.5 721.9,820.6 722.6,821.6 723.3,822.7 724.0,823.8 724.7,824.8 725.3,825.7 726.0,826.5 726.6,827.2 727.1,827.7 727.7,828.1 728.2,828.2 728.6,828.1 729.1,827.8 729.5,827.2 729.9,826.5 730.2,825.6 730.6,824.6 731.0,823.6 731.4,822.4 731.8,821.3 732.2,820.2 732.7,819.1 733.2,818.1 733.8,817.1 734.3,816.2 734.9,815.3 735.4,814.4 736.0,813.5 736.5,812.6 737.1,811.8 737.6,811.0 738.2,810.1 738.7,809.3 739.2,808.5 739.6,807.6 740.0,806.8 740.4,805.9 740.7,805.0 741.0,804.1 741.2,803.2 741.3,802.2 741.4,801.3 741.5,800.2 741.5,799.2 741.5,798.2 741.5,797.3 741.7,796.4 741.9,795.6 742.2,794.9 742.6,794.3 743.2,793.8 743.9,793.4 744.7,793.1 745.6,792.8 746.5,792.6 747.5,792.4 748.5,792.2 749.6,792.0 750.6,791.7 751.6,791.4 752.6,791.1 753.6,790.6 754.4,790.0 755.3,789.4 756.1,788.8 756.8,788.2 757.6,787.7 758.4,787.2 759.2,786.9 760.0,786.8 760.9,786.8 761.7,786.9 762.6,787.1 763.4,787.5 764.2,787.9 764.9,788.4 765.6,789.0 766.3,789.6 766.9,790.3 767.5,791.1 768.1,791.9 768.7,792.7 769.3,793.6 769.9,794.5 770.5,795.4 771.1,796.3 771.8,797.2 772.6,798.2 773.4,799.1 774.2,800.0 775.1,800.8 776.1,801.7 777.1,802.5 778.1,803.2 779.2,803.9 780.2,804.5 781.1,804.9 782.0,805.3 782.8,805.5 783.5,805.5 784.1,805.4 784.5,805.1 784.8,804.6 784.9,803.9 784.9,803.1 784.8,802.2 784.6,801.1 784.4,800.0 784.2,798.8 784.0,797.6 783.9,796.4 783.8,795.2 783.8,794.1 783.8,792.9 784.0,791.9 784.3,790.8 784.6,789.9 785.0,788.9 785.5,788.0 786.0,787.2 786.6,786.3 787.3,785.6 787.9,784.8 788.7,784.1 789.4,783.5 790.2,782.8 791.0,782.2 791.8,781.6 792.6,781.1 793.5,780.5 794.4,780.0 795.2,779.4 796.1,778.9 796.9,778.4 797.8,777.8 798.6,777.3 799.5,776.7 800.3,776.1 801.1,775.5 801.9,774.9 802.6,774.2 803.4,773.6 804.1,772.9 804.9,772.2 805.6,771.5 806.3,770.8 807.0,770.0 807.6,769.3 808.3,768.5 809.0,767.8 809.6,767.0 810.3,766.2 810.9,765.4 811.5,764.6 812.2,763.8 812.8,763.0 813.4,762.2 814.1,761.4 814.7,760.6 815.3,759.8 815.9,759.0 816.6,758.2 817.2,757.4 817.8,756.6 818.5,755.8 819.1,755.0 819.8,754.3 820.5,753.5 821.1,752.7 821.8,752.0 822.5,751.3 823.2,750.6 823.9,749.9 824.7,749.2 825.4,748.5 826.2,747.8 827.0,747.2 827.8,746.6 828.6,746.0 829.4,745.4 830.2,744.8 831.1,744.3 832.0,743.8" fill="none" stroke="#707070" stroke-width="3.5" stroke-linecap="round" stroke-linejoin="round"/>
<path d="M661.2,831.4 661.0,830.3 660.9,829.3 660.9,828.2 660.9,827.2 660.9,826.2 661.1,825.2 661.2,824.2 661.4,823.2 661.7,822.3 662.0,821.4 662.4,820.4 662.8,819.5 663.2,818.7 663.7,817.8 664.2,816.9 664.7,816.1 665.3,815.3 665.9,814.5 666.6,813.7 667.2,813.0 667.9,812.2 668.7,811.5 669.4,810.8 670.2,810.1 671.0,809.4 671.8,808.8 672.6,808.1 673.4,807.5 674.3,806.9 675.1,806.4 676.0,805.8 676.9,805.3 677.8,804.8 678.7,804.3 679.6,803.8 680.5,803.4 681.4,802.9 682.3,802.5 683.2,802.2 684.1,801.8 685.0,801.5 685.9,801.1 686.8,800.8 687.8,800.6 688.7,800.3 689.7,800.0 690.7,799.8 691.7,799.6 692.8,799.4 693.8,799.2 694.9,799.1 696.0,798.9 697.1,798.8 698.2,798.8 699.2,798.8 700.3,798.8 701.3,799.0 702.2,799.2 703.1,799.6 703.9,800.0 704.6,800.6 705.2,801.3 705.7,802.0 706.2,802.9 706.7,803.8 707.1,804.7 707.6,805.6 708.0,806.5 708.5,807.4 709.1,808.2 709.6,808.9 710.3,809.6 710.9,810.2 711.6,810.9 712.4,811.5 713.1,812.1 713.9,812.7 714.7,813.3 715.5,813.9 716.3,814.6 717.1,815.2 717.9,816.0 718.7,816.8 719.5,817.6 720.3,818.5 721.1,819.5 721.9,820.6 722.6,821.6 723.3,822.7 724.0,823.8 724.7,824.8 725.3,825.7 726.0,826.5 726.6,827.2 727.1,827.7 727.7,828.1 728.2,828.2 728.6,828.1 729.1,827.8 729.5,827.2 729.9,826.5 730.2,825.6 730.6,824.6 731.0,823.6 731.4,822.4 731.8,821.3 732.2,820.2 732.7,819.1 733.2,818.1 733.8,817.1 734.3,816.2 734.9,815.3 735.4,814.4 736.0,813.5 736.5,812.6 737.1,811.8 737.6,811.0 738.2,810.1 738.7,809.3 739.2,808.5 739.6,807.6 740.0,806.8 740.4,805.9 740.7,805.0 741.0,804.1 741.2,803.2 741.3,802.2 741.4,801.3 741.5,800.2 741.5,799.2 741.5,798.2 741.5,797.3 741.7,796.4 741.9,795.6 742.2,794.9 742.6,794.3 743.2,793.8 743.9,793.4 744.7,793.1 745.6,792.8 746.5,792.6 747.5,792.4 748.5,792.2 749.6,792.0 750.6,791.7 751.6,791.4 752.6,791.1 753.6,790.6 754.4,790.0 755.3,789.4 756.1,788.8 756.8,788.2 757.6,787.7 758.4,787.2 759.2,786.9 760.0,786.8 760.9,786.8 761.7,786.9 762.6,787.1 763.4,787.5 764.2,787.9 764.9,788.4 765.6,789.0 766.3,789.6 766.9,790.3 767.5,791.1 768.1,791.9 768.7,792.7 769.3,793.6 769.9,794.5 770.5,795.4 771.1,796.3 771.8,797.2 772.6,798.2 773.4,799.1 774.2,800.0 775.1,800.8 776.1,801.7 777.1,802.5 778.1,803.2 779.2,803.9 780.2,804.5 781.1,804.9 782.0,805.3 782.8,805.5 783.5,805.5 784.1,805.4 784.5,805.1 784.8,804.6 784.9,803.9 784.9,803.1 784.8,802.2 784.6,801.1 784.4,800.0 784.2,798.8 784.0,797.6 783.9,796.4 783.8,795.2 783.8,794.1 783.8,792.9 784.0,791.9 784.3,790.8 784.6,789.9 785.0,788.9 785.5,788.0 786.0,787.2 786.6,786.3 787.3,785.6 787.9,784.8 788.7,784.1 789.4,783.5 790.2,782.8 791.0,782.2 791.8,781.6 792.6,781.1 793.5,780.5 794.4,780.0 795.2,779.4 796.1,778.9 796.9,778.4 797.8,777.8 798.6,777.3 799.5,776.7 800.3,776.1 801.1,775.5 801.9,774.9 802.6,774.2 803.4,773.6 804.1,772.9 804.9,772.2 805.6,771.5 806.3,770.8 807.0,770.0 807.6,769.3 808.3,768.5 809.0,767.8 809.6,767.0 810.3,766.2 810.9,765.4 811.5,764.6 812.2,763.8 812.8,763.0 813.4,762.2 814.1,761.4 814.7,760.6 815.3,759.8 815.9,759.0 816.6,758.2 817.2,757.4 817.8,756.6 818.5,755.8 819.1,755.0 819.8,754.3 820.5,753.5 821.1,752.7 821.8,752.0 822.5,751.3 823.2,750.6 823.9,749.9 824.7,749.2 825.4,748.5 826.2,747.8 827.0,747.2 827.8,746.6 828.6,746.0 829.4,745.4 830.2,744.8 831.1,744.3 832.0,743.8" fill="none" stroke="#dadada" stroke-width="1.7" stroke-linecap="round" stroke-linejoin="round"/>
<path d="M841.4,730.3 841.9,729.1 842.4,728.0 843.0,727.0 843.6,726.2 844.2,725.4 844.9,724.8 845.7,724.3 846.4,723.9 847.2,723.6 848.1,723.4 848.9,723.2 849.8,723.2 850.7,723.1 851.6,723.2 852.6,723.3 853.5,723.5 854.5,723.7 855.5,724.0 856.5,724.2 857.5,724.5 858.6,724.9 859.6,725.2 860.6,725.6 861.6,726.0 862.7,726.3 863.7,726.7 864.7,727.1 865.7,727.5 866.8,727.8 867.8,728.2 868.8,728.6 869.8,729.0 870.8,729.3 871.9,729.7 872.9,730.0 873.9,730.4 874.9,730.7 875.8,731.0 876.8,731.3 877.8,731.5 878.8,731.8 879.7,732.0 880.7,732.2 881.6,732.4 882.6,732.6 883.5,732.7 884.4,732.8" fill="none" stroke="#707070" stroke-width="3.5" stroke-linecap="round" stroke-linejoin="round"/>
<path d="M841.4,730.3 841.9,729.1 842.4,728.0 843.0,727.0 843.6,726.2 844.2,725.4 844.9,724.8 845.7,724.3 846.4,723.9 847.2,723.6 848.1,723.4 848.9,723.2 849.8,723.2 850.7,723.1 851.6,723.2 852.6,723.3 853.5,723.5 854.5,723.7 855.5,724.0 856.5,724.2 857.5,724.5 858.6,724.9 859.6,725.2 860.6,725.6 861.6,726.0 862.7,726.3 863.7,726.7 864.7,727.1 865.7,727.5 866.8,727.8 867.8,728.2 868.8,728.6 869.8,729.0 870.8,729.3 871.9,729.7 872.9,730.0 873.9,730.4 874.9,730.7 875.8,731.0 876.8,731.3 877.8,731.5 878.8,731.8 879.7,732.0 880.7,732.2 881.6,732.4 882.6,732.6 883.5,732.7 884.4,732.8" fill="none" stroke="#dadada" stroke-width="1.7" stroke-linecap="round" stroke-linejoin="round"/>
<circle cx="892.0" cy="734.3" r="7.2" fill="none" stroke="#707070" stroke-width="3.4"/>
<circle cx="892.0" cy="734.3" r="7.2" fill="none" stroke="#dadada" stroke-width="1.6"/>
<path d="M899.0,733.0 899.9,732.2 900.9,731.6 901.9,731.0 902.9,730.7 903.9,730.4 905.0,730.3 906.0,730.2 907.0,730.3 908.0,730.5 909.0,730.8 910.0,731.2 910.9,731.6 911.8,732.2 912.7,732.8 913.5,733.5 914.3,734.2 915.0,735.0 915.7,735.9 916.3,736.8 916.8,737.7 917.2,738.7 917.6,739.7 917.9,740.8 918.1,741.8 918.1,742.9 918.1,743.9 918.0,745.0" fill="none" stroke="#707070" stroke-width="3.5" stroke-linecap="round" stroke-linejoin="round"/>
<path d="M899.0,733.0 899.9,732.2 900.9,731.6 901.9,731.0 902.9,730.7 903.9,730.4 905.0,730.3 906.0,730.2 907.0,730.3 908.0,730.5 909.0,730.8 910.0,731.2 910.9,731.6 911.8,732.2 912.7,732.8 913.5,733.5 914.3,734.2 915.0,735.0 915.7,735.9 916.3,736.8 916.8,737.7 917.2,738.7 917.6,739.7 917.9,740.8 918.1,741.8 918.1,742.9 918.1,743.9 918.0,745.0" fill="none" stroke="#dadada" stroke-width="1.7" stroke-linecap="round" stroke-linejoin="round"/>
<path d="M912.4,732.3 911.5,733.0 910.7,733.7 910.0,734.5 909.4,735.3 908.8,736.1 908.3,736.9 907.8,737.8 907.4,738.7 907.1,739.6 906.7,740.5 906.4,741.5 906.1,742.4 905.9,743.4 905.6,744.4 905.4,745.3 905.2,746.3 904.9,747.3 904.7,748.3 904.4,749.3 904.1,750.2 903.9,751.2 903.6,752.2 903.3,753.2 903.0,754.1 902.7,755.1 902.4,756.1 902.1,757.1 901.8,758.1 901.5,759.2 901.2,760.2 900.9,761.2 900.6,762.3 900.3,763.4 900.0,764.5 899.8,765.6 899.6,766.6 899.4,767.7 899.3,768.8 899.2,769.8 899.3,770.7 899.4,771.7 899.5,772.6 899.8,773.4 900.2,774.1 900.6,774.8 901.2,775.5 901.8,776.0 902.5,776.5 903.3,776.9 904.1,777.2 905.0,777.4 905.9,777.6 906.9,777.6 907.9,777.6 908.9,777.6 910.0,777.6 911.1,777.5 912.2,777.4 913.3,777.2 914.4,777.1 915.5,777.1 916.6,777.0 917.6,776.9 918.7,776.9 919.7,776.8 920.8,776.7 921.8,776.6 922.8,776.5 923.8,776.3 924.7,776.1 925.6,775.9 926.6,775.6 927.4,775.3 928.3,774.9 929.1,774.5 929.9,773.9 930.7,773.3 931.5,772.7" fill="none" stroke="#707070" stroke-width="3.5" stroke-linecap="round" stroke-linejoin="round"/>
<path d="M912.4,732.3 911.5,733.0 910.7,733.7 910.0,734.5 909.4,735.3 908.8,736.1 908.3,736.9 907.8,737.8 907.4,738.7 907.1,739.6 906.7,740.5 906.4,741.5 906.1,742.4 905.9,743.4 905.6,744.4 905.4,745.3 905.2,746.3 904.9,747.3 904.7,748.3 904.4,749.3 904.1,750.2 903.9,751.2 903.6,752.2 903.3,753.2 903.0,754.1 902.7,755.1 902.4,756.1 902.1,757.1 901.8,758.1 901.5,759.2 901.2,760.2 900.9,761.2 900.6,762.3 900.3,763.4 900.0,764.5 899.8,765.6 899.6,766.6 899.4,767.7 899.3,768.8 899.2,769.8 899.3,770.7 899.4,771.7 899.5,772.6 899.8,773.4 900.2,774.1 900.6,774.8 901.2,775.5 901.8,776.0 902.5,776.5 903.3,776.9 904.1,777.2 905.0,777.4 905.9,777.6 906.9,777.6 907.9,777.6 908.9,777.6 910.0,777.6 911.1,777.5 912.2,777.4 913.3,777.2 914.4,777.1 915.5,777.1 916.6,777.0 917.6,776.9 918.7,776.9 919.7,776.8 920.8,776.7 921.8,776.6 922.8,776.5 923.8,776.3 924.7,776.1 925.6,775.9 926.6,775.6 927.4,775.3 928.3,774.9 929.1,774.5 929.9,773.9 930.7,773.3 931.5,772.7" fill="none" stroke="#dadada" stroke-width="1.7" stroke-linecap="round" stroke-linejoin="round"/>
<path d="M913.4,772.5 914.0,770.7 914.7,769.3 915.2,768.4 915.8,768.0 916.3,768.1 916.8,768.6 917.2,769.6 917.6,771.1 918.0,773.0" fill="none" stroke="#707070" stroke-width="3.0" stroke-linecap="round" stroke-linejoin="round"/>
<path d="M913.4,772.5 914.0,770.7 914.7,769.3 915.2,768.4 915.8,768.0 916.3,768.1 916.8,768.6 917.2,769.6 917.6,771.1 918.0,773.0" fill="none" stroke="#dadada" stroke-width="1.2" stroke-linecap="round" stroke-linejoin="round"/>
<path d="M931.5,772.5 930.4,773.9 929.6,775.2 929.1,776.5 928.8,777.6 928.8,778.6 928.9,779.6 929.3,780.5 929.8,781.2 930.4,781.9 931.2,782.5 932.1,783.1 933.1,783.5 934.2,783.9 935.3,784.2 936.5,784.4 937.7,784.6 938.9,784.7 940.0,784.7 941.2,784.7 942.2,784.6 943.2,784.4 944.1,784.1 944.9,783.9 945.6,783.5 946.1,783.1 946.4,782.6 946.5,782.1 946.5,781.5 946.2,780.9 945.6,780.3 944.8,779.5 943.8,778.8 942.4,778.0 940.7,777.1 938.6,776.3 936.2,775.4 933.4,774.4" fill="none" stroke="#707070" stroke-width="3.0" stroke-linecap="round" stroke-linejoin="round"/>
<path d="M931.5,772.5 930.4,773.9 929.6,775.2 929.1,776.5 928.8,777.6 928.8,778.6 928.9,779.6 929.3,780.5 929.8,781.2 930.4,781.9 931.2,782.5 932.1,783.1 933.1,783.5 934.2,783.9 935.3,784.2 936.5,784.4 937.7,784.6 938.9,784.7 940.0,784.7 941.2,784.7 942.2,784.6 943.2,784.4 944.1,784.1 944.9,783.9 945.6,783.5 946.1,783.1 946.4,782.6 946.5,782.1 946.5,781.5 946.2,780.9 945.6,780.3 944.8,779.5 943.8,778.8 942.4,778.0 940.7,777.1 938.6,776.3 936.2,775.4 933.4,774.4" fill="none" stroke="#dadada" stroke-width="1.2" stroke-linecap="round" stroke-linejoin="round"/>
<path d="M922.0,722.9 922.6,721.7 923.4,720.7 924.3,720.0 925.2,719.5 926.2,719.2 927.2,719.0 928.3,718.9 929.4,718.9 930.5,719.0 931.6,719.2 932.8,719.4 933.9,719.7 935.0,719.9 936.1,720.1 937.1,720.2 938.0,720.2 938.9,720.2 939.7,720.0 940.4,719.7 941.1,719.2 941.6,718.5 942.1,717.7 942.5,716.9 942.9,716.0 943.3,715.0 943.7,714.0 944.2,713.1 944.8,712.3 945.5,711.6 946.2,710.9 947.1,710.4 948.0,710.0 949.0,709.7 950.1,709.5 951.1,709.4 952.2,709.3 953.3,709.3 954.3,709.4 955.4,709.6 956.4,709.8 957.5,710.1 958.5,710.5 959.5,710.9 960.4,711.3 961.4,711.9 962.3,712.4 963.2,713.0 964.0,713.7 964.8,714.4 965.6,715.1 966.3,715.9 966.9,716.6 967.6,717.5 968.1,718.3 968.6,719.2 969.1,720.1 969.4,721.0 969.8,721.9 970.0,722.8 970.2,723.8 970.3,724.7 970.3,725.7 970.3,726.6 970.1,727.6 969.9,728.5 969.6,729.5 969.2,730.4 968.7,731.3 968.1,732.2 967.5,733.1 966.7,733.9 965.8,734.8 964.8,735.6 963.7,736.3" fill="none" stroke="#707070" stroke-width="3.5" stroke-linecap="round" stroke-linejoin="round"/>
<path d="M922.0,722.9 922.6,721.7 923.4,720.7 924.3,720.0 925.2,719.5 926.2,719.2 927.2,719.0 928.3,718.9 929.4,718.9 930.5,719.0 931.6,719.2 932.8,719.4 933.9,719.7 935.0,719.9 936.1,720.1 937.1,720.2 938.0,720.2 938.9,720.2 939.7,720.0 940.4,719.7 941.1,719.2 941.6,718.5 942.1,717.7 942.5,716.9 942.9,716.0 943.3,715.0 943.7,714.0 944.2,713.1 944.8,712.3 945.5,711.6 946.2,710.9 947.1,710.4 948.0,710.0 949.0,709.7 950.1,709.5 951.1,709.4 952.2,709.3 953.3,709.3 954.3,709.4 955.4,709.6 956.4,709.8 957.5,710.1 958.5,710.5 959.5,710.9 960.4,711.3 961.4,711.9 962.3,712.4 963.2,713.0 964.0,713.7 964.8,714.4 965.6,715.1 966.3,715.9 966.9,716.6 967.6,717.5 968.1,718.3 968.6,719.2 969.1,720.1 969.4,721.0 969.8,721.9 970.0,722.8 970.2,723.8 970.3,724.7 970.3,725.7 970.3,726.6 970.1,727.6 969.9,728.5 969.6,729.5 969.2,730.4 968.7,731.3 968.1,732.2 967.5,733.1 966.7,733.9 965.8,734.8 964.8,735.6 963.7,736.3" fill="none" stroke="#dadada" stroke-width="1.7" stroke-linecap="round" stroke-linejoin="round"/>
<path d="M942.0,719.0 942.7,719.7 943.5,720.4 944.3,721.0 945.1,721.5 946.0,722.1 946.9,722.6 947.8,723.1 948.8,723.6 949.7,724.1 950.6,724.6 951.5,725.1 952.4,725.7 953.2,726.3 954.0,726.9 954.7,727.7 955.4,728.4 956.1,729.3 956.6,730.2 957.1,731.1 957.6,732.1 958.0,733.0 958.4,734.0 958.9,734.8 959.4,735.6 959.9,736.3 960.6,736.8 961.3,737.2 962.1,737.4 963.0,737.4 963.9,737.3 964.9,737.2 965.9,737.0 966.9,736.8 967.8,736.8 968.6,736.8 969.3,737.0 969.9,737.4 970.4,738.0 970.7,738.8 970.9,739.6 970.9,740.6 970.9,741.6 970.7,742.7 970.4,743.9 970.0,745.0 969.5,746.1 968.9,747.1 968.2,748.0 967.5,748.9 966.6,749.7 965.7,750.3 964.7,750.9 963.7,751.3 962.7,751.6 961.6,751.8 960.6,751.8 959.6,751.7 958.6,751.4 957.6,751.0 956.7,750.4 955.8,749.7 955.1,748.8 954.4,747.7" fill="none" stroke="#707070" stroke-width="3.5" stroke-linecap="round" stroke-linejoin="round"/>
<path d="M942.0,719.0 942.7,719.7 943.5,720.4 944.3,721.0 945.1,721.5 946.0,722.1 946.9,722.6 947.8,723.1 948.8,723.6 949.7,724.1 950.6,724.6 951.5,725.1 952.4,725.7 953.2,726.3 954.0,726.9 954.7,727.7 955.4,728.4 956.1,729.3 956.6,730.2 957.1,731.1 957.6,732.1 958.0,733.0 958.4,734.0 958.9,734.8 959.4,735.6 959.9,736.3 960.6,736.8 961.3,737.2 962.1,737.4 963.0,737.4 963.9,737.3 964.9,737.2 965.9,737.0 966.9,736.8 967.8,736.8 968.6,736.8 969.3,737.0 969.9,737.4 970.4,738.0 970.7,738.8 970.9,739.6 970.9,740.6 970.9,741.6 970.7,742.7 970.4,743.9 970.0,745.0 969.5,746.1 968.9,747.1 968.2,748.0 967.5,748.9 966.6,749.7 965.7,750.3 964.7,750.9 963.7,751.3 962.7,751.6 961.6,751.8 960.6,751.8 959.6,751.7 958.6,751.4 957.6,751.0 956.7,750.4 955.8,749.7 955.1,748.8 954.4,747.7" fill="none" stroke="#dadada" stroke-width="1.7" stroke-linecap="round" stroke-linejoin="round"/>
<path d="M925.8,732.4 927.6,731.1 929.3,729.9 930.9,728.8 932.4,727.9 933.8,727.2 935.0,726.5 936.2,726.1 937.3,725.7 938.2,725.5 939.1,725.4 939.9,725.5 940.5,725.7 941.1,726.1 941.5,726.5 941.9,727.2 942.1,727.9 942.2,728.8 942.3,729.9 942.2,731.1 942.0,732.4" fill="none" stroke="#707070" stroke-width="3.0" stroke-linecap="round" stroke-linejoin="round"/>
<path d="M925.8,732.4 927.6,731.1 929.3,729.9 930.9,728.8 932.4,727.9 933.8,727.2 935.0,726.5 936.2,726.1 937.3,725.7 938.2,725.5 939.1,725.4 939.9,725.5 940.5,725.7 941.1,726.1 941.5,726.5 941.9,727.2 942.1,727.9 942.2,728.8 942.3,729.9 942.2,731.1 942.0,732.4" fill="none" stroke="#dadada" stroke-width="1.2" stroke-linecap="round" stroke-linejoin="round"/>
<path d="M908.6,738.0 908.3,739.0 908.2,740.0 908.1,741.0 908.0,742.1 908.1,743.1 908.2,744.2 908.3,745.3 908.6,746.4 908.8,747.5 909.2,748.6 909.6,749.6 910.1,750.6 910.6,751.6 911.2,752.6 911.8,753.5 912.5,754.3 913.3,755.1 914.1,755.8 914.9,756.4 915.8,757.0 916.7,757.4 917.7,757.8 918.7,758.1 919.8,758.2 920.9,758.3 922.0,758.2" fill="none" stroke="#707070" stroke-width="3.0" stroke-linecap="round" stroke-linejoin="round"/>
<path d="M908.6,738.0 908.3,739.0 908.2,740.0 908.1,741.0 908.0,742.1 908.1,743.1 908.2,744.2 908.3,745.3 908.6,746.4 908.8,747.5 909.2,748.6 909.6,749.6 910.1,750.6 910.6,751.6 911.2,752.6 911.8,753.5 912.5,754.3 913.3,755.1 914.1,755.8 914.9,756.4 915.8,757.0 916.7,757.4 917.7,757.8 918.7,758.1 919.8,758.2 920.9,758.3 922.0,758.2" fill="none" stroke="#dadada" stroke-width="1.2" stroke-linecap="round" stroke-linejoin="round"/>
<path d="M910.9,712.0 910.4,709.4 910.0,707.4 909.8,705.9 909.7,705.0 909.8,704.6 909.9,704.5 910.2,704.8 910.5,705.3 911.0,706.1 911.5,707.0 912.1,708.1 912.7,709.2 913.3,710.2 914.0,711.3 914.7,712.1 915.3,712.8 916.0,713.3 916.7,713.5 917.3,713.3 917.9,712.9 918.5,712.3 919.1,711.5 919.7,710.5 920.3,709.5 920.9,708.4 921.6,707.3 922.3,706.3 923.1,705.4 923.9,704.6" fill="none" stroke="#707070" stroke-width="3.0" stroke-linecap="round" stroke-linejoin="round"/>
<path d="M910.9,712.0 910.4,709.4 910.0,707.4 909.8,705.9 909.7,705.0 909.8,704.6 909.9,704.5 910.2,704.8 910.5,705.3 911.0,706.1 911.5,707.0 912.1,708.1 912.7,709.2 913.3,710.2 914.0,711.3 914.7,712.1 915.3,712.8 916.0,713.3 916.7,713.5 917.3,713.3 917.9,712.9 918.5,712.3 919.1,711.5 919.7,710.5 920.3,709.5 920.9,708.4 921.6,707.3 922.3,706.3 923.1,705.4 923.9,704.6" fill="none" stroke="#dadada" stroke-width="1.2" stroke-linecap="round" stroke-linejoin="round"/>
<path d="M944.8,720.0 945.0,721.1 945.3,722.1 945.5,723.1 945.8,724.1 946.2,725.1 946.5,726.1 946.9,727.1 947.4,728.0 947.8,729.0 948.3,729.9 948.7,730.8 949.3,731.7 949.8,732.6 950.3,733.5 950.9,734.4 951.4,735.3 952.0,736.1 952.6,737.0 953.1,737.9 953.7,738.7 954.3,739.6 954.9,740.4 955.5,741.3 956.1,742.2 956.7,743.0 957.3,743.9 957.8,744.8 958.4,745.6 959.0,746.5 959.5,747.4 960.0,748.3 960.6,749.2 961.1,750.1 961.5,751.1 962.0,752.0" fill="none" stroke="#707070" stroke-width="3.0" stroke-linecap="round" stroke-linejoin="round"/>
<path d="M944.8,720.0 945.0,721.1 945.3,722.1 945.5,723.1 945.8,724.1 946.2,725.1 946.5,726.1 946.9,727.1 947.4,728.0 947.8,729.0 948.3,729.9 948.7,730.8 949.3,731.7 949.8,732.6 950.3,733.5 950.9,734.4 951.4,735.3 952.0,736.1 952.6,737.0 953.1,737.9 953.7,738.7 954.3,739.6 954.9,740.4 955.5,741.3 956.1,742.2 956.7,743.0 957.3,743.9 957.8,744.8 958.4,745.6 959.0,746.5 959.5,747.4 960.0,748.3 960.6,749.2 961.1,750.1 961.5,751.1 962.0,752.0" fill="none" stroke="#dadada" stroke-width="1.2" stroke-linecap="round" stroke-linejoin="round"/>
<path d="M829.9,742.4 829.9,742.1 830.1,741.7 830.5,741.3 831.0,740.9 831.7,740.4 832.5,740.0 833.5,739.6 834.6,739.3 835.8,738.9 837.1,738.7 838.4,738.5 839.8,738.3 841.2,738.3 842.7,738.3 844.0,738.4 845.4,738.6 846.7,738.9 847.8,739.3 848.9,739.8 849.9,740.4 850.7,741.1 851.3,741.8 851.8,742.6 852.2,743.5" fill="none" stroke="#6a6a6a" stroke-width="4.3" stroke-linecap="round"/>
<path d="M829.9,742.4 829.9,742.1 830.1,741.7 830.5,741.3 831.0,740.9 831.7,740.4 832.5,740.0 833.5,739.6 834.6,739.3 835.8,738.9 837.1,738.7 838.4,738.5 839.8,738.3 841.2,738.3 842.7,738.3 844.0,738.4 845.4,738.6 846.7,738.9 847.8,739.3 848.9,739.8 849.9,740.4 850.7,741.1 851.3,741.8 851.8,742.6 852.2,743.5" fill="none" stroke="#a8a8a8" stroke-width="2.9" stroke-linecap="round"/>
<path d="M834.0,756.1 834.0,755.7 834.2,755.4 834.6,755.0 835.2,754.5 835.9,754.1 836.8,753.7 837.8,753.3 838.9,753.0 840.1,752.6 841.4,752.4 842.8,752.2 844.2,752.1 845.6,752.0 847.0,752.1 848.4,752.2 849.7,752.4 851.0,752.8 852.1,753.2 853.2,753.7 854.1,754.3 854.9,754.9 855.5,755.7 856.0,756.5 856.3,757.4" fill="none" stroke="#6a6a6a" stroke-width="4.3" stroke-linecap="round"/>
<path d="M834.0,756.1 834.0,755.7 834.2,755.4 834.6,755.0 835.2,754.5 835.9,754.1 836.8,753.7 837.8,753.3 838.9,753.0 840.1,752.6 841.4,752.4 842.8,752.2 844.2,752.1 845.6,752.0 847.0,752.1 848.4,752.2 849.7,752.4 851.0,752.8 852.1,753.2 853.2,753.7 854.1,754.3 854.9,754.9 855.5,755.7 856.0,756.5 856.3,757.4" fill="none" stroke="#a8a8a8" stroke-width="2.9" stroke-linecap="round"/>
<path d="M838.0,769.8 838.1,769.4 838.4,769.0 838.8,768.6 839.4,768.2 840.1,767.8 841.0,767.4 842.0,767.0 843.2,766.6 844.4,766.3 845.7,766.1 847.1,765.9 848.5,765.8 849.9,765.8 851.3,765.8 852.7,766.0 854.0,766.2 855.2,766.6 856.4,767.0 857.4,767.5 858.3,768.1 859.1,768.8 859.7,769.6 860.1,770.4 860.4,771.3" fill="none" stroke="#6a6a6a" stroke-width="4.3" stroke-linecap="round"/>
<path d="M838.0,769.8 838.1,769.4 838.4,769.0 838.8,768.6 839.4,768.2 840.1,767.8 841.0,767.4 842.0,767.0 843.2,766.6 844.4,766.3 845.7,766.1 847.1,765.9 848.5,765.8 849.9,765.8 851.3,765.8 852.7,766.0 854.0,766.2 855.2,766.6 856.4,767.0 857.4,767.5 858.3,768.1 859.1,768.8 859.7,769.6 860.1,770.4 860.4,771.3" fill="none" stroke="#a8a8a8" stroke-width="2.9" stroke-linecap="round"/>
<path d="M840.3,740.5 839.1,741.2 837.8,741.7 836.6,742.2 835.4,742.6 834.3,742.8 833.3,743.0 832.4,743.1 831.6,743.1 831.0,743.1 830.4,742.9 830.1,742.7 829.9,742.4" fill="none" stroke="#555" stroke-width="7.0" stroke-linecap="butt"/>
<path d="M840.3,740.5 839.1,741.2 837.8,741.7 836.6,742.2 835.4,742.6 834.3,742.8 833.3,743.0 832.4,743.1 831.6,743.1 831.0,743.1 830.4,742.9 830.1,742.7 829.9,742.4" fill="none" stroke="#cfcfcf" stroke-width="5.4" stroke-linecap="butt"/>
<path d="M840.3,740.5 839.1,741.2 837.8,741.7 836.6,742.2 835.4,742.6 834.3,742.8 833.3,743.0 832.4,743.1 831.6,743.1 831.0,743.1 830.4,742.9 830.1,742.7 829.9,742.4" fill="none" stroke="#f4f4f4" stroke-width="1.9" stroke-linecap="butt"/>
<path d="M852.2,743.5 852.3,744.4 852.3,745.3 852.1,746.3 851.7,747.3 851.2,748.3 850.5,749.3 849.7,750.3 848.7,751.2 847.7,752.1 846.6,752.9 845.4,753.7 844.2,754.4 842.9,755.0 841.7,755.6 840.5,756.0 839.3,756.4 838.2,756.6 837.2,756.8 836.3,756.9 835.5,756.9 834.9,756.8 834.4,756.6 834.1,756.4 834.0,756.1" fill="none" stroke="#555" stroke-width="7.0" stroke-linecap="butt"/>
<path d="M852.2,743.5 852.3,744.4 852.3,745.3 852.1,746.3 851.7,747.3 851.2,748.3 850.5,749.3 849.7,750.3 848.7,751.2 847.7,752.1 846.6,752.9 845.4,753.7 844.2,754.4 842.9,755.0 841.7,755.6 840.5,756.0 839.3,756.4 838.2,756.6 837.2,756.8 836.3,756.9 835.5,756.9 834.9,756.8 834.4,756.6 834.1,756.4 834.0,756.1" fill="none" stroke="#cfcfcf" stroke-width="5.4" stroke-linecap="butt"/>
<path d="M852.2,743.5 852.3,744.4 852.3,745.3 852.1,746.3 851.7,747.3 851.2,748.3 850.5,749.3 849.7,750.3 848.7,751.2 847.7,752.1 846.6,752.9 845.4,753.7 844.2,754.4 842.9,755.0 841.7,755.6 840.5,756.0 839.3,756.4 838.2,756.6 837.2,756.8 836.3,756.9 835.5,756.9 834.9,756.8 834.4,756.6 834.1,756.4 834.0,756.1" fill="none" stroke="#f4f4f4" stroke-width="1.9" stroke-linecap="butt"/>
<path d="M856.3,757.4 856.4,758.3 856.3,759.3 856.1,760.2 855.7,761.2 855.1,762.2 854.4,763.2 853.6,764.2 852.6,765.1 851.6,766.0 850.4,766.8 849.2,767.6 848.0,768.3 846.7,768.9 845.5,769.4 844.3,769.8 843.1,770.2 842.1,770.4 841.1,770.6 840.2,770.6 839.5,770.6 838.9,770.5 838.4,770.3 838.2,770.1 838.0,769.8" fill="none" stroke="#555" stroke-width="7.0" stroke-linecap="butt"/>
<path d="M856.3,757.4 856.4,758.3 856.3,759.3 856.1,760.2 855.7,761.2 855.1,762.2 854.4,763.2 853.6,764.2 852.6,765.1 851.6,766.0 850.4,766.8 849.2,767.6 848.0,768.3 846.7,768.9 845.5,769.4 844.3,769.8 843.1,770.2 842.1,770.4 841.1,770.6 840.2,770.6 839.5,770.6 838.9,770.5 838.4,770.3 838.2,770.1 838.0,769.8" fill="none" stroke="#cfcfcf" stroke-width="5.4" stroke-linecap="butt"/>
<path d="M856.3,757.4 856.4,758.3 856.3,759.3 856.1,760.2 855.7,761.2 855.1,762.2 854.4,763.2 853.6,764.2 852.6,765.1 851.6,766.0 850.4,766.8 849.2,767.6 848.0,768.3 846.7,768.9 845.5,769.4 844.3,769.8 843.1,770.2 842.1,770.4 841.1,770.6 840.2,770.6 839.5,770.6 838.9,770.5 838.4,770.3 838.2,770.1 838.0,769.8" fill="none" stroke="#f4f4f4" stroke-width="1.9" stroke-linecap="butt"/>
<path d="M860.4,771.3 860.4,772.2 860.3,773.2 860.1,774.2 859.7,775.2 859.1,776.2 858.3,777.2 857.5,778.1 856.5,779.0 855.4,779.9 854.3,780.7 853.1,781.5 851.8,782.2 850.6,782.7 849.3,783.2 848.1,783.7 847.0,784.0 845.9,784.2 845.0,784.3 844.1,784.4 843.4,784.3 842.8,784.2" fill="none" stroke="#555" stroke-width="7.0" stroke-linecap="butt"/>
<path d="M860.4,771.3 860.4,772.2 860.3,773.2 860.1,774.2 859.7,775.2 859.1,776.2 858.3,777.2 857.5,778.1 856.5,779.0 855.4,779.9 854.3,780.7 853.1,781.5 851.8,782.2 850.6,782.7 849.3,783.2 848.1,783.7 847.0,784.0 845.9,784.2 845.0,784.3 844.1,784.4 843.4,784.3 842.8,784.2" fill="none" stroke="#cfcfcf" stroke-width="5.4" stroke-linecap="butt"/>
<path d="M860.4,771.3 860.4,772.2 860.3,773.2 860.1,774.2 859.7,775.2 859.1,776.2 858.3,777.2 857.5,778.1 856.5,779.0 855.4,779.9 854.3,780.7 853.1,781.5 851.8,782.2 850.6,782.7 849.3,783.2 848.1,783.7 847.0,784.0 845.9,784.2 845.0,784.3 844.1,784.4 843.4,784.3 842.8,784.2" fill="none" stroke="#f4f4f4" stroke-width="1.9" stroke-linecap="butt"/>
<path d="M910.5,733.6 910.3,733.4 910.1,733.1 909.9,732.8 909.8,732.3 909.6,731.7 909.5,731.0 909.4,730.2 909.4,729.4 909.4,728.5 909.4,727.6 909.5,726.7 909.7,725.8 909.9,724.8 910.2,723.9 910.5,723.1 910.9,722.3 911.3,721.5 911.8,720.8 912.3,720.3 912.8,719.8 913.4,719.4 914.0,719.2 914.7,719.0 915.3,719.0" fill="none" stroke="#6a6a6a" stroke-width="3.7" stroke-linecap="round"/>
<path d="M910.5,733.6 910.3,733.4 910.1,733.1 909.9,732.8 909.8,732.3 909.6,731.7 909.5,731.0 909.4,730.2 909.4,729.4 909.4,728.5 909.4,727.6 909.5,726.7 909.7,725.8 909.9,724.8 910.2,723.9 910.5,723.1 910.9,722.3 911.3,721.5 911.8,720.8 912.3,720.3 912.8,719.8 913.4,719.4 914.0,719.2 914.7,719.0 915.3,719.0" fill="none" stroke="#a8a8a8" stroke-width="2.3" stroke-linecap="round"/>
<path d="M921.8,732.2 921.6,732.1 921.4,731.8 921.3,731.4 921.1,730.9 920.9,730.3 920.8,729.7 920.8,728.9 920.7,728.1 920.7,727.2 920.8,726.3 920.9,725.4" fill="none" stroke="#6a6a6a" stroke-width="3.7" stroke-linecap="round"/>
<path d="M921.8,732.2 921.6,732.1 921.4,731.8 921.3,731.4 921.1,730.9 920.9,730.3 920.8,729.7 920.8,728.9 920.7,728.1 920.7,727.2 920.8,726.3 920.9,725.4" fill="none" stroke="#a8a8a8" stroke-width="2.3" stroke-linecap="round"/>
<path d="M910.1,726.6 910.4,727.5 910.7,728.4 910.9,729.2 911.1,730.0 911.2,730.8 911.2,731.5 911.2,732.1 911.2,732.6 911.1,733.0 911.0,733.3 910.8,733.5 910.7,733.6 910.5,733.6" fill="none" stroke="#555" stroke-width="6.0" stroke-linecap="butt"/>
<path d="M910.1,726.6 910.4,727.5 910.7,728.4 910.9,729.2 911.1,730.0 911.2,730.8 911.2,731.5 911.2,732.1 911.2,732.6 911.1,733.0 911.0,733.3 910.8,733.5 910.7,733.6 910.5,733.6" fill="none" stroke="#cfcfcf" stroke-width="4.4" stroke-linecap="butt"/>
<path d="M910.1,726.6 910.4,727.5 910.7,728.4 910.9,729.2 911.1,730.0 911.2,730.8 911.2,731.5 911.2,732.1 911.2,732.6 911.1,733.0 911.0,733.3 910.8,733.5 910.7,733.6 910.5,733.6" fill="none" stroke="#f4f4f4" stroke-width="1.5" stroke-linecap="butt"/>
<path d="M915.3,719.0 916.0,719.1 916.6,719.4 917.3,719.7 917.9,720.1 918.6,720.7 919.1,721.3 919.7,722.0 920.2,722.7 920.7,723.6 921.1,724.4 921.5,725.3 921.8,726.2 922.0,727.1 922.2,727.9 922.4,728.7 922.5,729.5 922.5,730.2 922.5,730.8 922.5,731.3 922.4,731.7 922.3,732.0 922.1,732.2 922.0,732.3 921.8,732.2" fill="none" stroke="#555" stroke-width="6.0" stroke-linecap="butt"/>
<path d="M915.3,719.0 916.0,719.1 916.6,719.4 917.3,719.7 917.9,720.1 918.6,720.7 919.1,721.3 919.7,722.0 920.2,722.7 920.7,723.6 921.1,724.4 921.5,725.3 921.8,726.2 922.0,727.1 922.2,727.9 922.4,728.7 922.5,729.5 922.5,730.2 922.5,730.8 922.5,731.3 922.4,731.7 922.3,732.0 922.1,732.2 922.0,732.3 921.8,732.2" fill="none" stroke="#cfcfcf" stroke-width="4.4" stroke-linecap="butt"/>
<path d="M915.3,719.0 916.0,719.1 916.6,719.4 917.3,719.7 917.9,720.1 918.6,720.7 919.1,721.3 919.7,722.0 920.2,722.7 920.7,723.6 921.1,724.4 921.5,725.3 921.8,726.2 922.0,727.1 922.2,727.9 922.4,728.7 922.5,729.5 922.5,730.2 922.5,730.8 922.5,731.3 922.4,731.7 922.3,732.0 922.1,732.2 922.0,732.3 921.8,732.2" fill="none" stroke="#f4f4f4" stroke-width="1.5" stroke-linecap="butt"/>
<path d="M912.9,744.6 912.9,744.5 913.0,744.3 913.1,744.0 913.3,743.7 913.7,743.3 914.1,742.8 914.6,742.3 915.2,741.8 915.8,741.3 916.6,740.8 917.4,740.3 918.2,739.8 919.1,739.3 920.0,739.0 920.9,738.6 921.8,738.4 922.7,738.2 923.6,738.1 924.5,738.1 925.3,738.2 926.1,738.4 926.8,738.6 927.4,739.0 928.0,739.5" fill="none" stroke="#6a6a6a" stroke-width="4.0" stroke-linecap="round"/>
<path d="M912.9,744.6 912.9,744.5 913.0,744.3 913.1,744.0 913.3,743.7 913.7,743.3 914.1,742.8 914.6,742.3 915.2,741.8 915.8,741.3 916.6,740.8 917.4,740.3 918.2,739.8 919.1,739.3 920.0,739.0 920.9,738.6 921.8,738.4 922.7,738.2 923.6,738.1 924.5,738.1 925.3,738.2 926.1,738.4 926.8,738.6 927.4,739.0 928.0,739.5" fill="none" stroke="#a8a8a8" stroke-width="2.6" stroke-linecap="round"/>
<path d="M923.7,754.6 923.7,754.4 923.8,754.2" fill="none" stroke="#6a6a6a" stroke-width="4.0" stroke-linecap="round"/>
<path d="M923.7,754.6 923.7,754.4 923.8,754.2" fill="none" stroke="#a8a8a8" stroke-width="2.6" stroke-linecap="round"/>
<path d="M917.3,739.1 916.9,740.0 916.4,740.8 916.0,741.6 915.5,742.3 915.0,742.9 914.6,743.4 914.2,743.9 913.8,744.2 913.5,744.4 913.2,744.6 913.0,744.7 912.9,744.6" fill="none" stroke="#555" stroke-width="6.5" stroke-linecap="butt"/>
<path d="M917.3,739.1 916.9,740.0 916.4,740.8 916.0,741.6 915.5,742.3 915.0,742.9 914.6,743.4 914.2,743.9 913.8,744.2 913.5,744.4 913.2,744.6 913.0,744.7 912.9,744.6" fill="none" stroke="#cfcfcf" stroke-width="4.9" stroke-linecap="butt"/>
<path d="M917.3,739.1 916.9,740.0 916.4,740.8 916.0,741.6 915.5,742.3 915.0,742.9 914.6,743.4 914.2,743.9 913.8,744.2 913.5,744.4 913.2,744.6 913.0,744.7 912.9,744.6" fill="none" stroke="#f4f4f4" stroke-width="1.7" stroke-linecap="butt"/>
<path d="M928.0,739.5 928.4,740.0 928.8,740.7 929.1,741.4 929.3,742.2 929.4,743.0 929.4,743.9 929.4,744.8 929.2,745.7 929.0,746.7 928.7,747.6 928.3,748.5 928.0,749.4 927.5,750.3 927.1,751.1 926.6,751.8 926.1,752.5 925.7,753.1 925.2,753.6 924.8,754.0 924.5,754.3 924.2,754.5 923.9,754.6 923.8,754.7 923.7,754.6" fill="none" stroke="#555" stroke-width="6.5" stroke-linecap="butt"/>
<path d="M928.0,739.5 928.4,740.0 928.8,740.7 929.1,741.4 929.3,742.2 929.4,743.0 929.4,743.9 929.4,744.8 929.2,745.7 929.0,746.7 928.7,747.6 928.3,748.5 928.0,749.4 927.5,750.3 927.1,751.1 926.6,751.8 926.1,752.5 925.7,753.1 925.2,753.6 924.8,754.0 924.5,754.3 924.2,754.5 923.9,754.6 923.8,754.7 923.7,754.6" fill="none" stroke="#cfcfcf" stroke-width="4.9" stroke-linecap="butt"/>
<path d="M928.0,739.5 928.4,740.0 928.8,740.7 929.1,741.4 929.3,742.2 929.4,743.0 929.4,743.9 929.4,744.8 929.2,745.7 929.0,746.7 928.7,747.6 928.3,748.5 928.0,749.4 927.5,750.3 927.1,751.1 926.6,751.8 926.1,752.5 925.7,753.1 925.2,753.6 924.8,754.0 924.5,754.3 924.2,754.5 923.9,754.6 923.8,754.7 923.7,754.6" fill="none" stroke="#f4f4f4" stroke-width="1.7" stroke-linecap="butt"/>
<path d="M927.9,769.8 927.7,769.8 927.4,769.7 927.1,769.4 926.7,769.0 926.3,768.4 925.9,767.8 925.5,767.0 925.1,766.1 924.8,765.1 924.4,764.0 924.2,762.8 923.9,761.7 923.8,760.4 923.7,759.2 923.7,758.0 923.8,756.8 923.9,755.7 924.2,754.6 924.5,753.6 924.9,752.7 925.4,752.0 926.0,751.3 926.7,750.8 927.4,750.4" fill="none" stroke="#6a6a6a" stroke-width="4.3" stroke-linecap="round"/>
<path d="M927.9,769.8 927.7,769.8 927.4,769.7 927.1,769.4 926.7,769.0 926.3,768.4 925.9,767.8 925.5,767.0 925.1,766.1 924.8,765.1 924.4,764.0 924.2,762.8 923.9,761.7 923.8,760.4 923.7,759.2 923.7,758.0 923.8,756.8 923.9,755.7 924.2,754.6 924.5,753.6 924.9,752.7 925.4,752.0 926.0,751.3 926.7,750.8 927.4,750.4" fill="none" stroke="#a8a8a8" stroke-width="2.9" stroke-linecap="round"/>
<path d="M941.3,764.0 941.0,764.0 940.7,763.8 940.4,763.5 940.0,763.1 939.6,762.6 939.2,761.9 938.8,761.1 938.4,760.2 938.1,759.1 937.8,758.1 937.5,756.9 937.3,755.7 937.1,754.5 937.0,753.3 937.0,752.1 937.1,750.9 937.3,749.8 937.5,748.7 937.9,747.7 938.3,746.8 938.8,746.1 939.4,745.4 940.1,744.9 940.8,744.5" fill="none" stroke="#6a6a6a" stroke-width="4.3" stroke-linecap="round"/>
<path d="M941.3,764.0 941.0,764.0 940.7,763.8 940.4,763.5 940.0,763.1 939.6,762.6 939.2,761.9 938.8,761.1 938.4,760.2 938.1,759.1 937.8,758.1 937.5,756.9 937.3,755.7 937.1,754.5 937.0,753.3 937.0,752.1 937.1,750.9 937.3,749.8 937.5,748.7 937.9,747.7 938.3,746.8 938.8,746.1 939.4,745.4 940.1,744.9 940.8,744.5" fill="none" stroke="#a8a8a8" stroke-width="2.9" stroke-linecap="round"/>
<path d="M954.6,758.1 954.3,758.1 954.0,758.0 953.7,757.7 953.3,757.2 952.9,756.7 952.5,756.0 952.1,755.2" fill="none" stroke="#6a6a6a" stroke-width="4.3" stroke-linecap="round"/>
<path d="M954.6,758.1 954.3,758.1 954.0,758.0 953.7,757.7 953.3,757.2 952.9,756.7 952.5,756.0 952.1,755.2" fill="none" stroke="#a8a8a8" stroke-width="2.9" stroke-linecap="round"/>
<path d="M924.7,761.4 925.4,762.3 926.1,763.3 926.6,764.3 927.1,765.2 927.5,766.1 927.8,767.0 928.1,767.7 928.2,768.4 928.3,768.9 928.2,769.3 928.1,769.6 927.9,769.8" fill="none" stroke="#555" stroke-width="7.0" stroke-linecap="butt"/>
<path d="M924.7,761.4 925.4,762.3 926.1,763.3 926.6,764.3 927.1,765.2 927.5,766.1 927.8,767.0 928.1,767.7 928.2,768.4 928.3,768.9 928.2,769.3 928.1,769.6 927.9,769.8" fill="none" stroke="#cfcfcf" stroke-width="5.4" stroke-linecap="butt"/>
<path d="M924.7,761.4 925.4,762.3 926.1,763.3 926.6,764.3 927.1,765.2 927.5,766.1 927.8,767.0 928.1,767.7 928.2,768.4 928.3,768.9 928.2,769.3 928.1,769.6 927.9,769.8" fill="none" stroke="#f4f4f4" stroke-width="1.9" stroke-linecap="butt"/>
<path d="M927.4,750.4 928.2,750.1 929.1,750.0 930.0,750.0 930.9,750.2 931.9,750.5 932.8,751.0 933.8,751.5 934.7,752.2 935.6,752.9 936.5,753.8 937.3,754.7 938.1,755.6 938.8,756.6 939.5,757.6 940.0,758.5 940.5,759.5 940.9,760.4 941.2,761.2 941.4,761.9 941.5,762.6 941.6,763.1 941.5,763.5 941.4,763.8 941.3,764.0" fill="none" stroke="#555" stroke-width="7.0" stroke-linecap="butt"/>
<path d="M927.4,750.4 928.2,750.1 929.1,750.0 930.0,750.0 930.9,750.2 931.9,750.5 932.8,751.0 933.8,751.5 934.7,752.2 935.6,752.9 936.5,753.8 937.3,754.7 938.1,755.6 938.8,756.6 939.5,757.6 940.0,758.5 940.5,759.5 940.9,760.4 941.2,761.2 941.4,761.9 941.5,762.6 941.6,763.1 941.5,763.5 941.4,763.8 941.3,764.0" fill="none" stroke="#cfcfcf" stroke-width="5.4" stroke-linecap="butt"/>
<path d="M927.4,750.4 928.2,750.1 929.1,750.0 930.0,750.0 930.9,750.2 931.9,750.5 932.8,751.0 933.8,751.5 934.7,752.2 935.6,752.9 936.5,753.8 937.3,754.7 938.1,755.6 938.8,756.6 939.5,757.6 940.0,758.5 940.5,759.5 940.9,760.4 941.2,761.2 941.4,761.9 941.5,762.6 941.6,763.1 941.5,763.5 941.4,763.8 941.3,764.0" fill="none" stroke="#f4f4f4" stroke-width="1.9" stroke-linecap="butt"/>
<path d="M940.8,744.5 941.6,744.3 942.5,744.2 943.4,744.2 944.3,744.4 945.3,744.7 946.2,745.2 947.2,745.7 948.1,746.4 949.0,747.2 949.9,748.0 950.7,748.9 951.5,749.9 952.2,750.8 952.8,751.8 953.4,752.8 953.9,753.7 954.3,754.6 954.6,755.4 954.8,756.2 954.9,756.8 954.9,757.3 954.9,757.7 954.8,758.0 954.6,758.1" fill="none" stroke="#555" stroke-width="7.0" stroke-linecap="butt"/>
<path d="M940.8,744.5 941.6,744.3 942.5,744.2 943.4,744.2 944.3,744.4 945.3,744.7 946.2,745.2 947.2,745.7 948.1,746.4 949.0,747.2 949.9,748.0 950.7,748.9 951.5,749.9 952.2,750.8 952.8,751.8 953.4,752.8 953.9,753.7 954.3,754.6 954.6,755.4 954.8,756.2 954.9,756.8 954.9,757.3 954.9,757.7 954.8,758.0 954.6,758.1" fill="none" stroke="#cfcfcf" stroke-width="5.4" stroke-linecap="butt"/>
<path d="M940.8,744.5 941.6,744.3 942.5,744.2 943.4,744.2 944.3,744.4 945.3,744.7 946.2,745.2 947.2,745.7 948.1,746.4 949.0,747.2 949.9,748.0 950.7,748.9 951.5,749.9 952.2,750.8 952.8,751.8 953.4,752.8 953.9,753.7 954.3,754.6 954.6,755.4 954.8,756.2 954.9,756.8 954.9,757.3 954.9,757.7 954.8,758.0 954.6,758.1" fill="none" stroke="#f4f4f4" stroke-width="1.9" stroke-linecap="butt"/>
<path d="M750.7,978.8 750.4,979.7 750.0,980.6 749.5,981.5 749.0,982.4 748.5,983.2 747.9,984.0 747.3,984.7 746.6,985.5 745.9,986.2 745.2,986.9 744.5,987.6 743.7,988.3 742.9,989.0 742.1,989.7 741.3,990.3 740.5,991.0 739.6,991.6 738.8,992.3 738.0,992.9 737.1,993.6 736.3,994.2 735.5,994.9 734.7,995.5 733.9,996.2 733.1,996.9 732.3,997.6 731.6,998.3 730.9,999.0 730.2,999.7 729.6,1000.5 729.0,1001.3 728.4,1002.1 727.9,1002.9 727.4,1003.8 727.0,1004.6 726.5,1005.5 726.2,1006.4 725.8,1007.3 725.4,1008.2 725.0,1009.1 724.5,1010.0 724.1,1010.8 723.5,1011.6 723.0,1012.4 722.3,1013.1 721.6,1013.7 720.9,1014.4 720.0,1015.0 719.2,1015.6 718.3,1016.3 717.4,1016.9 716.4,1017.5 715.5,1018.1 714.5,1018.8 713.5,1019.4 712.5,1020.1 711.5,1020.9 710.6,1021.6 709.7,1022.4 708.9,1023.2 708.2,1023.9 707.7,1024.7 707.3,1025.4 707.1,1026.0 707.2,1026.7 707.4,1027.2 707.9,1027.7 708.7,1028.2 709.5,1028.6 710.5,1029.0 711.6,1029.4 712.6,1029.9 713.7,1030.4 714.7,1030.9 715.6,1031.5 716.4,1032.1 717.1,1032.8 717.8,1033.5 718.4,1034.3 719.0,1035.1 719.5,1036.0 719.9,1036.9 720.4,1037.8 720.7,1038.7 721.1,1039.6 721.4,1040.6 721.7,1041.6 722.0,1042.6 722.3,1043.5 722.6,1044.5 722.8,1045.5 723.1,1046.5 723.4,1047.4 723.7,1048.4 724.1,1049.3 724.5,1050.2 724.9,1051.1 725.3,1051.9 725.8,1052.7 726.3,1053.5 726.9,1054.2 727.6,1054.9 728.2,1055.6 729.0,1056.2 729.8,1056.7 730.6,1057.2 731.4,1057.7 732.3,1058.1 733.2,1058.5 734.2,1058.8 735.1,1059.1 736.1,1059.3 737.1,1059.5 738.2,1059.6 739.2,1059.7 740.2,1059.8 741.3,1059.7 742.3,1059.7 743.4,1059.5 744.4,1059.4 745.5,1059.1 746.5,1058.9 747.5,1058.6 748.5,1058.2 749.5,1057.8 750.4,1057.3 751.4,1056.8 752.3,1056.3 753.1,1055.7 754.0,1055.1 754.7,1054.4 755.5,1053.7 756.2,1053.0 756.9,1052.2 757.5,1051.4 758.1,1050.6 758.7,1049.7 759.3,1048.9 759.9,1048.1 760.4,1047.2 761.0,1046.4 761.6,1045.6 762.2,1044.8 762.8,1044.1 763.5,1043.3 764.2,1042.7 764.9,1042.0 765.7,1041.5 766.5,1041.0 767.4,1040.5 768.2,1040.1 769.2,1039.7 770.1,1039.4 771.1,1039.2 772.1,1038.9 773.1,1038.8 774.2,1038.7 775.2,1038.6 776.3,1038.6 777.4,1038.6 778.5,1038.6 779.6,1038.8 780.6,1038.9 781.7,1039.1 782.8,1039.3 783.9,1039.6 785.0,1039.8 786.0,1040.1 787.1,1040.4 788.1,1040.6 789.1,1040.8 790.1,1040.9 791.1,1041.0 792.1,1041.1 793.1,1041.0 794.0,1040.9 795.0,1040.6 795.9,1040.3 796.7,1039.8 797.6,1039.2 798.4,1038.5 799.2,1037.8 800.0,1036.9 800.8,1036.0 801.5,1035.2 802.2,1034.3 802.9,1033.5 803.5,1032.8 804.2,1032.1 804.8,1031.6 805.4,1031.3 805.9,1031.1 806.4,1031.2 807.0,1031.4 807.4,1031.8 807.9,1032.4 808.4,1033.2 808.9,1034.0 809.4,1034.9 809.8,1035.9 810.3,1036.9 810.9,1038.0 811.4,1039.1 812.0,1040.1 812.6,1041.2 813.2,1042.1 813.9,1043.0 814.6,1043.8 815.4,1044.6 816.1,1045.3 816.9,1046.1 817.6,1046.8 818.4,1047.5 819.1,1048.3 819.8,1049.1 820.4,1049.9 821.0,1050.8 821.6,1051.7 822.1,1052.7 822.5,1053.7 822.8,1054.6 823.0,1055.6 823.2,1056.5 823.2,1057.4 823.2,1058.2 823.0,1058.9 822.7,1059.6 822.3,1060.1 821.7,1060.5 821.0,1060.9 820.2,1061.1 819.3,1061.3 818.4,1061.5 817.3,1061.5 816.2,1061.6 815.1,1061.6 813.9,1061.6 812.8,1061.7 811.6,1061.7 810.4,1061.8 809.3,1062.0 808.2,1062.2 807.2,1062.4 806.2,1062.8 805.2,1063.1 804.3,1063.6 803.4,1064.1 802.6,1064.6 801.8,1065.2 801.0,1065.8 800.2,1066.5 799.5,1067.2 798.8,1067.9 798.1,1068.6 797.4,1069.4 796.7,1070.1 796.0,1070.9 795.4,1071.6 794.7,1072.4 794.0,1073.2 793.3,1073.9 792.6,1074.6 791.9,1075.3 791.1,1076.0 790.3,1076.7 789.5,1077.3 788.7,1077.9 787.9,1078.4 787.0,1078.9 786.1,1079.3 785.1,1079.7 784.1,1080.1 783.0,1080.3" fill="none" stroke="#707070" stroke-width="3.5" stroke-linecap="round" stroke-linejoin="round"/>
<path d="M750.7,978.8 750.4,979.7 750.0,980.6 749.5,981.5 749.0,982.4 748.5,983.2 747.9,984.0 747.3,984.7 746.6,985.5 745.9,986.2 745.2,986.9 744.5,987.6 743.7,988.3 742.9,989.0 742.1,989.7 741.3,990.3 740.5,991.0 739.6,991.6 738.8,992.3 738.0,992.9 737.1,993.6 736.3,994.2 735.5,994.9 734.7,995.5 733.9,996.2 733.1,996.9 732.3,997.6 731.6,998.3 730.9,999.0 730.2,999.7 729.6,1000.5 729.0,1001.3 728.4,1002.1 727.9,1002.9 727.4,1003.8 727.0,1004.6 726.5,1005.5 726.2,1006.4 725.8,1007.3 725.4,1008.2 725.0,1009.1 724.5,1010.0 724.1,1010.8 723.5,1011.6 723.0,1012.4 722.3,1013.1 721.6,1013.7 720.9,1014.4 720.0,1015.0 719.2,1015.6 718.3,1016.3 717.4,1016.9 716.4,1017.5 715.5,1018.1 714.5,1018.8 713.5,1019.4 712.5,1020.1 711.5,1020.9 710.6,1021.6 709.7,1022.4 708.9,1023.2 708.2,1023.9 707.7,1024.7 707.3,1025.4 707.1,1026.0 707.2,1026.7 707.4,1027.2 707.9,1027.7 708.7,1028.2 709.5,1028.6 710.5,1029.0 711.6,1029.4 712.6,1029.9 713.7,1030.4 714.7,1030.9 715.6,1031.5 716.4,1032.1 717.1,1032.8 717.8,1033.5 718.4,1034.3 719.0,1035.1 719.5,1036.0 719.9,1036.9 720.4,1037.8 720.7,1038.7 721.1,1039.6 721.4,1040.6 721.7,1041.6 722.0,1042.6 722.3,1043.5 722.6,1044.5 722.8,1045.5 723.1,1046.5 723.4,1047.4 723.7,1048.4 724.1,1049.3 724.5,1050.2 724.9,1051.1 725.3,1051.9 725.8,1052.7 726.3,1053.5 726.9,1054.2 727.6,1054.9 728.2,1055.6 729.0,1056.2 729.8,1056.7 730.6,1057.2 731.4,1057.7 732.3,1058.1 733.2,1058.5 734.2,1058.8 735.1,1059.1 736.1,1059.3 737.1,1059.5 738.2,1059.6 739.2,1059.7 740.2,1059.8 741.3,1059.7 742.3,1059.7 743.4,1059.5 744.4,1059.4 745.5,1059.1 746.5,1058.9 747.5,1058.6 748.5,1058.2 749.5,1057.8 750.4,1057.3 751.4,1056.8 752.3,1056.3 753.1,1055.7 754.0,1055.1 754.7,1054.4 755.5,1053.7 756.2,1053.0 756.9,1052.2 757.5,1051.4 758.1,1050.6 758.7,1049.7 759.3,1048.9 759.9,1048.1 760.4,1047.2 761.0,1046.4 761.6,1045.6 762.2,1044.8 762.8,1044.1 763.5,1043.3 764.2,1042.7 764.9,1042.0 765.7,1041.5 766.5,1041.0 767.4,1040.5 768.2,1040.1 769.2,1039.7 770.1,1039.4 771.1,1039.2 772.1,1038.9 773.1,1038.8 774.2,1038.7 775.2,1038.6 776.3,1038.6 777.4,1038.6 778.5,1038.6 779.6,1038.8 780.6,1038.9 781.7,1039.1 782.8,1039.3 783.9,1039.6 785.0,1039.8 786.0,1040.1 787.1,1040.4 788.1,1040.6 789.1,1040.8 790.1,1040.9 791.1,1041.0 792.1,1041.1 793.1,1041.0 794.0,1040.9 795.0,1040.6 795.9,1040.3 796.7,1039.8 797.6,1039.2 798.4,1038.5 799.2,1037.8 800.0,1036.9 800.8,1036.0 801.5,1035.2 802.2,1034.3 802.9,1033.5 803.5,1032.8 804.2,1032.1 804.8,1031.6 805.4,1031.3 805.9,1031.1 806.4,1031.2 807.0,1031.4 807.4,1031.8 807.9,1032.4 808.4,1033.2 808.9,1034.0 809.4,1034.9 809.8,1035.9 810.3,1036.9 810.9,1038.0 811.4,1039.1 812.0,1040.1 812.6,1041.2 813.2,1042.1 813.9,1043.0 814.6,1043.8 815.4,1044.6 816.1,1045.3 816.9,1046.1 817.6,1046.8 818.4,1047.5 819.1,1048.3 819.8,1049.1 820.4,1049.9 821.0,1050.8 821.6,1051.7 822.1,1052.7 822.5,1053.7 822.8,1054.6 823.0,1055.6 823.2,1056.5 823.2,1057.4 823.2,1058.2 823.0,1058.9 822.7,1059.6 822.3,1060.1 821.7,1060.5 821.0,1060.9 820.2,1061.1 819.3,1061.3 818.4,1061.5 817.3,1061.5 816.2,1061.6 815.1,1061.6 813.9,1061.6 812.8,1061.7 811.6,1061.7 810.4,1061.8 809.3,1062.0 808.2,1062.2 807.2,1062.4 806.2,1062.8 805.2,1063.1 804.3,1063.6 803.4,1064.1 802.6,1064.6 801.8,1065.2 801.0,1065.8 800.2,1066.5 799.5,1067.2 798.8,1067.9 798.1,1068.6 797.4,1069.4 796.7,1070.1 796.0,1070.9 795.4,1071.6 794.7,1072.4 794.0,1073.2 793.3,1073.9 792.6,1074.6 791.9,1075.3 791.1,1076.0 790.3,1076.7 789.5,1077.3 788.7,1077.9 787.9,1078.4 787.0,1078.9 786.1,1079.3 785.1,1079.7 784.1,1080.1 783.0,1080.3" fill="none" stroke="#dadada" stroke-width="1.7" stroke-linecap="round" stroke-linejoin="round"/>
<path d="M769.2,970.8 768.2,970.1 767.3,969.3 766.5,968.5 765.9,967.5 765.4,966.5 765.0,965.4 764.7,964.3 764.5,963.2 764.4,962.1 764.3,960.9 764.4,959.8 764.6,958.7 764.8,957.6 765.2,956.6 765.5,955.6 766.0,954.8 766.5,954.0 767.1,953.3 767.8,952.8 768.5,952.4 769.2,952.1 770.0,952.0 770.8,952.0 771.7,952.2 772.5,952.5 773.5,952.8 774.4,953.2 775.4,953.7 776.3,954.2 777.3,954.6 778.3,955.1 779.3,955.5 780.3,955.9 781.3,956.3 782.3,956.6 783.3,956.9 784.3,957.2 785.4,957.5 786.4,957.7 787.4,957.9 788.4,958.1 789.4,958.3 790.5,958.4 791.5,958.6 792.5,958.8 793.5,958.9 794.6,959.1 795.6,959.2 796.6,959.3 797.6,959.5 798.6,959.7 799.6,959.8 800.7,960.0 801.7,960.2 802.7,960.4 803.7,960.6 804.7,960.9 805.6,961.2 806.6,961.5 807.6,961.8 808.6,962.1 809.5,962.5 810.5,963.0" fill="none" stroke="#707070" stroke-width="3.5" stroke-linecap="round" stroke-linejoin="round"/>
<path d="M769.2,970.8 768.2,970.1 767.3,969.3 766.5,968.5 765.9,967.5 765.4,966.5 765.0,965.4 764.7,964.3 764.5,963.2 764.4,962.1 764.3,960.9 764.4,959.8 764.6,958.7 764.8,957.6 765.2,956.6 765.5,955.6 766.0,954.8 766.5,954.0 767.1,953.3 767.8,952.8 768.5,952.4 769.2,952.1 770.0,952.0 770.8,952.0 771.7,952.2 772.5,952.5 773.5,952.8 774.4,953.2 775.4,953.7 776.3,954.2 777.3,954.6 778.3,955.1 779.3,955.5 780.3,955.9 781.3,956.3 782.3,956.6 783.3,956.9 784.3,957.2 785.4,957.5 786.4,957.7 787.4,957.9 788.4,958.1 789.4,958.3 790.5,958.4 791.5,958.6 792.5,958.8 793.5,958.9 794.6,959.1 795.6,959.2 796.6,959.3 797.6,959.5 798.6,959.7 799.6,959.8 800.7,960.0 801.7,960.2 802.7,960.4 803.7,960.6 804.7,960.9 805.6,961.2 806.6,961.5 807.6,961.8 808.6,962.1 809.5,962.5 810.5,963.0" fill="none" stroke="#dadada" stroke-width="1.7" stroke-linecap="round" stroke-linejoin="round"/>
<circle cx="816.5" cy="965.0" r="5.8" fill="none" stroke="#707070" stroke-width="3.4"/>
<circle cx="816.5" cy="965.0" r="5.8" fill="none" stroke="#dadada" stroke-width="1.6"/>
<path d="M822.0,962.0 822.7,961.2 823.5,960.3 824.2,959.5 825.0,958.7 825.7,957.9 826.5,957.1 827.3,956.3 828.1,955.6 828.9,954.8 829.8,954.1 830.6,953.4 831.5,952.7 832.3,952.0 833.2,951.3 834.1,950.7 835.0,950.0" fill="none" stroke="#707070" stroke-width="3.5" stroke-linecap="round" stroke-linejoin="round"/>
<path d="M822.0,962.0 822.7,961.2 823.5,960.3 824.2,959.5 825.0,958.7 825.7,957.9 826.5,957.1 827.3,956.3 828.1,955.6 828.9,954.8 829.8,954.1 830.6,953.4 831.5,952.7 832.3,952.0 833.2,951.3 834.1,950.7 835.0,950.0" fill="none" stroke="#dadada" stroke-width="1.7" stroke-linecap="round" stroke-linejoin="round"/>
<path d="M832.6,933.9 833.0,930.3 833.3,927.4 833.7,925.2 834.0,923.5 834.4,922.4 834.8,921.8 835.2,921.6 835.6,921.8 836.0,922.2 836.5,922.9 836.9,923.8 837.4,924.7 837.9,925.7 838.4,926.7 839.0,927.5 839.5,928.3 840.1,928.8 840.7,929.1 841.4,929.0 842.0,928.6 842.7,928.0 843.4,927.2 844.1,926.4 844.7,925.7 845.3,925.1 845.9,924.8 846.4,924.8 846.8,925.2 847.2,925.8 847.5,926.6 847.7,927.7 847.8,928.8 847.9,930.1 847.8,931.4 847.6,932.7 847.4,933.9 847.0,935.1 846.5,936.1 845.9,937.0 845.1,937.6 844.3,938.0 843.2,938.0 842.1,937.7 840.8,937.0 839.4,935.9 837.8,934.2 836.0,932.0" fill="none" stroke="#707070" stroke-width="3.0" stroke-linecap="round" stroke-linejoin="round"/>
<path d="M832.6,933.9 833.0,930.3 833.3,927.4 833.7,925.2 834.0,923.5 834.4,922.4 834.8,921.8 835.2,921.6 835.6,921.8 836.0,922.2 836.5,922.9 836.9,923.8 837.4,924.7 837.9,925.7 838.4,926.7 839.0,927.5 839.5,928.3 840.1,928.8 840.7,929.1 841.4,929.0 842.0,928.6 842.7,928.0 843.4,927.2 844.1,926.4 844.7,925.7 845.3,925.1 845.9,924.8 846.4,924.8 846.8,925.2 847.2,925.8 847.5,926.6 847.7,927.7 847.8,928.8 847.9,930.1 847.8,931.4 847.6,932.7 847.4,933.9 847.0,935.1 846.5,936.1 845.9,937.0 845.1,937.6 844.3,938.0 843.2,938.0 842.1,937.7 840.8,937.0 839.4,935.9 837.8,934.2 836.0,932.0" fill="none" stroke="#dadada" stroke-width="1.2" stroke-linecap="round" stroke-linejoin="round"/>
<path d="M841.0,933.0 840.8,934.2 840.7,935.3 840.9,936.5 841.2,937.6 841.6,938.6 842.2,939.6 842.9,940.5 843.6,941.3 844.5,942.0 845.4,942.6 846.4,943.1 847.4,943.5 848.4,943.7 849.4,943.8 850.4,943.7 851.4,943.5 852.3,943.0 853.1,942.5 854.0,941.8 854.7,941.1 855.4,940.4 856.1,939.7 856.8,939.2 857.4,938.9 858.0,938.9 858.5,939.1 859.1,939.6 859.6,940.2 860.2,941.0 860.8,941.9 861.4,942.8 862.0,943.7 862.8,944.4 863.5,945.1 864.4,945.5 865.3,945.7 866.3,945.8 867.3,945.6 868.3,945.2 869.3,944.7 870.2,944.0 871.0,943.2 871.7,942.4 872.2,941.4 872.6,940.3 872.7,939.3 872.7,938.1 872.3,937.0 871.7,935.8" fill="none" stroke="#707070" stroke-width="3.0" stroke-linecap="round" stroke-linejoin="round"/>
<path d="M841.0,933.0 840.8,934.2 840.7,935.3 840.9,936.5 841.2,937.6 841.6,938.6 842.2,939.6 842.9,940.5 843.6,941.3 844.5,942.0 845.4,942.6 846.4,943.1 847.4,943.5 848.4,943.7 849.4,943.8 850.4,943.7 851.4,943.5 852.3,943.0 853.1,942.5 854.0,941.8 854.7,941.1 855.4,940.4 856.1,939.7 856.8,939.2 857.4,938.9 858.0,938.9 858.5,939.1 859.1,939.6 859.6,940.2 860.2,941.0 860.8,941.9 861.4,942.8 862.0,943.7 862.8,944.4 863.5,945.1 864.4,945.5 865.3,945.7 866.3,945.8 867.3,945.6 868.3,945.2 869.3,944.7 870.2,944.0 871.0,943.2 871.7,942.4 872.2,941.4 872.6,940.3 872.7,939.3 872.7,938.1 872.3,937.0 871.7,935.8" fill="none" stroke="#dadada" stroke-width="1.2" stroke-linecap="round" stroke-linejoin="round"/>
<path d="M871.5,936.0 871.2,934.7 871.1,933.5 871.0,932.4 871.2,931.3 871.4,930.2 871.7,929.2 872.1,928.3 872.7,927.5 873.3,926.7 874.0,926.0 874.8,925.3 875.6,924.7 876.5,924.2 877.5,923.7 878.5,923.3 879.5,923.0 880.5,922.7 881.6,922.5 882.7,922.4 883.8,922.3 884.9,922.3 885.9,922.3 887.0,922.4 888.0,922.6 889.1,922.8 890.1,923.1 891.0,923.4 892.0,923.8 892.9,924.2 893.7,924.7 894.6,925.3 895.3,925.9 896.0,926.5 896.7,927.2 897.2,927.9 897.7,928.7 898.2,929.5 898.6,930.3 898.9,931.2 899.1,932.1 899.3,933.1 899.5,934.0 899.6,935.0 899.6,936.0 899.6,937.0 899.6,938.1 899.5,939.1 899.4,940.2 899.3,941.2 899.2,942.3 899.0,943.3 898.8,944.3 898.5,945.4 898.3,946.4 898.0,947.5 897.7,948.5 897.3,949.5 897.0,950.6 896.6,951.6 896.2,952.6 895.8,953.6 895.4,954.6 895.0,955.6 894.5,956.6 894.0,957.5 893.5,958.5 893.1,959.4 892.5,960.4 892.0,961.3 891.5,962.2 891.0,963.1 890.4,964.0 889.9,964.8 889.3,965.7 888.8,966.5 888.2,967.3 887.6,968.1 887.1,968.9 886.5,969.7 885.9,970.4 885.4,971.1 884.8,971.8 884.2,972.5 883.7,973.1" fill="none" stroke="#707070" stroke-width="3.5" stroke-linecap="round" stroke-linejoin="round"/>
<path d="M871.5,936.0 871.2,934.7 871.1,933.5 871.0,932.4 871.2,931.3 871.4,930.2 871.7,929.2 872.1,928.3 872.7,927.5 873.3,926.7 874.0,926.0 874.8,925.3 875.6,924.7 876.5,924.2 877.5,923.7 878.5,923.3 879.5,923.0 880.5,922.7 881.6,922.5 882.7,922.4 883.8,922.3 884.9,922.3 885.9,922.3 887.0,922.4 888.0,922.6 889.1,922.8 890.1,923.1 891.0,923.4 892.0,923.8 892.9,924.2 893.7,924.7 894.6,925.3 895.3,925.9 896.0,926.5 896.7,927.2 897.2,927.9 897.7,928.7 898.2,929.5 898.6,930.3 898.9,931.2 899.1,932.1 899.3,933.1 899.5,934.0 899.6,935.0 899.6,936.0 899.6,937.0 899.6,938.1 899.5,939.1 899.4,940.2 899.3,941.2 899.2,942.3 899.0,943.3 898.8,944.3 898.5,945.4 898.3,946.4 898.0,947.5 897.7,948.5 897.3,949.5 897.0,950.6 896.6,951.6 896.2,952.6 895.8,953.6 895.4,954.6 895.0,955.6 894.5,956.6 894.0,957.5 893.5,958.5 893.1,959.4 892.5,960.4 892.0,961.3 891.5,962.2 891.0,963.1 890.4,964.0 889.9,964.8 889.3,965.7 888.8,966.5 888.2,967.3 887.6,968.1 887.1,968.9 886.5,969.7 885.9,970.4 885.4,971.1 884.8,971.8 884.2,972.5 883.7,973.1" fill="none" stroke="#dadada" stroke-width="1.7" stroke-linecap="round" stroke-linejoin="round"/>
<path d="M871.7,936.0 872.1,936.8 872.6,937.6 873.1,938.4 873.6,939.2 874.1,940.0 874.7,940.8 875.3,941.7 875.9,942.5 876.5,943.4 877.2,944.3 877.8,945.1 878.5,946.0 879.1,946.9 879.8,947.8 880.4,948.7 881.1,949.7 881.7,950.6 882.4,951.5 883.0,952.4 883.6,953.4 884.2,954.3 884.8,955.3 885.3,956.2 885.9,957.2 886.4,958.1 886.9,959.1 887.3,960.0 887.7,961.0 888.1,962.0 888.4,962.9 888.7,963.9 889.0,964.8 889.1,965.7 889.2,966.6 889.2,967.5 889.1,968.4 888.9,969.2 888.5,969.9 888.0,970.6 887.4,971.3 886.7,971.8 885.8,972.4 884.7,972.8 883.5,973.2" fill="none" stroke="#707070" stroke-width="3.5" stroke-linecap="round" stroke-linejoin="round"/>
<path d="M871.7,936.0 872.1,936.8 872.6,937.6 873.1,938.4 873.6,939.2 874.1,940.0 874.7,940.8 875.3,941.7 875.9,942.5 876.5,943.4 877.2,944.3 877.8,945.1 878.5,946.0 879.1,946.9 879.8,947.8 880.4,948.7 881.1,949.7 881.7,950.6 882.4,951.5 883.0,952.4 883.6,953.4 884.2,954.3 884.8,955.3 885.3,956.2 885.9,957.2 886.4,958.1 886.9,959.1 887.3,960.0 887.7,961.0 888.1,962.0 888.4,962.9 888.7,963.9 889.0,964.8 889.1,965.7 889.2,966.6 889.2,967.5 889.1,968.4 888.9,969.2 888.5,969.9 888.0,970.6 887.4,971.3 886.7,971.8 885.8,972.4 884.7,972.8 883.5,973.2" fill="none" stroke="#dadada" stroke-width="1.7" stroke-linecap="round" stroke-linejoin="round"/>
<path d="M885.3,969.8 887.9,971.2 890.2,972.4 892.3,973.3 894.1,974.0 895.8,974.5 897.3,974.8 898.6,974.9 899.7,974.8 900.6,974.6 901.5,974.2 902.1,973.6 902.7,973.0 903.2,972.2 903.5,971.3 903.8,970.4 903.9,969.3 904.0,968.2 904.1,967.1 904.1,965.9 904.1,964.6 904.1,963.4 904.0,962.2 904.0,960.9 903.9,959.7 903.9,958.5 904.0,957.4 904.0,956.3 904.2,955.2 904.4,954.3 904.7,953.5 905.0,952.7 905.5,952.1 906.1,951.6 906.8,951.3 907.6,951.0 908.5,951.0 909.4,951.0 910.4,951.2 911.3,951.5 912.1,951.9 912.9,952.5 913.6,953.1 914.2,953.9 914.6,954.8 915.0,955.7 915.2,956.7 915.3,957.8 915.3,958.8 915.2,959.8 915.0,960.8 914.7,961.7 914.3,962.6 913.9,963.5 913.4,964.4 912.8,965.2 912.2,966.0 911.4,966.7 910.7,967.4 909.9,968.0 909.0,968.6 908.1,969.2 907.1,969.7 906.2,970.2 905.2,970.6 904.1,971.0 903.1,971.4 902.0,971.7 900.9,971.9 899.9,972.1 898.8,972.2 897.7,972.3 896.6,972.3 895.6,972.3 894.5,972.2 893.5,972.1 892.5,971.9 891.5,971.6 890.6,971.3 889.7,970.9 888.9,970.4 888.1,969.9" fill="none" stroke="#707070" stroke-width="3.5" stroke-linecap="round" stroke-linejoin="round"/>
<path d="M885.3,969.8 887.9,971.2 890.2,972.4 892.3,973.3 894.1,974.0 895.8,974.5 897.3,974.8 898.6,974.9 899.7,974.8 900.6,974.6 901.5,974.2 902.1,973.6 902.7,973.0 903.2,972.2 903.5,971.3 903.8,970.4 903.9,969.3 904.0,968.2 904.1,967.1 904.1,965.9 904.1,964.6 904.1,963.4 904.0,962.2 904.0,960.9 903.9,959.7 903.9,958.5 904.0,957.4 904.0,956.3 904.2,955.2 904.4,954.3 904.7,953.5 905.0,952.7 905.5,952.1 906.1,951.6 906.8,951.3 907.6,951.0 908.5,951.0 909.4,951.0 910.4,951.2 911.3,951.5 912.1,951.9 912.9,952.5 913.6,953.1 914.2,953.9 914.6,954.8 915.0,955.7 915.2,956.7 915.3,957.8 915.3,958.8 915.2,959.8 915.0,960.8 914.7,961.7 914.3,962.6 913.9,963.5 913.4,964.4 912.8,965.2 912.2,966.0 911.4,966.7 910.7,967.4 909.9,968.0 909.0,968.6 908.1,969.2 907.1,969.7 906.2,970.2 905.2,970.6 904.1,971.0 903.1,971.4 902.0,971.7 900.9,971.9 899.9,972.1 898.8,972.2 897.7,972.3 896.6,972.3 895.6,972.3 894.5,972.2 893.5,972.1 892.5,971.9 891.5,971.6 890.6,971.3 889.7,970.9 888.9,970.4 888.1,969.9" fill="none" stroke="#dadada" stroke-width="1.7" stroke-linecap="round" stroke-linejoin="round"/>
<path d="M870.4,976.1 869.7,977.3 869.1,978.3 868.8,979.4 868.7,980.5 868.7,981.5 868.9,982.5 869.3,983.5 869.7,984.5 870.3,985.4 871.0,986.4 871.8,987.3 872.6,988.1 873.5,989.0 874.5,989.8 875.5,990.7 876.5,991.5 877.5,992.2 878.6,993.0 879.6,993.7 880.5,994.4 881.5,995.1 882.4,995.8 883.2,996.4 883.9,997.0 884.5,997.6 885.0,998.2 885.4,998.7 885.7,999.2 885.8,999.7 885.7,1000.2 885.5,1000.7 885.0,1001.1 884.5,1001.5 883.8,1001.8 883.0,1002.2 882.0,1002.4 881.0,1002.6 880.0,1002.8 878.9,1002.9 877.7,1002.9 876.6,1002.9 875.4,1002.7 874.3,1002.5 873.3,1002.2 872.3,1001.9 871.3,1001.4 870.5,1000.8 869.8,1000.1 869.3,999.3 868.9,998.4 868.7,997.3 868.6,996.1 868.8,994.8 869.2,993.4 869.9,991.8 870.8,990.0" fill="none" stroke="#707070" stroke-width="3.0" stroke-linecap="round" stroke-linejoin="round"/>
<path d="M870.4,976.1 869.7,977.3 869.1,978.3 868.8,979.4 868.7,980.5 868.7,981.5 868.9,982.5 869.3,983.5 869.7,984.5 870.3,985.4 871.0,986.4 871.8,987.3 872.6,988.1 873.5,989.0 874.5,989.8 875.5,990.7 876.5,991.5 877.5,992.2 878.6,993.0 879.6,993.7 880.5,994.4 881.5,995.1 882.4,995.8 883.2,996.4 883.9,997.0 884.5,997.6 885.0,998.2 885.4,998.7 885.7,999.2 885.8,999.7 885.7,1000.2 885.5,1000.7 885.0,1001.1 884.5,1001.5 883.8,1001.8 883.0,1002.2 882.0,1002.4 881.0,1002.6 880.0,1002.8 878.9,1002.9 877.7,1002.9 876.6,1002.9 875.4,1002.7 874.3,1002.5 873.3,1002.2 872.3,1001.9 871.3,1001.4 870.5,1000.8 869.8,1000.1 869.3,999.3 868.9,998.4 868.7,997.3 868.6,996.1 868.8,994.8 869.2,993.4 869.9,991.8 870.8,990.0" fill="none" stroke="#dadada" stroke-width="1.2" stroke-linecap="round" stroke-linejoin="round"/>
<path d="M857.9,954.0 858.9,954.5 859.8,954.9 860.8,955.4 861.7,955.9 862.7,956.4 863.7,956.8 864.6,957.3 865.6,957.8 866.5,958.3 867.5,958.8 868.5,959.2 869.4,959.7 870.4,960.2 871.3,960.7 872.3,961.1 873.3,961.6 874.2,962.1 875.2,962.6 876.1,963.1 877.1,963.5 878.0,964.0 879.0,964.5" fill="none" stroke="#707070" stroke-width="3.2" stroke-linecap="round" stroke-linejoin="round"/>
<path d="M857.9,954.0 858.9,954.5 859.8,954.9 860.8,955.4 861.7,955.9 862.7,956.4 863.7,956.8 864.6,957.3 865.6,957.8 866.5,958.3 867.5,958.8 868.5,959.2 869.4,959.7 870.4,960.2 871.3,960.7 872.3,961.1 873.3,961.6 874.2,962.1 875.2,962.6 876.1,963.1 877.1,963.5 878.0,964.0 879.0,964.5" fill="none" stroke="#dadada" stroke-width="1.4" stroke-linecap="round" stroke-linejoin="round"/>
<path d="M840.0,952.9 839.1,953.6 838.2,954.4 837.3,955.1 836.6,955.9 835.8,956.7 835.1,957.6 834.5,958.5 833.9,959.3 833.4,960.3 832.9,961.2 832.5,962.1 832.1,963.1 831.7,964.1 831.4,965.1 831.2,966.1 830.9,967.1 830.8,968.1 830.6,969.1 830.6,970.2 830.5,971.2 830.5,972.2 830.5,973.3 830.6,974.3 830.7,975.4 830.9,976.4 831.1,977.4 831.3,978.5 831.5,979.5 831.8,980.5 832.2,981.5 832.5,982.5 832.9,983.5 833.3,984.4 833.8,985.4 834.3,986.3 834.8,987.2 835.4,988.1 835.9,989.0 836.6,989.9 837.2,990.7 837.9,991.5 838.5,992.3 839.3,993.0 840.0,993.8 840.8,994.5 841.6,995.1 842.4,995.7 843.2,996.3 844.1,996.9 844.9,997.4 845.8,997.9 846.8,998.3 847.7,998.7 848.7,999.1 849.6,999.4 850.6,999.6 851.6,999.8 852.7,1000.0 853.7,1000.1 854.8,1000.2 855.8,1000.2 856.9,1000.1 858.0,1000.0" fill="none" stroke="#707070" stroke-width="3.5" stroke-linecap="round" stroke-linejoin="round"/>
<path d="M840.0,952.9 839.1,953.6 838.2,954.4 837.3,955.1 836.6,955.9 835.8,956.7 835.1,957.6 834.5,958.5 833.9,959.3 833.4,960.3 832.9,961.2 832.5,962.1 832.1,963.1 831.7,964.1 831.4,965.1 831.2,966.1 830.9,967.1 830.8,968.1 830.6,969.1 830.6,970.2 830.5,971.2 830.5,972.2 830.5,973.3 830.6,974.3 830.7,975.4 830.9,976.4 831.1,977.4 831.3,978.5 831.5,979.5 831.8,980.5 832.2,981.5 832.5,982.5 832.9,983.5 833.3,984.4 833.8,985.4 834.3,986.3 834.8,987.2 835.4,988.1 835.9,989.0 836.6,989.9 837.2,990.7 837.9,991.5 838.5,992.3 839.3,993.0 840.0,993.8 840.8,994.5 841.6,995.1 842.4,995.7 843.2,996.3 844.1,996.9 844.9,997.4 845.8,997.9 846.8,998.3 847.7,998.7 848.7,999.1 849.6,999.4 850.6,999.6 851.6,999.8 852.7,1000.0 853.7,1000.1 854.8,1000.2 855.8,1000.2 856.9,1000.1 858.0,1000.0" fill="none" stroke="#dadada" stroke-width="1.7" stroke-linecap="round" stroke-linejoin="round"/>
<path d="M820.0,959.2 820.9,958.5 821.8,957.8 822.7,957.1 823.6,956.5 824.5,955.9 825.5,955.3 826.4,954.8 827.4,954.3 828.4,953.8 829.5,953.3 830.5,952.9" fill="none" stroke="#707070" stroke-width="3.0" stroke-linecap="round" stroke-linejoin="round"/>
<path d="M820.0,959.2 820.9,958.5 821.8,957.8 822.7,957.1 823.6,956.5 824.5,955.9 825.5,955.3 826.4,954.8 827.4,954.3 828.4,953.8 829.5,953.3 830.5,952.9" fill="none" stroke="#dadada" stroke-width="1.2" stroke-linecap="round" stroke-linejoin="round"/>
<path d="M749.1,980.7 749.1,980.5 749.2,980.3 749.4,979.9 749.8,979.6 750.3,979.1 750.9,978.6 751.7,978.1 752.5,977.6 753.5,977.1 754.5,976.7 755.6,976.2 756.8,975.8 758.0,975.5 759.2,975.2 760.4,975.0 761.7,974.9 762.8,974.9 764.0,975.0 765.0,975.2 766.0,975.5 766.9,975.9 767.7,976.4 768.4,977.0 769.0,977.7" fill="none" stroke="#6a6a6a" stroke-width="4.3" stroke-linecap="round"/>
<path d="M749.1,980.7 749.1,980.5 749.2,980.3 749.4,979.9 749.8,979.6 750.3,979.1 750.9,978.6 751.7,978.1 752.5,977.6 753.5,977.1 754.5,976.7 755.6,976.2 756.8,975.8 758.0,975.5 759.2,975.2 760.4,975.0 761.7,974.9 762.8,974.9 764.0,975.0 765.0,975.2 766.0,975.5 766.9,975.9 767.7,976.4 768.4,977.0 769.0,977.7" fill="none" stroke="#a8a8a8" stroke-width="2.9" stroke-linecap="round"/>
<path d="M759.1,995.1 759.1,994.9 759.2,994.6 759.5,994.3 759.9,993.9 760.4,993.4 761.1,992.9 761.8,992.4 762.7,991.9 763.7,991.4 764.7,991.0 765.9,990.5 767.0,990.1 768.2,989.8 769.4,989.6 770.7,989.4 771.9,989.3 773.1,989.3 774.2,989.4 775.2,989.6 776.2,990.0 777.1,990.4 777.9,990.9 778.5,991.5 779.0,992.3" fill="none" stroke="#6a6a6a" stroke-width="4.3" stroke-linecap="round"/>
<path d="M759.1,995.1 759.1,994.9 759.2,994.6 759.5,994.3 759.9,993.9 760.4,993.4 761.1,992.9 761.8,992.4 762.7,991.9 763.7,991.4 764.7,991.0 765.9,990.5 767.0,990.1 768.2,989.8 769.4,989.6 770.7,989.4 771.9,989.3 773.1,989.3 774.2,989.4 775.2,989.6 776.2,990.0 777.1,990.4 777.9,990.9 778.5,991.5 779.0,992.3" fill="none" stroke="#a8a8a8" stroke-width="2.9" stroke-linecap="round"/>
<path d="M769.1,1009.4 769.1,1009.2 769.3,1008.9 769.6,1008.6 770.0,1008.1 770.5,1007.7 771.2,1007.2 772.0,1006.7 772.9,1006.2 773.9,1005.7 774.9,1005.2 776.1,1004.8 777.2,1004.4 778.5,1004.1 779.7,1003.9 780.9,1003.7 782.1,1003.7 783.3,1003.7 784.4,1003.8 785.4,1004.1 786.4,1004.4 787.2,1004.8 788.0,1005.4 788.6,1006.0 789.1,1006.8" fill="none" stroke="#6a6a6a" stroke-width="4.3" stroke-linecap="round"/>
<path d="M769.1,1009.4 769.1,1009.2 769.3,1008.9 769.6,1008.6 770.0,1008.1 770.5,1007.7 771.2,1007.2 772.0,1006.7 772.9,1006.2 773.9,1005.7 774.9,1005.2 776.1,1004.8 777.2,1004.4 778.5,1004.1 779.7,1003.9 780.9,1003.7 782.1,1003.7 783.3,1003.7 784.4,1003.8 785.4,1004.1 786.4,1004.4 787.2,1004.8 788.0,1005.4 788.6,1006.0 789.1,1006.8" fill="none" stroke="#a8a8a8" stroke-width="2.9" stroke-linecap="round"/>
<path d="M756.3,975.3 755.5,976.3 754.7,977.1 753.9,977.9 753.1,978.7 752.4,979.3 751.6,979.8 751.0,980.2 750.4,980.5 749.9,980.7 749.5,980.8 749.3,980.8 749.1,980.7" fill="none" stroke="#555" stroke-width="7.0" stroke-linecap="butt"/>
<path d="M756.3,975.3 755.5,976.3 754.7,977.1 753.9,977.9 753.1,978.7 752.4,979.3 751.6,979.8 751.0,980.2 750.4,980.5 749.9,980.7 749.5,980.8 749.3,980.8 749.1,980.7" fill="none" stroke="#cfcfcf" stroke-width="5.4" stroke-linecap="butt"/>
<path d="M756.3,975.3 755.5,976.3 754.7,977.1 753.9,977.9 753.1,978.7 752.4,979.3 751.6,979.8 751.0,980.2 750.4,980.5 749.9,980.7 749.5,980.8 749.3,980.8 749.1,980.7" fill="none" stroke="#f4f4f4" stroke-width="1.9" stroke-linecap="butt"/>
<path d="M769.0,977.7 769.4,978.5 769.7,979.4 769.9,980.4 769.9,981.3 769.8,982.4 769.6,983.5 769.2,984.6 768.8,985.7 768.2,986.8 767.6,987.8 766.9,988.9 766.2,989.9 765.4,990.8 764.6,991.7 763.8,992.5 763.0,993.2 762.2,993.8 761.5,994.3 760.9,994.6 760.3,994.9 759.8,995.1 759.5,995.2 759.2,995.2 759.1,995.1" fill="none" stroke="#555" stroke-width="7.0" stroke-linecap="butt"/>
<path d="M769.0,977.7 769.4,978.5 769.7,979.4 769.9,980.4 769.9,981.3 769.8,982.4 769.6,983.5 769.2,984.6 768.8,985.7 768.2,986.8 767.6,987.8 766.9,988.9 766.2,989.9 765.4,990.8 764.6,991.7 763.8,992.5 763.0,993.2 762.2,993.8 761.5,994.3 760.9,994.6 760.3,994.9 759.8,995.1 759.5,995.2 759.2,995.2 759.1,995.1" fill="none" stroke="#cfcfcf" stroke-width="5.4" stroke-linecap="butt"/>
<path d="M769.0,977.7 769.4,978.5 769.7,979.4 769.9,980.4 769.9,981.3 769.8,982.4 769.6,983.5 769.2,984.6 768.8,985.7 768.2,986.8 767.6,987.8 766.9,988.9 766.2,989.9 765.4,990.8 764.6,991.7 763.8,992.5 763.0,993.2 762.2,993.8 761.5,994.3 760.9,994.6 760.3,994.9 759.8,995.1 759.5,995.2 759.2,995.2 759.1,995.1" fill="none" stroke="#f4f4f4" stroke-width="1.9" stroke-linecap="butt"/>
<path d="M779.0,992.3 779.5,993.1 779.7,994.0 779.9,994.9 779.9,995.9 779.8,997.0 779.5,998.1 779.2,999.2 778.7,1000.3 778.1,1001.4 777.5,1002.4 776.8,1003.5 776.0,1004.4 775.2,1005.4 774.4,1006.2 773.6,1007.0 772.8,1007.7 772.1,1008.2 771.4,1008.7 770.8,1009.1 770.2,1009.4 769.8,1009.5 769.4,1009.6 769.2,1009.5 769.1,1009.4" fill="none" stroke="#555" stroke-width="7.0" stroke-linecap="butt"/>
<path d="M779.0,992.3 779.5,993.1 779.7,994.0 779.9,994.9 779.9,995.9 779.8,997.0 779.5,998.1 779.2,999.2 778.7,1000.3 778.1,1001.4 777.5,1002.4 776.8,1003.5 776.0,1004.4 775.2,1005.4 774.4,1006.2 773.6,1007.0 772.8,1007.7 772.1,1008.2 771.4,1008.7 770.8,1009.1 770.2,1009.4 769.8,1009.5 769.4,1009.6 769.2,1009.5 769.1,1009.4" fill="none" stroke="#cfcfcf" stroke-width="5.4" stroke-linecap="butt"/>
<path d="M779.0,992.3 779.5,993.1 779.7,994.0 779.9,994.9 779.9,995.9 779.8,997.0 779.5,998.1 779.2,999.2 778.7,1000.3 778.1,1001.4 777.5,1002.4 776.8,1003.5 776.0,1004.4 775.2,1005.4 774.4,1006.2 773.6,1007.0 772.8,1007.7 772.1,1008.2 771.4,1008.7 770.8,1009.1 770.2,1009.4 769.8,1009.5 769.4,1009.6 769.2,1009.5 769.1,1009.4" fill="none" stroke="#f4f4f4" stroke-width="1.9" stroke-linecap="butt"/>
<path d="M789.1,1006.8 789.5,1007.6 789.8,1008.5 789.9,1009.5 789.9,1010.5 789.7,1011.5 789.5,1012.6 789.1,1013.7 788.6,1014.8 788.0,1015.9 787.4,1017.0 786.6,1018.0 785.9,1019.0 785.1,1019.9 784.3,1020.7 783.5,1021.5 782.7,1022.1 782.0,1022.7 781.3,1023.2 780.7,1023.5 780.1,1023.8 779.7,1023.9" fill="none" stroke="#555" stroke-width="7.0" stroke-linecap="butt"/>
<path d="M789.1,1006.8 789.5,1007.6 789.8,1008.5 789.9,1009.5 789.9,1010.5 789.7,1011.5 789.5,1012.6 789.1,1013.7 788.6,1014.8 788.0,1015.9 787.4,1017.0 786.6,1018.0 785.9,1019.0 785.1,1019.9 784.3,1020.7 783.5,1021.5 782.7,1022.1 782.0,1022.7 781.3,1023.2 780.7,1023.5 780.1,1023.8 779.7,1023.9" fill="none" stroke="#cfcfcf" stroke-width="5.4" stroke-linecap="butt"/>
<path d="M789.1,1006.8 789.5,1007.6 789.8,1008.5 789.9,1009.5 789.9,1010.5 789.7,1011.5 789.5,1012.6 789.1,1013.7 788.6,1014.8 788.0,1015.9 787.4,1017.0 786.6,1018.0 785.9,1019.0 785.1,1019.9 784.3,1020.7 783.5,1021.5 782.7,1022.1 782.0,1022.7 781.3,1023.2 780.7,1023.5 780.1,1023.8 779.7,1023.9" fill="none" stroke="#f4f4f4" stroke-width="1.9" stroke-linecap="butt"/>
<path d="M830.4,958.6 830.4,958.3 830.5,958.0 830.9,957.6 831.4,957.2 832.0,956.8 832.8,956.3 833.8,955.9 834.9,955.4 836.1,955.0 837.3,954.7 838.7,954.4 840.1,954.1 841.5,954.0 843.0,953.9 844.4,953.9 845.8,954.0 847.2,954.2 848.4,954.5 849.6,955.0 850.6,955.5 851.6,956.1 852.3,956.8 853.0,957.7 853.4,958.6" fill="none" stroke="#6a6a6a" stroke-width="4.7" stroke-linecap="round"/>
<path d="M830.4,958.6 830.4,958.3 830.5,958.0 830.9,957.6 831.4,957.2 832.0,956.8 832.8,956.3 833.8,955.9 834.9,955.4 836.1,955.0 837.3,954.7 838.7,954.4 840.1,954.1 841.5,954.0 843.0,953.9 844.4,953.9 845.8,954.0 847.2,954.2 848.4,954.5 849.6,955.0 850.6,955.5 851.6,956.1 852.3,956.8 853.0,957.7 853.4,958.6" fill="none" stroke="#a8a8a8" stroke-width="3.3" stroke-linecap="round"/>
<path d="M838.0,975.4 838.1,975.1 838.3,974.8 838.7,974.4 839.2,974.0 840.0,973.6 840.8,973.1 841.8,972.7 842.9,972.2 844.1,971.8 845.5,971.5 846.8,971.2 848.2,971.0 849.7,970.8 851.1,970.8 852.6,970.8 853.9,971.0 855.2,971.2 856.5,971.6 857.6,972.0 858.6,972.6 859.5,973.3 860.2,974.0 860.8,974.9 861.2,975.8" fill="none" stroke="#6a6a6a" stroke-width="4.7" stroke-linecap="round"/>
<path d="M838.0,975.4 838.1,975.1 838.3,974.8 838.7,974.4 839.2,974.0 840.0,973.6 840.8,973.1 841.8,972.7 842.9,972.2 844.1,971.8 845.5,971.5 846.8,971.2 848.2,971.0 849.7,970.8 851.1,970.8 852.6,970.8 853.9,971.0 855.2,971.2 856.5,971.6 857.6,972.0 858.6,972.6 859.5,973.3 860.2,974.0 860.8,974.9 861.2,975.8" fill="none" stroke="#a8a8a8" stroke-width="3.3" stroke-linecap="round"/>
<path d="M845.7,992.3 845.8,992.0 846.1,991.6 846.5,991.2 847.1,990.8 847.9,990.3 848.8,989.9 849.8,989.5 851.0,989.0 852.2,988.7 853.6,988.3 854.9,988.1 856.4,987.9 857.8,987.7 859.3,987.7 860.7,987.8 862.0,988.0" fill="none" stroke="#6a6a6a" stroke-width="4.7" stroke-linecap="round"/>
<path d="M845.7,992.3 845.8,992.0 846.1,991.6 846.5,991.2 847.1,990.8 847.9,990.3 848.8,989.9 849.8,989.5 851.0,989.0 852.2,988.7 853.6,988.3 854.9,988.1 856.4,987.9 857.8,987.7 859.3,987.7 860.7,987.8 862.0,988.0" fill="none" stroke="#a8a8a8" stroke-width="3.3" stroke-linecap="round"/>
<path d="M840.0,954.3 838.8,955.2 837.7,956.0 836.6,956.7 835.5,957.3 834.5,957.8 833.5,958.2 832.7,958.5 831.9,958.7 831.3,958.8 830.8,958.8 830.5,958.7 830.4,958.6" fill="none" stroke="#555" stroke-width="7.5" stroke-linecap="butt"/>
<path d="M840.0,954.3 838.8,955.2 837.7,956.0 836.6,956.7 835.5,957.3 834.5,957.8 833.5,958.2 832.7,958.5 831.9,958.7 831.3,958.8 830.8,958.8 830.5,958.7 830.4,958.6" fill="none" stroke="#cfcfcf" stroke-width="5.9" stroke-linecap="butt"/>
<path d="M840.0,954.3 838.8,955.2 837.7,956.0 836.6,956.7 835.5,957.3 834.5,957.8 833.5,958.2 832.7,958.5 831.9,958.7 831.3,958.8 830.8,958.8 830.5,958.7 830.4,958.6" fill="none" stroke="#f4f4f4" stroke-width="2.1" stroke-linecap="butt"/>
<path d="M853.4,958.6 853.7,959.5 853.8,960.6 853.8,961.7 853.6,962.8 853.2,963.9 852.7,965.1 852.1,966.2 851.3,967.4 850.4,968.5 849.4,969.6 848.4,970.6 847.3,971.5 846.2,972.4 845.1,973.1 844.0,973.8 842.9,974.4 841.9,974.9 841.0,975.3 840.1,975.5 839.4,975.7 838.9,975.8 838.4,975.7 838.1,975.6 838.0,975.4" fill="none" stroke="#555" stroke-width="7.5" stroke-linecap="butt"/>
<path d="M853.4,958.6 853.7,959.5 853.8,960.6 853.8,961.7 853.6,962.8 853.2,963.9 852.7,965.1 852.1,966.2 851.3,967.4 850.4,968.5 849.4,969.6 848.4,970.6 847.3,971.5 846.2,972.4 845.1,973.1 844.0,973.8 842.9,974.4 841.9,974.9 841.0,975.3 840.1,975.5 839.4,975.7 838.9,975.8 838.4,975.7 838.1,975.6 838.0,975.4" fill="none" stroke="#cfcfcf" stroke-width="5.9" stroke-linecap="butt"/>
<path d="M853.4,958.6 853.7,959.5 853.8,960.6 853.8,961.7 853.6,962.8 853.2,963.9 852.7,965.1 852.1,966.2 851.3,967.4 850.4,968.5 849.4,969.6 848.4,970.6 847.3,971.5 846.2,972.4 845.1,973.1 844.0,973.8 842.9,974.4 841.9,974.9 841.0,975.3 840.1,975.5 839.4,975.7 838.9,975.8 838.4,975.7 838.1,975.6 838.0,975.4" fill="none" stroke="#f4f4f4" stroke-width="2.1" stroke-linecap="butt"/>
<path d="M861.2,975.8 861.5,976.8 861.5,977.8 861.4,978.9 861.2,980.1 860.8,981.2 860.2,982.4 859.5,983.5 858.7,984.7 857.8,985.7 856.8,986.8 855.8,987.8 854.7,988.7 853.5,989.5 852.4,990.3 851.3,990.9 850.3,991.5 849.3,991.9 848.4,992.3 847.6,992.5 846.9,992.7 846.4,992.7 846.0,992.6 845.8,992.5 845.7,992.3" fill="none" stroke="#555" stroke-width="7.5" stroke-linecap="butt"/>
<path d="M861.2,975.8 861.5,976.8 861.5,977.8 861.4,978.9 861.2,980.1 860.8,981.2 860.2,982.4 859.5,983.5 858.7,984.7 857.8,985.7 856.8,986.8 855.8,987.8 854.7,988.7 853.5,989.5 852.4,990.3 851.3,990.9 850.3,991.5 849.3,991.9 848.4,992.3 847.6,992.5 846.9,992.7 846.4,992.7 846.0,992.6 845.8,992.5 845.7,992.3" fill="none" stroke="#cfcfcf" stroke-width="5.9" stroke-linecap="butt"/>
<path d="M861.2,975.8 861.5,976.8 861.5,977.8 861.4,978.9 861.2,980.1 860.8,981.2 860.2,982.4 859.5,983.5 858.7,984.7 857.8,985.7 856.8,986.8 855.8,987.8 854.7,988.7 853.5,989.5 852.4,990.3 851.3,990.9 850.3,991.5 849.3,991.9 848.4,992.3 847.6,992.5 846.9,992.7 846.4,992.7 846.0,992.6 845.8,992.5 845.7,992.3" fill="none" stroke="#f4f4f4" stroke-width="2.1" stroke-linecap="butt"/>
<circle cx="770.91" cy="365.05" r="2.71" fill="none" stroke="#000" stroke-width="1.29"/>
<circle cx="990.33" cy="78.56" r="2.68" fill="none" stroke="#d9261c" stroke-width="1.28"/>
<circle cx="990.33" cy="119.76" r="2.68" fill="none" stroke="#f07c00" stroke-width="1.28"/>
<circle cx="990.33" cy="160.96" r="2.68" fill="none" stroke="#464da8" stroke-width="1.28"/>
<circle cx="275.38" cy="426.04" r="1.94" fill="none" stroke="#d9261c" stroke-width="0.93"/>
<circle cx="272.38" cy="455.64" r="1.94" fill="none" stroke="#f07c00" stroke-width="0.93"/>
<circle cx="267.38" cy="485.24" r="1.94" fill="none" stroke="#464da8" stroke-width="0.93"/>
<circle cx="283.04" cy="853.93" r="2.70" fill="none" stroke="#000" stroke-width="1.29"/>
<circle cx="416.54" cy="596.51" r="1.88" fill="none" stroke="#000" stroke-width="0.90"/>
</svg></body></html>
